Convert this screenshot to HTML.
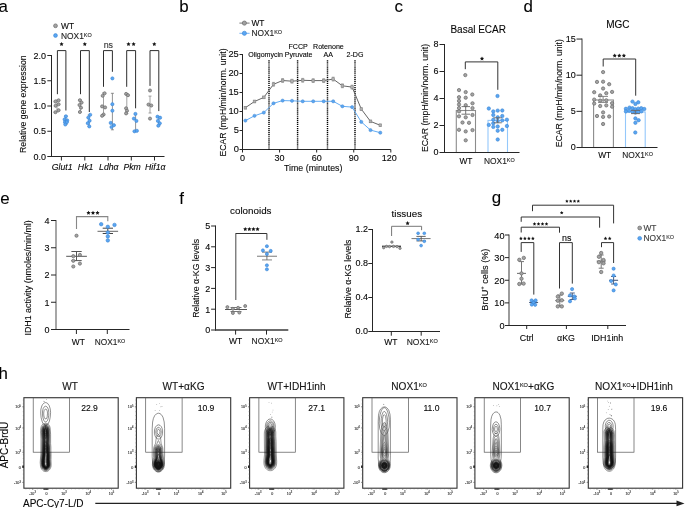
<!DOCTYPE html>
<html><head><meta charset="utf-8"><style>
html,body{margin:0;padding:0;background:#fff;}
svg{display:block;will-change:transform;}
text{font-family:"Liberation Sans",sans-serif;stroke:#222;stroke-width:0.18px;stroke-opacity:0.6;}
</style></head><body>
<svg width="685" height="508" viewBox="0 0 685 508">
<rect width="685" height="508" fill="#fff"/>
<text x="-1.5" y="11.8" font-size="16.9">a</text>
<circle cx="55.5" cy="25.8" r="1.9" fill="#a3a3a3" stroke="#6e6e6e" stroke-width="0.75"/>
<text x="61" y="28.9" font-size="8.4">WT</text>
<circle cx="55.5" cy="35.5" r="1.9" fill="#5aa6f2" stroke="#3a84d4" stroke-width="0.6"/>
<text x="61" y="38.6" font-size="8.4" text-anchor="start" fill="#1c1c1c">NOX1<tspan font-size="5.46" dy="-2.10">KO</tspan></text>
<line x1="51.5" y1="55" x2="51.5" y2="157" stroke="#262626" stroke-width="1.05"/>
<line x1="47.3" y1="55.5" x2="51.5" y2="55.5" stroke="#262626" stroke-width="1.0"/>
<text x="46.1" y="58.65" font-size="9.0" text-anchor="end">2.0</text>
<line x1="47.3" y1="80.75" x2="51.5" y2="80.75" stroke="#262626" stroke-width="1.0"/>
<text x="46.1" y="83.9" font-size="9.0" text-anchor="end">1.5</text>
<line x1="47.3" y1="106" x2="51.5" y2="106" stroke="#262626" stroke-width="1.0"/>
<text x="46.1" y="109.15" font-size="9.0" text-anchor="end">1.0</text>
<line x1="47.3" y1="131.25" x2="51.5" y2="131.25" stroke="#262626" stroke-width="1.0"/>
<text x="46.1" y="134.4" font-size="9.0" text-anchor="end">0.5</text>
<line x1="47.3" y1="156.5" x2="51.5" y2="156.5" stroke="#262626" stroke-width="1.0"/>
<text x="46.1" y="159.65" font-size="9.0" text-anchor="end">0.0</text>
<text x="26.4" y="104.2" font-size="8.7" text-anchor="middle" transform="rotate(-90 26.4 104.2)">Relative gene expression</text>
<line x1="51" y1="156.5" x2="164.5" y2="156.5" stroke="#262626" stroke-width="1.05"/>
<line x1="61.4" y1="156.5" x2="61.4" y2="160.5" stroke="#262626" stroke-width="1.0"/>
<line x1="84.8" y1="156.5" x2="84.8" y2="160.5" stroke="#262626" stroke-width="1.0"/>
<line x1="108" y1="156.5" x2="108" y2="160.5" stroke="#262626" stroke-width="1.0"/>
<line x1="131.3" y1="156.5" x2="131.3" y2="160.5" stroke="#262626" stroke-width="1.0"/>
<line x1="154.5" y1="156.5" x2="154.5" y2="160.5" stroke="#262626" stroke-width="1.0"/>
<text x="62.2" y="169.5" font-size="8.7" text-anchor="middle" font-style="italic">Glut1</text>
<text x="85.6" y="169.5" font-size="8.7" text-anchor="middle" font-style="italic">Hk1</text>
<text x="108.8" y="169.5" font-size="8.7" text-anchor="middle" font-style="italic">Ldh&#945;</text>
<text x="132.1" y="169.5" font-size="8.7" text-anchor="middle" font-style="italic">Pkm</text>
<text x="155.3" y="169.5" font-size="8.7" text-anchor="middle" font-style="italic">Hif1&#945;</text>
<polyline points="57.4,94.2 57.4,50.6 65.9,50.6 65.9,110.5" stroke="#2e2e2e" stroke-width="1.0" fill="none"/>
<polygon points="61.55,41.90 62.20,43.21 63.64,43.42 62.60,44.44 62.84,45.88 61.55,45.20 60.26,45.88 60.50,44.44 59.46,43.42 60.90,43.21" fill="#151515"/>
<polyline points="80.5,94.2 80.5,50.6 89.3,50.6 89.3,112" stroke="#2e2e2e" stroke-width="1.0" fill="none"/>
<polygon points="84.80,41.90 85.45,43.21 86.89,43.42 85.85,44.44 86.09,45.88 84.80,45.20 83.51,45.88 83.75,44.44 82.71,43.42 84.15,43.21" fill="#151515"/>
<polyline points="103.5,86.8 103.5,50.6 112.4,50.6 112.4,71.8" stroke="#2e2e2e" stroke-width="1.0" fill="none"/>
<text x="108.35" y="47.5" font-size="8.9" text-anchor="middle" fill="#3a3a3a">ns</text>
<polyline points="126.7,86.8 126.7,50.6 135.6,50.6 135.6,108.3" stroke="#2e2e2e" stroke-width="1.0" fill="none"/>
<polygon points="128.50,41.90 129.15,43.21 130.59,43.42 129.55,44.44 129.79,45.88 128.50,45.20 127.21,45.88 127.45,44.44 126.41,43.42 127.85,43.21" fill="#151515"/>
<polygon points="133.60,41.90 134.25,43.21 135.69,43.42 134.65,44.44 134.89,45.88 133.60,45.20 132.31,45.88 132.55,44.44 131.51,43.42 132.95,43.21" fill="#151515"/>
<polyline points="150,85.9 150,50.6 158.8,50.6 158.8,111.1" stroke="#2e2e2e" stroke-width="1.0" fill="none"/>
<polygon points="154.30,41.90 154.95,43.21 156.39,43.42 155.35,44.44 155.59,45.88 154.30,45.20 153.01,45.88 153.25,44.44 152.21,43.42 153.65,43.21" fill="#151515"/>
<line x1="57" y1="100" x2="57" y2="112" stroke="#8a8a8a" stroke-width="0.8"/>
<line x1="55.5" y1="100" x2="58.5" y2="100" stroke="#8a8a8a" stroke-width="0.8"/>
<line x1="55.5" y1="112" x2="58.5" y2="112" stroke="#8a8a8a" stroke-width="0.8"/>
<line x1="80.3" y1="100" x2="80.3" y2="112" stroke="#8a8a8a" stroke-width="0.8"/>
<line x1="78.8" y1="100" x2="81.8" y2="100" stroke="#8a8a8a" stroke-width="0.8"/>
<line x1="78.8" y1="112" x2="81.8" y2="112" stroke="#8a8a8a" stroke-width="0.8"/>
<line x1="103.5" y1="93" x2="103.5" y2="115.5" stroke="#8a8a8a" stroke-width="0.8"/>
<line x1="102" y1="93" x2="105" y2="93" stroke="#8a8a8a" stroke-width="0.8"/>
<line x1="102" y1="115.5" x2="105" y2="115.5" stroke="#8a8a8a" stroke-width="0.8"/>
<line x1="126.8" y1="93.5" x2="126.8" y2="113.5" stroke="#8a8a8a" stroke-width="0.8"/>
<line x1="125.3" y1="93.5" x2="128.3" y2="93.5" stroke="#8a8a8a" stroke-width="0.8"/>
<line x1="125.3" y1="113.5" x2="128.3" y2="113.5" stroke="#8a8a8a" stroke-width="0.8"/>
<line x1="150" y1="96.1" x2="150" y2="113" stroke="#8a8a8a" stroke-width="0.8"/>
<line x1="148.5" y1="96.1" x2="151.5" y2="96.1" stroke="#8a8a8a" stroke-width="0.8"/>
<line x1="148.5" y1="113" x2="151.5" y2="113" stroke="#8a8a8a" stroke-width="0.8"/>
<line x1="65.9" y1="116" x2="65.9" y2="124.5" stroke="#767676" stroke-width="0.8"/>
<line x1="64.4" y1="116" x2="67.4" y2="116" stroke="#767676" stroke-width="0.8"/>
<line x1="64.4" y1="124.5" x2="67.4" y2="124.5" stroke="#767676" stroke-width="0.8"/>
<line x1="89.2" y1="115" x2="89.2" y2="126.5" stroke="#767676" stroke-width="0.8"/>
<line x1="87.7" y1="115" x2="90.7" y2="115" stroke="#767676" stroke-width="0.8"/>
<line x1="87.7" y1="126.5" x2="90.7" y2="126.5" stroke="#767676" stroke-width="0.8"/>
<line x1="112.4" y1="93.3" x2="112.4" y2="129.8" stroke="#767676" stroke-width="0.8"/>
<line x1="110.9" y1="93.3" x2="113.9" y2="93.3" stroke="#767676" stroke-width="0.8"/>
<line x1="110.9" y1="129.8" x2="113.9" y2="129.8" stroke="#767676" stroke-width="0.8"/>
<line x1="135.6" y1="114" x2="135.6" y2="131" stroke="#767676" stroke-width="0.8"/>
<line x1="134.1" y1="114" x2="137.1" y2="114" stroke="#767676" stroke-width="0.8"/>
<line x1="134.1" y1="131" x2="137.1" y2="131" stroke="#767676" stroke-width="0.8"/>
<line x1="158.8" y1="116.7" x2="158.8" y2="125.7" stroke="#767676" stroke-width="0.8"/>
<line x1="157.3" y1="116.7" x2="160.3" y2="116.7" stroke="#767676" stroke-width="0.8"/>
<line x1="157.3" y1="125.7" x2="160.3" y2="125.7" stroke="#767676" stroke-width="0.8"/>
<circle cx="58.6" cy="100.3" r="1.55" fill="#a3a3a3" stroke="#6e6e6e" stroke-width="0.75"/>
<circle cx="55.4" cy="101.5" r="1.55" fill="#a3a3a3" stroke="#6e6e6e" stroke-width="0.75"/>
<circle cx="58.6" cy="104.3" r="1.55" fill="#a3a3a3" stroke="#6e6e6e" stroke-width="0.75"/>
<circle cx="55.6" cy="105.8" r="1.55" fill="#a3a3a3" stroke="#6e6e6e" stroke-width="0.75"/>
<circle cx="58.6" cy="110.2" r="1.55" fill="#a3a3a3" stroke="#6e6e6e" stroke-width="0.75"/>
<circle cx="55.4" cy="112.2" r="1.55" fill="#a3a3a3" stroke="#6e6e6e" stroke-width="0.75"/>
<circle cx="79.9" cy="100.2" r="1.55" fill="#a3a3a3" stroke="#6e6e6e" stroke-width="0.75"/>
<circle cx="81.6" cy="102.6" r="1.55" fill="#a3a3a3" stroke="#6e6e6e" stroke-width="0.75"/>
<circle cx="79.5" cy="105" r="1.55" fill="#a3a3a3" stroke="#6e6e6e" stroke-width="0.75"/>
<circle cx="81" cy="107.7" r="1.55" fill="#a3a3a3" stroke="#6e6e6e" stroke-width="0.75"/>
<circle cx="79.9" cy="112" r="1.55" fill="#a3a3a3" stroke="#6e6e6e" stroke-width="0.75"/>
<circle cx="104.6" cy="93.3" r="1.55" fill="#a3a3a3" stroke="#6e6e6e" stroke-width="0.75"/>
<circle cx="102.7" cy="95.8" r="1.55" fill="#a3a3a3" stroke="#6e6e6e" stroke-width="0.75"/>
<circle cx="102.1" cy="106.4" r="1.55" fill="#a3a3a3" stroke="#6e6e6e" stroke-width="0.75"/>
<circle cx="105.1" cy="107.4" r="1.55" fill="#a3a3a3" stroke="#6e6e6e" stroke-width="0.75"/>
<circle cx="103.6" cy="114.5" r="1.55" fill="#a3a3a3" stroke="#6e6e6e" stroke-width="0.75"/>
<circle cx="102.1" cy="115.8" r="1.55" fill="#a3a3a3" stroke="#6e6e6e" stroke-width="0.75"/>
<circle cx="126.1" cy="93.9" r="1.55" fill="#a3a3a3" stroke="#6e6e6e" stroke-width="0.75"/>
<circle cx="128" cy="95.2" r="1.55" fill="#a3a3a3" stroke="#6e6e6e" stroke-width="0.75"/>
<circle cx="126.1" cy="108.3" r="1.55" fill="#a3a3a3" stroke="#6e6e6e" stroke-width="0.75"/>
<circle cx="127" cy="110.7" r="1.55" fill="#a3a3a3" stroke="#6e6e6e" stroke-width="0.75"/>
<circle cx="126.1" cy="113.4" r="1.55" fill="#a3a3a3" stroke="#6e6e6e" stroke-width="0.75"/>
<circle cx="150" cy="90.5" r="1.55" fill="#a3a3a3" stroke="#6e6e6e" stroke-width="0.75"/>
<circle cx="148.5" cy="104.6" r="1.55" fill="#a3a3a3" stroke="#6e6e6e" stroke-width="0.75"/>
<circle cx="151.3" cy="105.5" r="1.55" fill="#a3a3a3" stroke="#6e6e6e" stroke-width="0.75"/>
<circle cx="150" cy="118.6" r="1.55" fill="#a3a3a3" stroke="#6e6e6e" stroke-width="0.75"/>
<circle cx="65.9" cy="116.3" r="1.6" fill="#5aa6f2" stroke="#3a84d4" stroke-width="0.6"/>
<circle cx="64.6" cy="119.4" r="1.6" fill="#5aa6f2" stroke="#3a84d4" stroke-width="0.6"/>
<circle cx="67.2" cy="120.4" r="1.6" fill="#5aa6f2" stroke="#3a84d4" stroke-width="0.6"/>
<circle cx="65" cy="122.2" r="1.6" fill="#5aa6f2" stroke="#3a84d4" stroke-width="0.6"/>
<circle cx="66.8" cy="122.2" r="1.6" fill="#5aa6f2" stroke="#3a84d4" stroke-width="0.6"/>
<circle cx="65.3" cy="124.5" r="1.6" fill="#5aa6f2" stroke="#3a84d4" stroke-width="0.6"/>
<circle cx="90.2" cy="114.8" r="1.6" fill="#5aa6f2" stroke="#3a84d4" stroke-width="0.6"/>
<circle cx="88.3" cy="117.6" r="1.6" fill="#5aa6f2" stroke="#3a84d4" stroke-width="0.6"/>
<circle cx="89.6" cy="120.7" r="1.6" fill="#5aa6f2" stroke="#3a84d4" stroke-width="0.6"/>
<circle cx="87.8" cy="123.2" r="1.6" fill="#5aa6f2" stroke="#3a84d4" stroke-width="0.6"/>
<circle cx="89.3" cy="126.4" r="1.6" fill="#5aa6f2" stroke="#3a84d4" stroke-width="0.6"/>
<circle cx="112.4" cy="78.4" r="1.6" fill="#5aa6f2" stroke="#3a84d4" stroke-width="0.6"/>
<circle cx="112.4" cy="104.2" r="1.6" fill="#5aa6f2" stroke="#3a84d4" stroke-width="0.6"/>
<circle cx="112.4" cy="110.7" r="1.6" fill="#5aa6f2" stroke="#3a84d4" stroke-width="0.6"/>
<circle cx="110.7" cy="122.9" r="1.6" fill="#5aa6f2" stroke="#3a84d4" stroke-width="0.6"/>
<circle cx="113.9" cy="125.2" r="1.6" fill="#5aa6f2" stroke="#3a84d4" stroke-width="0.6"/>
<circle cx="111.5" cy="127" r="1.6" fill="#5aa6f2" stroke="#3a84d4" stroke-width="0.6"/>
<circle cx="135.4" cy="113.9" r="1.6" fill="#5aa6f2" stroke="#3a84d4" stroke-width="0.6"/>
<circle cx="133.9" cy="118.6" r="1.6" fill="#5aa6f2" stroke="#3a84d4" stroke-width="0.6"/>
<circle cx="136.4" cy="120.9" r="1.6" fill="#5aa6f2" stroke="#3a84d4" stroke-width="0.6"/>
<circle cx="134.5" cy="131.3" r="1.6" fill="#5aa6f2" stroke="#3a84d4" stroke-width="0.6"/>
<circle cx="136.9" cy="130.8" r="1.6" fill="#5aa6f2" stroke="#3a84d4" stroke-width="0.6"/>
<circle cx="157.5" cy="116.7" r="1.6" fill="#5aa6f2" stroke="#3a84d4" stroke-width="0.6"/>
<circle cx="160.1" cy="117.7" r="1.6" fill="#5aa6f2" stroke="#3a84d4" stroke-width="0.6"/>
<circle cx="157.9" cy="120.9" r="1.6" fill="#5aa6f2" stroke="#3a84d4" stroke-width="0.6"/>
<circle cx="159.8" cy="123.3" r="1.6" fill="#5aa6f2" stroke="#3a84d4" stroke-width="0.6"/>
<circle cx="158.3" cy="125.7" r="1.6" fill="#5aa6f2" stroke="#3a84d4" stroke-width="0.6"/>
<text x="179.3" y="12" font-size="16.9">b</text>
<line x1="239.4" y1="23.1" x2="249.6" y2="23.1" stroke="#6a6a6a" stroke-width="0.9"/>
<circle cx="244.4" cy="23.1" r="2.1" fill="#a0a0a0" stroke="#6a6a6a" stroke-width="0.7"/>
<text x="251.4" y="26.1" font-size="8.4">WT</text>
<line x1="239.4" y1="33.3" x2="249.6" y2="33.3" stroke="#6aaaf0" stroke-width="0.9"/>
<circle cx="244.4" cy="33.3" r="2.1" fill="#5aa6f2" stroke="#3a84d4" stroke-width="0.6"/>
<text x="251.4" y="36.3" font-size="8.4" text-anchor="start" fill="#1c1c1c">NOX1<tspan font-size="5.46" dy="-2.10">KO</tspan></text>
<line x1="242.5" y1="54" x2="242.5" y2="150" stroke="#262626" stroke-width="1.05"/>
<line x1="239.5" y1="54.5" x2="242.5" y2="54.5" stroke="#262626" stroke-width="1.0"/>
<text x="238.8" y="57.36" font-size="9.3" text-anchor="end">25</text>
<line x1="239.5" y1="73.5" x2="242.5" y2="73.5" stroke="#262626" stroke-width="1.0"/>
<text x="238.8" y="76.35" font-size="9.3" text-anchor="end">20</text>
<line x1="239.5" y1="92.5" x2="242.5" y2="92.5" stroke="#262626" stroke-width="1.0"/>
<text x="238.8" y="95.35" font-size="9.3" text-anchor="end">15</text>
<line x1="239.5" y1="111.5" x2="242.5" y2="111.5" stroke="#262626" stroke-width="1.0"/>
<text x="238.8" y="114.35" font-size="9.3" text-anchor="end">10</text>
<line x1="239.5" y1="130.5" x2="242.5" y2="130.5" stroke="#262626" stroke-width="1.0"/>
<text x="238.8" y="133.35" font-size="9.3" text-anchor="end">5</text>
<line x1="239.5" y1="149.5" x2="242.5" y2="149.5" stroke="#262626" stroke-width="1.0"/>
<text x="238.8" y="152.35" font-size="9.3" text-anchor="end">0</text>
<line x1="242" y1="149.5" x2="390.82" y2="149.5" stroke="#262626" stroke-width="1.05"/>
<line x1="242.5" y1="149.5" x2="242.5" y2="152.5" stroke="#262626" stroke-width="1.0"/>
<line x1="279.58" y1="149.5" x2="279.58" y2="152.5" stroke="#262626" stroke-width="1.0"/>
<line x1="316.66" y1="149.5" x2="316.66" y2="152.5" stroke="#262626" stroke-width="1.0"/>
<line x1="353.74" y1="149.5" x2="353.74" y2="152.5" stroke="#262626" stroke-width="1.0"/>
<line x1="390.82" y1="149.5" x2="390.82" y2="152.5" stroke="#262626" stroke-width="1.0"/>
<text x="242.5" y="161.3" font-size="9.0" text-anchor="middle">0</text>
<text x="279.58" y="161.3" font-size="9.0" text-anchor="middle">30</text>
<text x="316.66" y="161.3" font-size="9.0" text-anchor="middle">60</text>
<text x="353.74" y="161.3" font-size="9.0" text-anchor="middle">90</text>
<text x="389.32" y="161.3" font-size="9.0" text-anchor="middle">120</text>
<text x="313.2" y="171.2" font-size="8.8" text-anchor="middle">Time (minutes)</text>
<text x="225.6" y="102.5" font-size="8.7" text-anchor="middle" transform="rotate(-90 225.6 102.5)">ECAR (mpH/min/norm. unit)</text>
<line x1="269" y1="60.3" x2="269" y2="149.5" stroke="#000" stroke-width="1.45" stroke-dasharray="1.2 0.85"/>
<line x1="297.6" y1="60.3" x2="297.6" y2="149.5" stroke="#000" stroke-width="1.45" stroke-dasharray="1.2 0.85"/>
<line x1="327.5" y1="60.3" x2="327.5" y2="149.5" stroke="#000" stroke-width="1.45" stroke-dasharray="1.2 0.85"/>
<line x1="355" y1="60.3" x2="355" y2="149.5" stroke="#000" stroke-width="1.45" stroke-dasharray="1.2 0.85"/>
<text x="265.6" y="56.6" font-size="7.05" text-anchor="middle">Oligomycin</text>
<text x="298.6" y="56.6" font-size="7.05" text-anchor="middle">Pyruvate</text>
<text x="298.1" y="49.3" font-size="7.1" text-anchor="middle">FCCP</text>
<text x="328.4" y="49.4" font-size="7.1" text-anchor="middle">Rotenone</text>
<text x="328.3" y="56.8" font-size="7.1" text-anchor="middle">AA</text>
<text x="355" y="56.8" font-size="7.1" text-anchor="middle">2-DG</text>
<polyline points="245.4,107.7 254.5,101.5 263.8,97.4 273.5,84.3 282.6,80.5 292,81.2 302.7,80.3 313.2,80.6 323.7,80.6 333.2,79.1 342.4,85.8 352.1,87.1 361.3,109.1 370.5,121.4 380.3,125.3" stroke="#666" stroke-width="1.0" fill="none"/>
<polyline points="245.4,120.6 254.5,115.8 263.8,112.6 273.5,103.3 282.6,100.6 292,100.8 302.7,101.3 313.2,101.3 323.7,101.3 333.2,101.3 342.4,106.3 352.1,107.1 361.3,121.9 370.5,130.1 380.3,132.7" stroke="#5aa6f2" stroke-width="0.95" fill="none"/>
<line x1="245.4" y1="106.5" x2="245.4" y2="108.9" stroke="#888" stroke-width="0.7"/>
<line x1="244" y1="106.5" x2="246.8" y2="106.5" stroke="#888" stroke-width="0.7"/>
<line x1="244" y1="108.9" x2="246.8" y2="108.9" stroke="#888" stroke-width="0.7"/>
<rect x="244.05" y="106.35" width="2.7" height="2.7" fill="#b0b0b0" stroke="#808080" stroke-width="0.5"/>
<line x1="254.5" y1="100.3" x2="254.5" y2="102.7" stroke="#888" stroke-width="0.7"/>
<line x1="253.1" y1="100.3" x2="255.9" y2="100.3" stroke="#888" stroke-width="0.7"/>
<line x1="253.1" y1="102.7" x2="255.9" y2="102.7" stroke="#888" stroke-width="0.7"/>
<rect x="253.15" y="100.15" width="2.7" height="2.7" fill="#b0b0b0" stroke="#808080" stroke-width="0.5"/>
<line x1="263.8" y1="96.2" x2="263.8" y2="98.6" stroke="#888" stroke-width="0.7"/>
<line x1="262.4" y1="96.2" x2="265.2" y2="96.2" stroke="#888" stroke-width="0.7"/>
<line x1="262.4" y1="98.6" x2="265.2" y2="98.6" stroke="#888" stroke-width="0.7"/>
<rect x="262.45" y="96.05" width="2.7" height="2.7" fill="#b0b0b0" stroke="#808080" stroke-width="0.5"/>
<line x1="273.5" y1="82.4" x2="273.5" y2="86.2" stroke="#888" stroke-width="0.7"/>
<line x1="272.1" y1="82.4" x2="274.9" y2="82.4" stroke="#888" stroke-width="0.7"/>
<line x1="272.1" y1="86.2" x2="274.9" y2="86.2" stroke="#888" stroke-width="0.7"/>
<rect x="272.15" y="82.95" width="2.7" height="2.7" fill="#b0b0b0" stroke="#808080" stroke-width="0.5"/>
<line x1="282.6" y1="78.6" x2="282.6" y2="82.4" stroke="#888" stroke-width="0.7"/>
<line x1="281.2" y1="78.6" x2="284" y2="78.6" stroke="#888" stroke-width="0.7"/>
<line x1="281.2" y1="82.4" x2="284" y2="82.4" stroke="#888" stroke-width="0.7"/>
<rect x="281.25" y="79.15" width="2.7" height="2.7" fill="#b0b0b0" stroke="#808080" stroke-width="0.5"/>
<line x1="292" y1="79.3" x2="292" y2="83.1" stroke="#888" stroke-width="0.7"/>
<line x1="290.6" y1="79.3" x2="293.4" y2="79.3" stroke="#888" stroke-width="0.7"/>
<line x1="290.6" y1="83.1" x2="293.4" y2="83.1" stroke="#888" stroke-width="0.7"/>
<rect x="290.65" y="79.85" width="2.7" height="2.7" fill="#b0b0b0" stroke="#808080" stroke-width="0.5"/>
<line x1="302.7" y1="78.4" x2="302.7" y2="82.2" stroke="#888" stroke-width="0.7"/>
<line x1="301.3" y1="78.4" x2="304.1" y2="78.4" stroke="#888" stroke-width="0.7"/>
<line x1="301.3" y1="82.2" x2="304.1" y2="82.2" stroke="#888" stroke-width="0.7"/>
<rect x="301.35" y="78.95" width="2.7" height="2.7" fill="#b0b0b0" stroke="#808080" stroke-width="0.5"/>
<line x1="313.2" y1="78.7" x2="313.2" y2="82.5" stroke="#888" stroke-width="0.7"/>
<line x1="311.8" y1="78.7" x2="314.6" y2="78.7" stroke="#888" stroke-width="0.7"/>
<line x1="311.8" y1="82.5" x2="314.6" y2="82.5" stroke="#888" stroke-width="0.7"/>
<rect x="311.85" y="79.25" width="2.7" height="2.7" fill="#b0b0b0" stroke="#808080" stroke-width="0.5"/>
<line x1="323.7" y1="78.7" x2="323.7" y2="82.5" stroke="#888" stroke-width="0.7"/>
<line x1="322.3" y1="78.7" x2="325.1" y2="78.7" stroke="#888" stroke-width="0.7"/>
<line x1="322.3" y1="82.5" x2="325.1" y2="82.5" stroke="#888" stroke-width="0.7"/>
<rect x="322.35" y="79.25" width="2.7" height="2.7" fill="#b0b0b0" stroke="#808080" stroke-width="0.5"/>
<line x1="333.2" y1="77.2" x2="333.2" y2="81" stroke="#888" stroke-width="0.7"/>
<line x1="331.8" y1="77.2" x2="334.6" y2="77.2" stroke="#888" stroke-width="0.7"/>
<line x1="331.8" y1="81" x2="334.6" y2="81" stroke="#888" stroke-width="0.7"/>
<rect x="331.85" y="77.75" width="2.7" height="2.7" fill="#b0b0b0" stroke="#808080" stroke-width="0.5"/>
<line x1="342.4" y1="83.9" x2="342.4" y2="87.7" stroke="#888" stroke-width="0.7"/>
<line x1="341" y1="83.9" x2="343.8" y2="83.9" stroke="#888" stroke-width="0.7"/>
<line x1="341" y1="87.7" x2="343.8" y2="87.7" stroke="#888" stroke-width="0.7"/>
<rect x="341.05" y="84.45" width="2.7" height="2.7" fill="#b0b0b0" stroke="#808080" stroke-width="0.5"/>
<line x1="352.1" y1="85.2" x2="352.1" y2="89" stroke="#888" stroke-width="0.7"/>
<line x1="350.7" y1="85.2" x2="353.5" y2="85.2" stroke="#888" stroke-width="0.7"/>
<line x1="350.7" y1="89" x2="353.5" y2="89" stroke="#888" stroke-width="0.7"/>
<rect x="350.75" y="85.75" width="2.7" height="2.7" fill="#b0b0b0" stroke="#808080" stroke-width="0.5"/>
<line x1="361.3" y1="107.9" x2="361.3" y2="110.3" stroke="#888" stroke-width="0.7"/>
<line x1="359.9" y1="107.9" x2="362.7" y2="107.9" stroke="#888" stroke-width="0.7"/>
<line x1="359.9" y1="110.3" x2="362.7" y2="110.3" stroke="#888" stroke-width="0.7"/>
<rect x="359.95" y="107.75" width="2.7" height="2.7" fill="#b0b0b0" stroke="#808080" stroke-width="0.5"/>
<line x1="370.5" y1="120.2" x2="370.5" y2="122.6" stroke="#888" stroke-width="0.7"/>
<line x1="369.1" y1="120.2" x2="371.9" y2="120.2" stroke="#888" stroke-width="0.7"/>
<line x1="369.1" y1="122.6" x2="371.9" y2="122.6" stroke="#888" stroke-width="0.7"/>
<rect x="369.15" y="120.05" width="2.7" height="2.7" fill="#b0b0b0" stroke="#808080" stroke-width="0.5"/>
<line x1="380.3" y1="124.1" x2="380.3" y2="126.5" stroke="#888" stroke-width="0.7"/>
<line x1="378.9" y1="124.1" x2="381.7" y2="124.1" stroke="#888" stroke-width="0.7"/>
<line x1="378.9" y1="126.5" x2="381.7" y2="126.5" stroke="#888" stroke-width="0.7"/>
<rect x="378.95" y="123.95" width="2.7" height="2.7" fill="#b0b0b0" stroke="#808080" stroke-width="0.5"/>
<circle cx="245.4" cy="120.6" r="1.6" fill="#5aa6f2" stroke="#4a8ad0" stroke-width="0.5"/>
<circle cx="254.5" cy="115.8" r="1.6" fill="#5aa6f2" stroke="#4a8ad0" stroke-width="0.5"/>
<circle cx="263.8" cy="112.6" r="1.6" fill="#5aa6f2" stroke="#4a8ad0" stroke-width="0.5"/>
<circle cx="273.5" cy="103.3" r="1.6" fill="#5aa6f2" stroke="#4a8ad0" stroke-width="0.5"/>
<circle cx="282.6" cy="100.6" r="1.6" fill="#5aa6f2" stroke="#4a8ad0" stroke-width="0.5"/>
<circle cx="292" cy="100.8" r="1.6" fill="#5aa6f2" stroke="#4a8ad0" stroke-width="0.5"/>
<circle cx="302.7" cy="101.3" r="1.6" fill="#5aa6f2" stroke="#4a8ad0" stroke-width="0.5"/>
<circle cx="313.2" cy="101.3" r="1.6" fill="#5aa6f2" stroke="#4a8ad0" stroke-width="0.5"/>
<circle cx="323.7" cy="101.3" r="1.6" fill="#5aa6f2" stroke="#4a8ad0" stroke-width="0.5"/>
<circle cx="333.2" cy="101.3" r="1.6" fill="#5aa6f2" stroke="#4a8ad0" stroke-width="0.5"/>
<circle cx="342.4" cy="106.3" r="1.6" fill="#5aa6f2" stroke="#4a8ad0" stroke-width="0.5"/>
<circle cx="352.1" cy="107.1" r="1.6" fill="#5aa6f2" stroke="#4a8ad0" stroke-width="0.5"/>
<circle cx="361.3" cy="121.9" r="1.6" fill="#5aa6f2" stroke="#4a8ad0" stroke-width="0.5"/>
<circle cx="370.5" cy="130.1" r="1.6" fill="#5aa6f2" stroke="#4a8ad0" stroke-width="0.5"/>
<circle cx="380.3" cy="132.7" r="1.6" fill="#5aa6f2" stroke="#4a8ad0" stroke-width="0.5"/>
<text x="394.4" y="12" font-size="16.9">c</text>
<text x="478.2" y="33.2" font-size="10.0" text-anchor="middle">Basal ECAR</text>
<text x="428.3" y="98" font-size="8.7" text-anchor="middle" transform="rotate(-90 428.3 98)">ECAR (mpH/min/norm. unit)</text>
<rect x="456.3" y="110.5" width="19.2" height="42" fill="#fff" stroke="#8c8c8c" stroke-width="1.1"/>
<rect x="488.0" y="120.4" width="19.5" height="32.1" fill="#fff" stroke="#94c8fb" stroke-width="1.1"/>
<circle cx="465.3" cy="75.1" r="1.65" fill="#a3a3a3" stroke="#6e6e6e" stroke-width="0.75"/>
<circle cx="459" cy="90.1" r="1.65" fill="#a3a3a3" stroke="#6e6e6e" stroke-width="0.75"/>
<circle cx="465.7" cy="92.1" r="1.65" fill="#a3a3a3" stroke="#6e6e6e" stroke-width="0.75"/>
<circle cx="472.3" cy="94.5" r="1.65" fill="#a3a3a3" stroke="#6e6e6e" stroke-width="0.75"/>
<circle cx="459" cy="97.2" r="1.65" fill="#a3a3a3" stroke="#6e6e6e" stroke-width="0.75"/>
<circle cx="465.7" cy="97.7" r="1.65" fill="#a3a3a3" stroke="#6e6e6e" stroke-width="0.75"/>
<circle cx="459" cy="100.9" r="1.65" fill="#a3a3a3" stroke="#6e6e6e" stroke-width="0.75"/>
<circle cx="472.5" cy="103.3" r="1.65" fill="#a3a3a3" stroke="#6e6e6e" stroke-width="0.75"/>
<circle cx="459" cy="104.5" r="1.65" fill="#a3a3a3" stroke="#6e6e6e" stroke-width="0.75"/>
<circle cx="465.7" cy="105.2" r="1.65" fill="#a3a3a3" stroke="#6e6e6e" stroke-width="0.75"/>
<circle cx="459" cy="108.1" r="1.65" fill="#a3a3a3" stroke="#6e6e6e" stroke-width="0.75"/>
<circle cx="472.5" cy="108.1" r="1.65" fill="#a3a3a3" stroke="#6e6e6e" stroke-width="0.75"/>
<circle cx="459" cy="111.4" r="1.65" fill="#a3a3a3" stroke="#6e6e6e" stroke-width="0.75"/>
<circle cx="459" cy="116.3" r="1.65" fill="#a3a3a3" stroke="#6e6e6e" stroke-width="0.75"/>
<circle cx="465.7" cy="117.3" r="1.65" fill="#a3a3a3" stroke="#6e6e6e" stroke-width="0.75"/>
<circle cx="472.5" cy="115" r="1.65" fill="#a3a3a3" stroke="#6e6e6e" stroke-width="0.75"/>
<circle cx="462.5" cy="122.5" r="1.65" fill="#a3a3a3" stroke="#6e6e6e" stroke-width="0.75"/>
<circle cx="469" cy="122.8" r="1.65" fill="#a3a3a3" stroke="#6e6e6e" stroke-width="0.75"/>
<circle cx="459" cy="129.8" r="1.65" fill="#a3a3a3" stroke="#6e6e6e" stroke-width="0.75"/>
<circle cx="465.7" cy="131.4" r="1.65" fill="#a3a3a3" stroke="#6e6e6e" stroke-width="0.75"/>
<circle cx="472.5" cy="130.1" r="1.65" fill="#a3a3a3" stroke="#6e6e6e" stroke-width="0.75"/>
<circle cx="465.7" cy="140.3" r="1.65" fill="#a3a3a3" stroke="#6e6e6e" stroke-width="0.75"/>
<circle cx="497.5" cy="96" r="1.7" fill="#5aa6f2" stroke="#3a84d4" stroke-width="0.6"/>
<circle cx="488.8" cy="108.5" r="1.7" fill="#5aa6f2" stroke="#3a84d4" stroke-width="0.6"/>
<circle cx="493.3" cy="111.4" r="1.7" fill="#5aa6f2" stroke="#3a84d4" stroke-width="0.6"/>
<circle cx="497.7" cy="110.6" r="1.7" fill="#5aa6f2" stroke="#3a84d4" stroke-width="0.6"/>
<circle cx="502.3" cy="110.5" r="1.7" fill="#5aa6f2" stroke="#3a84d4" stroke-width="0.6"/>
<circle cx="493.3" cy="115" r="1.7" fill="#5aa6f2" stroke="#3a84d4" stroke-width="0.6"/>
<circle cx="497.7" cy="117.3" r="1.7" fill="#5aa6f2" stroke="#3a84d4" stroke-width="0.6"/>
<circle cx="502.3" cy="116" r="1.7" fill="#5aa6f2" stroke="#3a84d4" stroke-width="0.6"/>
<circle cx="493.3" cy="119.7" r="1.7" fill="#5aa6f2" stroke="#3a84d4" stroke-width="0.6"/>
<circle cx="497.7" cy="120.9" r="1.7" fill="#5aa6f2" stroke="#3a84d4" stroke-width="0.6"/>
<circle cx="502.3" cy="120.4" r="1.7" fill="#5aa6f2" stroke="#3a84d4" stroke-width="0.6"/>
<circle cx="506.9" cy="119.7" r="1.7" fill="#5aa6f2" stroke="#3a84d4" stroke-width="0.6"/>
<circle cx="488.8" cy="124.9" r="1.7" fill="#5aa6f2" stroke="#3a84d4" stroke-width="0.6"/>
<circle cx="493.3" cy="123.3" r="1.7" fill="#5aa6f2" stroke="#3a84d4" stroke-width="0.6"/>
<circle cx="493.3" cy="126.9" r="1.7" fill="#5aa6f2" stroke="#3a84d4" stroke-width="0.6"/>
<circle cx="497.7" cy="126.5" r="1.7" fill="#5aa6f2" stroke="#3a84d4" stroke-width="0.6"/>
<circle cx="506.9" cy="126" r="1.7" fill="#5aa6f2" stroke="#3a84d4" stroke-width="0.6"/>
<circle cx="497.7" cy="130.7" r="1.7" fill="#5aa6f2" stroke="#3a84d4" stroke-width="0.6"/>
<circle cx="502.3" cy="129.8" r="1.7" fill="#5aa6f2" stroke="#3a84d4" stroke-width="0.6"/>
<circle cx="497.7" cy="139.5" r="1.7" fill="#5aa6f2" stroke="#3a84d4" stroke-width="0.6"/>
<line x1="465.7" y1="106.6" x2="465.7" y2="114.2" stroke="#666" stroke-width="0.9"/>
<line x1="461.5" y1="106.6" x2="470" y2="106.6" stroke="#666" stroke-width="0.9"/>
<line x1="461.5" y1="114.2" x2="470" y2="114.2" stroke="#666" stroke-width="0.9"/>
<line x1="497.6" y1="117.8" x2="497.6" y2="122.8" stroke="#666" stroke-width="0.9"/>
<line x1="493.5" y1="117.8" x2="501.8" y2="117.8" stroke="#666" stroke-width="0.9"/>
<line x1="493.5" y1="122.8" x2="501.8" y2="122.8" stroke="#666" stroke-width="0.9"/>
<line x1="444.5" y1="44" x2="444.5" y2="153" stroke="#262626" stroke-width="1.05"/>
<line x1="439.5" y1="44.5" x2="444.5" y2="44.5" stroke="#262626" stroke-width="1.0"/>
<text x="438.5" y="46.75" font-size="9.0" text-anchor="end">8</text>
<line x1="439.5" y1="71.5" x2="444.5" y2="71.5" stroke="#262626" stroke-width="1.0"/>
<text x="438.5" y="73.75" font-size="9.0" text-anchor="end">6</text>
<line x1="439.5" y1="98.5" x2="444.5" y2="98.5" stroke="#262626" stroke-width="1.0"/>
<text x="438.5" y="100.75" font-size="9.0" text-anchor="end">4</text>
<line x1="439.5" y1="125.5" x2="444.5" y2="125.5" stroke="#262626" stroke-width="1.0"/>
<text x="438.5" y="127.75" font-size="9.0" text-anchor="end">2</text>
<line x1="439.5" y1="152.5" x2="444.5" y2="152.5" stroke="#262626" stroke-width="1.0"/>
<text x="438.5" y="154.75" font-size="9.0" text-anchor="end">0</text>
<line x1="444" y1="152.5" x2="519.5" y2="152.5" stroke="#262626" stroke-width="1.05"/>
<polyline points="465.3,69.2 465.3,61.9 497.8,61.9 497.8,89.8" stroke="#333" stroke-width="1.0" fill="none"/>
<polygon points="482.00,56.40 482.65,57.71 484.09,57.92 483.05,58.94 483.29,60.38 482.00,59.70 480.71,60.38 480.95,58.94 479.91,57.92 481.35,57.71" fill="#151515"/>
<text x="465.9" y="163.6" font-size="8.4" text-anchor="middle">WT</text>
<text x="484" y="163.6" font-size="8.4" text-anchor="start" fill="#1c1c1c">NOX1<tspan font-size="5.46" dy="-2.10">KO</tspan></text>
<text x="523.5" y="11.8" font-size="16.9">d</text>
<text x="617.9" y="28.1" font-size="10.0" text-anchor="middle">MGC</text>
<text x="562" y="93.2" font-size="8.7" text-anchor="middle" transform="rotate(-90 562 93.2)">ECAR (mpH/min/norm. unit)</text>
<rect x="593.6" y="100.0" width="19.8" height="47.5" fill="#fff" stroke="#8c8c8c" stroke-width="1.1"/>
<rect x="625.5" y="112.0" width="19.7" height="35.5" fill="#fff" stroke="#94c8fb" stroke-width="1.1"/>
<circle cx="603.1" cy="72.1" r="1.65" fill="#a3a3a3" stroke="#6e6e6e" stroke-width="0.75"/>
<circle cx="597" cy="81.9" r="1.65" fill="#a3a3a3" stroke="#6e6e6e" stroke-width="0.75"/>
<circle cx="603.1" cy="81.7" r="1.65" fill="#a3a3a3" stroke="#6e6e6e" stroke-width="0.75"/>
<circle cx="609.2" cy="84.2" r="1.65" fill="#a3a3a3" stroke="#6e6e6e" stroke-width="0.75"/>
<circle cx="603.1" cy="88.5" r="1.65" fill="#a3a3a3" stroke="#6e6e6e" stroke-width="0.75"/>
<circle cx="594.2" cy="92.2" r="1.65" fill="#a3a3a3" stroke="#6e6e6e" stroke-width="0.75"/>
<circle cx="606.3" cy="93.2" r="1.65" fill="#a3a3a3" stroke="#6e6e6e" stroke-width="0.75"/>
<circle cx="612.1" cy="91.9" r="1.65" fill="#a3a3a3" stroke="#6e6e6e" stroke-width="0.75"/>
<circle cx="600.2" cy="95.4" r="1.65" fill="#a3a3a3" stroke="#6e6e6e" stroke-width="0.75"/>
<circle cx="594.2" cy="99.6" r="1.65" fill="#a3a3a3" stroke="#6e6e6e" stroke-width="0.75"/>
<circle cx="600.2" cy="100.6" r="1.65" fill="#a3a3a3" stroke="#6e6e6e" stroke-width="0.75"/>
<circle cx="606.3" cy="100.3" r="1.65" fill="#a3a3a3" stroke="#6e6e6e" stroke-width="0.75"/>
<circle cx="594.2" cy="103.5" r="1.65" fill="#a3a3a3" stroke="#6e6e6e" stroke-width="0.75"/>
<circle cx="612.1" cy="103.2" r="1.65" fill="#a3a3a3" stroke="#6e6e6e" stroke-width="0.75"/>
<circle cx="600.2" cy="106" r="1.65" fill="#a3a3a3" stroke="#6e6e6e" stroke-width="0.75"/>
<circle cx="606.3" cy="105.4" r="1.65" fill="#a3a3a3" stroke="#6e6e6e" stroke-width="0.75"/>
<circle cx="612.1" cy="106.7" r="1.65" fill="#a3a3a3" stroke="#6e6e6e" stroke-width="0.75"/>
<circle cx="603.1" cy="112.4" r="1.65" fill="#a3a3a3" stroke="#6e6e6e" stroke-width="0.75"/>
<circle cx="597" cy="116" r="1.65" fill="#a3a3a3" stroke="#6e6e6e" stroke-width="0.75"/>
<circle cx="603.1" cy="116.9" r="1.65" fill="#a3a3a3" stroke="#6e6e6e" stroke-width="0.75"/>
<circle cx="609.2" cy="116.5" r="1.65" fill="#a3a3a3" stroke="#6e6e6e" stroke-width="0.75"/>
<circle cx="603.1" cy="124" r="1.65" fill="#a3a3a3" stroke="#6e6e6e" stroke-width="0.75"/>
<circle cx="632.5" cy="101.6" r="1.7" fill="#5aa6f2" stroke="#3a84d4" stroke-width="0.6"/>
<circle cx="638.3" cy="102.3" r="1.7" fill="#5aa6f2" stroke="#3a84d4" stroke-width="0.6"/>
<circle cx="635.4" cy="104" r="1.7" fill="#5aa6f2" stroke="#3a84d4" stroke-width="0.6"/>
<circle cx="625.9" cy="108.8" r="1.7" fill="#5aa6f2" stroke="#3a84d4" stroke-width="0.6"/>
<circle cx="629.5" cy="107.6" r="1.7" fill="#5aa6f2" stroke="#3a84d4" stroke-width="0.6"/>
<circle cx="632.5" cy="108.2" r="1.7" fill="#5aa6f2" stroke="#3a84d4" stroke-width="0.6"/>
<circle cx="635.4" cy="109.2" r="1.7" fill="#5aa6f2" stroke="#3a84d4" stroke-width="0.6"/>
<circle cx="638.3" cy="108.6" r="1.7" fill="#5aa6f2" stroke="#3a84d4" stroke-width="0.6"/>
<circle cx="641.3" cy="108.2" r="1.7" fill="#5aa6f2" stroke="#3a84d4" stroke-width="0.6"/>
<circle cx="644.3" cy="109" r="1.7" fill="#5aa6f2" stroke="#3a84d4" stroke-width="0.6"/>
<circle cx="625.9" cy="111.4" r="1.7" fill="#5aa6f2" stroke="#3a84d4" stroke-width="0.6"/>
<circle cx="629.2" cy="110.8" r="1.7" fill="#5aa6f2" stroke="#3a84d4" stroke-width="0.6"/>
<circle cx="632.5" cy="111.6" r="1.7" fill="#5aa6f2" stroke="#3a84d4" stroke-width="0.6"/>
<circle cx="635.4" cy="112.6" r="1.7" fill="#5aa6f2" stroke="#3a84d4" stroke-width="0.6"/>
<circle cx="638.3" cy="111.8" r="1.7" fill="#5aa6f2" stroke="#3a84d4" stroke-width="0.6"/>
<circle cx="641.3" cy="111.4" r="1.7" fill="#5aa6f2" stroke="#3a84d4" stroke-width="0.6"/>
<circle cx="635.4" cy="118.4" r="1.7" fill="#5aa6f2" stroke="#3a84d4" stroke-width="0.6"/>
<circle cx="638.6" cy="120.2" r="1.7" fill="#5aa6f2" stroke="#3a84d4" stroke-width="0.6"/>
<circle cx="635.4" cy="122.8" r="1.7" fill="#5aa6f2" stroke="#3a84d4" stroke-width="0.6"/>
<circle cx="635.3" cy="132.5" r="1.7" fill="#5aa6f2" stroke="#3a84d4" stroke-width="0.6"/>
<line x1="603.1" y1="96.4" x2="603.1" y2="102.4" stroke="#777" stroke-width="0.9"/>
<line x1="598" y1="96.4" x2="608" y2="96.4" stroke="#777" stroke-width="0.9"/>
<line x1="598" y1="102.4" x2="608" y2="102.4" stroke="#777" stroke-width="0.9"/>
<line x1="635.3" y1="110.4" x2="635.3" y2="113.6" stroke="#666" stroke-width="0.9"/>
<line x1="631" y1="110.4" x2="640" y2="110.4" stroke="#666" stroke-width="0.9"/>
<line x1="631" y1="113.6" x2="640" y2="113.6" stroke="#666" stroke-width="0.9"/>
<line x1="582" y1="38.55" x2="582" y2="148" stroke="#666" stroke-width="1.3"/>
<line x1="576.5" y1="39.05" x2="582" y2="39.05" stroke="#262626" stroke-width="1.0"/>
<text x="575.7" y="41.7" font-size="9.0" text-anchor="end">15</text>
<line x1="576.5" y1="75.2" x2="582" y2="75.2" stroke="#262626" stroke-width="1.0"/>
<text x="575.7" y="77.85" font-size="9.0" text-anchor="end">10</text>
<line x1="576.5" y1="111.35" x2="582" y2="111.35" stroke="#262626" stroke-width="1.0"/>
<text x="575.7" y="114" font-size="9.0" text-anchor="end">5</text>
<line x1="576.5" y1="147.5" x2="582" y2="147.5" stroke="#262626" stroke-width="1.0"/>
<text x="575.7" y="150.15" font-size="9.0" text-anchor="end">0</text>
<line x1="581.5" y1="147.5" x2="657.5" y2="147.5" stroke="#262626" stroke-width="1.05"/>
<polyline points="603.2,66.5 603.2,59 635.7,59 635.7,95.7" stroke="#333" stroke-width="1.0" fill="none"/>
<polygon points="614.70,53.40 615.35,54.71 616.79,54.92 615.75,55.94 615.99,57.38 614.70,56.70 613.41,57.38 613.65,55.94 612.61,54.92 614.05,54.71" fill="#151515"/>
<polygon points="619.30,53.40 619.95,54.71 621.39,54.92 620.35,55.94 620.59,57.38 619.30,56.70 618.01,57.38 618.25,55.94 617.21,54.92 618.65,54.71" fill="#151515"/>
<polygon points="623.90,53.40 624.55,54.71 625.99,54.92 624.95,55.94 625.19,57.38 623.90,56.70 622.61,57.38 622.85,55.94 621.81,54.92 623.25,54.71" fill="#151515"/>
<text x="604.7" y="158.2" font-size="8.4" text-anchor="middle">WT</text>
<text x="622.2" y="158.2" font-size="8.4" text-anchor="start" fill="#1c1c1c">NOX1<tspan font-size="5.46" dy="-2.10">KO</tspan></text>
<text x="0.2" y="203.7" font-size="16.9">e</text>
<text x="31.3" y="277.9" font-size="8.9" text-anchor="middle" transform="rotate(-90 31.3 277.9)">IDH1 activity (nmoles/min/ml)</text>
<line x1="66.2" y1="256.3" x2="86.9" y2="256.3" stroke="#555" stroke-width="1.0"/>
<line x1="71.4" y1="251.5" x2="81.7" y2="251.5" stroke="#555" stroke-width="1.0"/>
<line x1="71.4" y1="260.6" x2="81.7" y2="260.6" stroke="#555" stroke-width="1.0"/>
<line x1="76.5" y1="251.5" x2="76.5" y2="260.6" stroke="#555" stroke-width="1.0"/>
<line x1="97.5" y1="231.3" x2="118.1" y2="231.3" stroke="#666" stroke-width="1.0"/>
<line x1="102.7" y1="228.2" x2="113" y2="228.2" stroke="#444" stroke-width="1.0"/>
<line x1="102.7" y1="233.5" x2="113" y2="233.5" stroke="#444" stroke-width="1.0"/>
<line x1="107.8" y1="228.2" x2="107.8" y2="233.5" stroke="#444" stroke-width="1.0"/>
<circle cx="76.5" cy="235.7" r="1.6" fill="#a3a3a3" stroke="#6e6e6e" stroke-width="0.75"/>
<circle cx="73.3" cy="256.2" r="1.6" fill="#a3a3a3" stroke="#6e6e6e" stroke-width="0.75"/>
<circle cx="79.9" cy="254.9" r="1.6" fill="#a3a3a3" stroke="#6e6e6e" stroke-width="0.75"/>
<circle cx="73.3" cy="260.8" r="1.6" fill="#a3a3a3" stroke="#6e6e6e" stroke-width="0.75"/>
<circle cx="79.9" cy="263.6" r="1.6" fill="#a3a3a3" stroke="#6e6e6e" stroke-width="0.75"/>
<circle cx="73.3" cy="266.5" r="1.6" fill="#a3a3a3" stroke="#6e6e6e" stroke-width="0.75"/>
<circle cx="101.2" cy="224.2" r="1.75" fill="#5aa6f2" stroke="#3a84d4" stroke-width="0.6"/>
<circle cx="107.8" cy="226.8" r="1.75" fill="#5aa6f2" stroke="#3a84d4" stroke-width="0.6"/>
<circle cx="114.5" cy="224.9" r="1.75" fill="#5aa6f2" stroke="#3a84d4" stroke-width="0.6"/>
<circle cx="107.8" cy="232.6" r="1.75" fill="#5aa6f2" stroke="#3a84d4" stroke-width="0.6"/>
<circle cx="107.8" cy="236.4" r="1.75" fill="#5aa6f2" stroke="#3a84d4" stroke-width="0.6"/>
<circle cx="107.8" cy="240.4" r="1.75" fill="#5aa6f2" stroke="#3a84d4" stroke-width="0.6"/>
<line x1="56" y1="220" x2="56" y2="330" stroke="#777" stroke-width="1.3"/>
<line x1="51" y1="220.5" x2="56" y2="220.5" stroke="#262626" stroke-width="1.0"/>
<text x="49.6" y="223.95" font-size="9.0" text-anchor="end">4</text>
<line x1="51" y1="247.75" x2="56" y2="247.75" stroke="#262626" stroke-width="1.0"/>
<text x="49.6" y="251.2" font-size="9.0" text-anchor="end">3</text>
<line x1="51" y1="275" x2="56" y2="275" stroke="#262626" stroke-width="1.0"/>
<text x="49.6" y="278.45" font-size="9.0" text-anchor="end">2</text>
<line x1="51" y1="302.25" x2="56" y2="302.25" stroke="#262626" stroke-width="1.0"/>
<text x="49.6" y="305.7" font-size="9.0" text-anchor="end">1</text>
<line x1="51" y1="329.5" x2="56" y2="329.5" stroke="#262626" stroke-width="1.0"/>
<text x="49.6" y="332.95" font-size="9.0" text-anchor="end">0</text>
<line x1="55.5" y1="329.5" x2="129.5" y2="329.5" stroke="#262626" stroke-width="1.05"/>
<line x1="76.4" y1="329.5" x2="76.4" y2="334" stroke="#262626" stroke-width="1.0"/>
<line x1="107.3" y1="329.5" x2="107.3" y2="334" stroke="#262626" stroke-width="1.0"/>
<polyline points="76.5,228.9 76.5,216.6 107.8,216.6 107.8,221.2" stroke="#888" stroke-width="1.1" fill="none"/>
<polygon points="88.50,210.70 89.15,212.01 90.59,212.22 89.55,213.24 89.79,214.68 88.50,214.00 87.21,214.68 87.45,213.24 86.41,212.22 87.85,212.01" fill="#151515"/>
<polygon points="93.00,210.70 93.65,212.01 95.09,212.22 94.05,213.24 94.29,214.68 93.00,214.00 91.71,214.68 91.95,213.24 90.91,212.22 92.35,212.01" fill="#151515"/>
<polygon points="97.50,210.70 98.15,212.01 99.59,212.22 98.55,213.24 98.79,214.68 97.50,214.00 96.21,214.68 96.45,213.24 95.41,212.22 96.85,212.01" fill="#151515"/>
<text x="78.3" y="344.9" font-size="8.4" text-anchor="middle">WT</text>
<text x="94.8" y="344.9" font-size="8.3" text-anchor="start" fill="#1c1c1c">NOX1<tspan font-size="5.40" dy="-2.08">KO</tspan></text>
<text x="179.3" y="203.5" font-size="16.9">f</text>
<text x="250.8" y="214" font-size="9.8" text-anchor="middle">colonoids</text>
<text x="199.3" y="278.4" font-size="8.7" text-anchor="middle" transform="rotate(-90 199.3 278.4)">Relative &#945;-KG levels</text>
<line x1="225" y1="309.5" x2="247" y2="309.5" stroke="#555" stroke-width="1.0"/>
<line x1="230.5" y1="307.5" x2="241.5" y2="307.5" stroke="#555" stroke-width="0.8"/>
<line x1="230.5" y1="311.5" x2="241.5" y2="311.5" stroke="#555" stroke-width="0.8"/>
<line x1="257" y1="256.3" x2="277" y2="256.3" stroke="#999" stroke-width="1.3"/>
<line x1="262" y1="252.1" x2="272" y2="252.1" stroke="#666" stroke-width="0.9"/>
<line x1="262" y1="259.9" x2="272" y2="259.9" stroke="#999" stroke-width="1.2"/>
<line x1="266.9" y1="252.1" x2="266.9" y2="259.9" stroke="#666" stroke-width="0.9"/>
<circle cx="227.4" cy="307.1" r="1.5" fill="#a3a3a3" stroke="#6e6e6e" stroke-width="0.75"/>
<circle cx="232.9" cy="308.8" r="1.5" fill="#a3a3a3" stroke="#6e6e6e" stroke-width="0.75"/>
<circle cx="238.1" cy="307.8" r="1.5" fill="#a3a3a3" stroke="#6e6e6e" stroke-width="0.75"/>
<circle cx="245.2" cy="306" r="1.5" fill="#a3a3a3" stroke="#6e6e6e" stroke-width="0.75"/>
<circle cx="232.9" cy="313" r="1.5" fill="#a3a3a3" stroke="#6e6e6e" stroke-width="0.75"/>
<circle cx="239.3" cy="312.6" r="1.5" fill="#a3a3a3" stroke="#6e6e6e" stroke-width="0.75"/>
<circle cx="266.9" cy="246.2" r="1.55" fill="#5aa6f2" stroke="#3a84d4" stroke-width="0.6"/>
<circle cx="262.9" cy="250.4" r="1.55" fill="#5aa6f2" stroke="#3a84d4" stroke-width="0.6"/>
<circle cx="270.7" cy="250.9" r="1.55" fill="#5aa6f2" stroke="#3a84d4" stroke-width="0.6"/>
<circle cx="266.9" cy="254" r="1.55" fill="#5aa6f2" stroke="#3a84d4" stroke-width="0.6"/>
<circle cx="266.9" cy="265.3" r="1.55" fill="#5aa6f2" stroke="#3a84d4" stroke-width="0.6"/>
<circle cx="266.9" cy="269.3" r="1.55" fill="#5aa6f2" stroke="#3a84d4" stroke-width="0.6"/>
<line x1="215.5" y1="225.5" x2="215.5" y2="330.5" stroke="#262626" stroke-width="1.05"/>
<line x1="211.1" y1="226" x2="215.5" y2="226" stroke="#262626" stroke-width="1.0"/>
<text x="210.3" y="229.35" font-size="9.0" text-anchor="end">5</text>
<line x1="211.1" y1="246.8" x2="215.5" y2="246.8" stroke="#262626" stroke-width="1.0"/>
<text x="210.3" y="250.15" font-size="9.0" text-anchor="end">4</text>
<line x1="211.1" y1="267.6" x2="215.5" y2="267.6" stroke="#262626" stroke-width="1.0"/>
<text x="210.3" y="270.95" font-size="9.0" text-anchor="end">3</text>
<line x1="211.1" y1="288.4" x2="215.5" y2="288.4" stroke="#262626" stroke-width="1.0"/>
<text x="210.3" y="291.75" font-size="9.0" text-anchor="end">2</text>
<line x1="211.1" y1="309.2" x2="215.5" y2="309.2" stroke="#262626" stroke-width="1.0"/>
<text x="210.3" y="312.55" font-size="9.0" text-anchor="end">1</text>
<line x1="211.1" y1="330" x2="215.5" y2="330" stroke="#262626" stroke-width="1.0"/>
<text x="210.3" y="333.35" font-size="9.0" text-anchor="end">0</text>
<line x1="215" y1="330" x2="288.3" y2="330" stroke="#3a3a3a" stroke-width="1.3"/>
<line x1="235.6" y1="330" x2="235.6" y2="334.6" stroke="#262626" stroke-width="1.0"/>
<line x1="266.5" y1="330" x2="266.5" y2="334.6" stroke="#262626" stroke-width="1.0"/>
<polyline points="235.7,300 235.7,233.5 266.9,233.5 266.9,239.8" stroke="#333" stroke-width="1.0" fill="none"/>
<line x1="235.7" y1="300" x2="235.7" y2="234" stroke="#888" stroke-width="1.1"/>
<polygon points="245.25,227.00 245.90,228.31 247.34,228.52 246.30,229.54 246.54,230.98 245.25,230.30 243.96,230.98 244.20,229.54 243.16,228.52 244.60,228.31" fill="#151515"/>
<polygon points="249.35,227.00 250.00,228.31 251.44,228.52 250.40,229.54 250.64,230.98 249.35,230.30 248.06,230.98 248.30,229.54 247.26,228.52 248.70,228.31" fill="#151515"/>
<polygon points="253.45,227.00 254.10,228.31 255.54,228.52 254.50,229.54 254.74,230.98 253.45,230.30 252.16,230.98 252.40,229.54 251.36,228.52 252.80,228.31" fill="#151515"/>
<polygon points="257.55,227.00 258.20,228.31 259.64,228.52 258.60,229.54 258.84,230.98 257.55,230.30 256.26,230.98 256.50,229.54 255.46,228.52 256.90,228.31" fill="#151515"/>
<text x="235.7" y="343.8" font-size="8.5" text-anchor="middle">WT</text>
<text x="251.5" y="343.8" font-size="8.5" text-anchor="start" fill="#1c1c1c">NOX1<tspan font-size="5.53" dy="-2.12">KO</tspan></text>
<text x="406.8" y="217" font-size="9.8" text-anchor="middle">tissues</text>
<text x="351.3" y="279" font-size="8.7" text-anchor="middle" transform="rotate(-90 351.3 279)">Relative &#945;-KG levels</text>
<line x1="382" y1="246.3" x2="401" y2="246.3" stroke="#333" stroke-width="1.3"/>
<line x1="411.5" y1="238.6" x2="430.6" y2="238.6" stroke="#777" stroke-width="1.0"/>
<line x1="416.4" y1="236.4" x2="425.7" y2="236.4" stroke="#555" stroke-width="0.9"/>
<line x1="416.4" y1="240.9" x2="425.7" y2="240.9" stroke="#555" stroke-width="0.9"/>
<line x1="421.2" y1="236.4" x2="421.2" y2="240.9" stroke="#555" stroke-width="0.9"/>
<circle cx="391.9" cy="242.1" r="1.2" fill="#a3a3a3" stroke="#6e6e6e" stroke-width="0.75"/>
<circle cx="383.7" cy="247.7" r="1.2" fill="#a3a3a3" stroke="#6e6e6e" stroke-width="0.75"/>
<circle cx="400" cy="248.3" r="1.2" fill="#a3a3a3" stroke="#6e6e6e" stroke-width="0.75"/>
<circle cx="386.5" cy="246.4" r="1.2" fill="#a3a3a3" stroke="#6e6e6e" stroke-width="0.75"/>
<circle cx="389.5" cy="246.6" r="1.2" fill="#a3a3a3" stroke="#6e6e6e" stroke-width="0.75"/>
<circle cx="393.5" cy="246.4" r="1.2" fill="#a3a3a3" stroke="#6e6e6e" stroke-width="0.75"/>
<circle cx="397" cy="246.6" r="1.2" fill="#a3a3a3" stroke="#6e6e6e" stroke-width="0.75"/>
<circle cx="418.1" cy="233.3" r="1.4" fill="#5aa6f2" stroke="#3a84d4" stroke-width="0.6"/>
<circle cx="424.3" cy="233.3" r="1.4" fill="#5aa6f2" stroke="#3a84d4" stroke-width="0.6"/>
<circle cx="418.1" cy="239.5" r="1.4" fill="#5aa6f2" stroke="#3a84d4" stroke-width="0.6"/>
<circle cx="424.3" cy="241.3" r="1.4" fill="#5aa6f2" stroke="#3a84d4" stroke-width="0.6"/>
<circle cx="421.1" cy="245.6" r="1.4" fill="#5aa6f2" stroke="#3a84d4" stroke-width="0.6"/>
<line x1="372.5" y1="229" x2="372.5" y2="332" stroke="#262626" stroke-width="1.05"/>
<line x1="368.3" y1="229.5" x2="372.5" y2="229.5" stroke="#262626" stroke-width="1.0"/>
<text x="367.9" y="232.45" font-size="9.0" text-anchor="end">1.2</text>
<line x1="368.3" y1="263.5" x2="372.5" y2="263.5" stroke="#262626" stroke-width="1.0"/>
<text x="367.9" y="266.45" font-size="9.0" text-anchor="end">0.8</text>
<line x1="368.3" y1="297.5" x2="372.5" y2="297.5" stroke="#262626" stroke-width="1.0"/>
<text x="367.9" y="300.45" font-size="9.0" text-anchor="end">0.4</text>
<line x1="368.3" y1="331.5" x2="372.5" y2="331.5" stroke="#262626" stroke-width="1.0"/>
<text x="367.9" y="334.45" font-size="9.0" text-anchor="end">0.0</text>
<line x1="372" y1="331.5" x2="440" y2="331.5" stroke="#262626" stroke-width="1.05"/>
<line x1="391.3" y1="331.5" x2="391.3" y2="335.7" stroke="#262626" stroke-width="1.0"/>
<line x1="421.2" y1="331.5" x2="421.2" y2="335.7" stroke="#262626" stroke-width="1.0"/>
<polyline points="391.6,236 391.6,226.3 421.6,226.3 421.6,230.2" stroke="#777" stroke-width="1.0" fill="none"/>
<polygon points="407.60,221.10 408.25,222.41 409.69,222.62 408.65,223.64 408.89,225.08 407.60,224.40 406.31,225.08 406.55,223.64 405.51,222.62 406.95,222.41" fill="#151515"/>
<text x="390.9" y="344.9" font-size="8.5" text-anchor="middle">WT</text>
<text x="406.7" y="344.9" font-size="8.5" text-anchor="start" fill="#1c1c1c">NOX1<tspan font-size="5.53" dy="-2.12">KO</tspan></text>
<text x="491.8" y="203.3" font-size="16.9">g</text>
<text x="487.6" y="279.6" font-size="9.2" text-anchor="middle" transform="rotate(-90 487.6 279.6)">BrdU<tspan font-size="5.8" dy="-3.2">+</tspan><tspan dy="3.2"> cells (%)</tspan></text>
<text x="526.7" y="340.7" font-size="8.9" text-anchor="middle">Ctrl</text>
<text x="566" y="340.7" font-size="8.9" text-anchor="middle">&#945;KG</text>
<text x="607.2" y="340.7" font-size="8.9" text-anchor="middle">IDH1inh</text>
<circle cx="639.7" cy="228" r="1.9" fill="#a3a3a3" stroke="#6e6e6e" stroke-width="0.75"/>
<text x="643.4" y="231" font-size="8.4" fill="#444">WT</text>
<circle cx="639.7" cy="238.3" r="1.9" fill="#5aa6f2" stroke="#3a84d4" stroke-width="0.6"/>
<text x="643.4" y="241.3" font-size="8.4" text-anchor="start" fill="#444">NOX1<tspan font-size="5.46" dy="-2.10">KO</tspan></text>
<line x1="521.5" y1="261.6" x2="521.5" y2="284" stroke="#777" stroke-width="1.0"/>
<line x1="519" y1="261.6" x2="524" y2="261.6" stroke="#777" stroke-width="1.0"/>
<line x1="519" y1="284" x2="524" y2="284" stroke="#777" stroke-width="1.0"/>
<line x1="517" y1="273.4" x2="526" y2="273.4" stroke="#777" stroke-width="1.1"/>
<circle cx="519.3" cy="259.8" r="1.7" fill="#a3a3a3" stroke="#6e6e6e" stroke-width="0.75"/>
<circle cx="523.8" cy="257.9" r="1.7" fill="#a3a3a3" stroke="#6e6e6e" stroke-width="0.75"/>
<circle cx="521.5" cy="273.4" r="1.7" fill="#a3a3a3" stroke="#6e6e6e" stroke-width="0.75"/>
<circle cx="521.5" cy="278.7" r="1.7" fill="#a3a3a3" stroke="#6e6e6e" stroke-width="0.75"/>
<circle cx="519.3" cy="284" r="1.7" fill="#a3a3a3" stroke="#6e6e6e" stroke-width="0.75"/>
<circle cx="523.6" cy="283.6" r="1.7" fill="#a3a3a3" stroke="#6e6e6e" stroke-width="0.75"/>
<line x1="533.6" y1="301" x2="533.6" y2="304" stroke="#4a5f80" stroke-width="1.0"/>
<line x1="531.1" y1="301" x2="536.1" y2="301" stroke="#4a5f80" stroke-width="1.0"/>
<line x1="531.1" y1="304" x2="536.1" y2="304" stroke="#4a5f80" stroke-width="1.0"/>
<line x1="529.1" y1="302.5" x2="538.1" y2="302.5" stroke="#4a5f80" stroke-width="1.1"/>
<circle cx="531.6" cy="300.4" r="1.6" fill="#5aa6f2" stroke="#3a84d4" stroke-width="0.6"/>
<circle cx="535.6" cy="300.4" r="1.6" fill="#5aa6f2" stroke="#3a84d4" stroke-width="0.6"/>
<circle cx="533.5" cy="302.6" r="1.6" fill="#5aa6f2" stroke="#3a84d4" stroke-width="0.6"/>
<circle cx="531.8" cy="304.6" r="1.6" fill="#5aa6f2" stroke="#3a84d4" stroke-width="0.6"/>
<circle cx="535.2" cy="304.8" r="1.6" fill="#5aa6f2" stroke="#3a84d4" stroke-width="0.6"/>
<line x1="559.8" y1="295" x2="559.8" y2="306" stroke="#777" stroke-width="1.0"/>
<line x1="557.3" y1="295" x2="562.3" y2="295" stroke="#777" stroke-width="1.0"/>
<line x1="557.3" y1="306" x2="562.3" y2="306" stroke="#777" stroke-width="1.0"/>
<line x1="555.3" y1="300.5" x2="564.3" y2="300.5" stroke="#777" stroke-width="1.1"/>
<circle cx="561.8" cy="293.6" r="1.7" fill="#a3a3a3" stroke="#6e6e6e" stroke-width="0.75"/>
<circle cx="557.8" cy="296.6" r="1.7" fill="#a3a3a3" stroke="#6e6e6e" stroke-width="0.75"/>
<circle cx="557.8" cy="300.7" r="1.7" fill="#a3a3a3" stroke="#6e6e6e" stroke-width="0.75"/>
<circle cx="561.8" cy="300.3" r="1.7" fill="#a3a3a3" stroke="#6e6e6e" stroke-width="0.75"/>
<circle cx="557.8" cy="306.4" r="1.7" fill="#a3a3a3" stroke="#6e6e6e" stroke-width="0.75"/>
<circle cx="561.8" cy="306.4" r="1.7" fill="#a3a3a3" stroke="#6e6e6e" stroke-width="0.75"/>
<line x1="572.3" y1="293" x2="572.3" y2="299.5" stroke="#4a5f80" stroke-width="1.0"/>
<line x1="569.8" y1="293" x2="574.8" y2="293" stroke="#4a5f80" stroke-width="1.0"/>
<line x1="569.8" y1="299.5" x2="574.8" y2="299.5" stroke="#4a5f80" stroke-width="1.0"/>
<line x1="567.8" y1="296.3" x2="576.8" y2="296.3" stroke="#4a5f80" stroke-width="1.1"/>
<circle cx="572.1" cy="289.1" r="1.6" fill="#5aa6f2" stroke="#3a84d4" stroke-width="0.6"/>
<circle cx="570" cy="295.4" r="1.6" fill="#5aa6f2" stroke="#3a84d4" stroke-width="0.6"/>
<circle cx="574.3" cy="296.4" r="1.6" fill="#5aa6f2" stroke="#3a84d4" stroke-width="0.6"/>
<circle cx="574.9" cy="298.5" r="1.6" fill="#5aa6f2" stroke="#3a84d4" stroke-width="0.6"/>
<circle cx="570" cy="301.3" r="1.6" fill="#5aa6f2" stroke="#3a84d4" stroke-width="0.6"/>
<line x1="601.2" y1="255" x2="601.2" y2="268.2" stroke="#777" stroke-width="1.0"/>
<line x1="598.7" y1="255" x2="603.7" y2="255" stroke="#777" stroke-width="1.0"/>
<line x1="598.7" y1="268.2" x2="603.7" y2="268.2" stroke="#777" stroke-width="1.0"/>
<line x1="596.7" y1="261.1" x2="605.7" y2="261.1" stroke="#777" stroke-width="1.1"/>
<circle cx="601.2" cy="253" r="1.7" fill="#a3a3a3" stroke="#6e6e6e" stroke-width="0.75"/>
<circle cx="598.9" cy="256.8" r="1.7" fill="#a3a3a3" stroke="#6e6e6e" stroke-width="0.75"/>
<circle cx="603.5" cy="260" r="1.7" fill="#a3a3a3" stroke="#6e6e6e" stroke-width="0.75"/>
<circle cx="598.9" cy="262.2" r="1.7" fill="#a3a3a3" stroke="#6e6e6e" stroke-width="0.75"/>
<circle cx="603.5" cy="263.3" r="1.7" fill="#a3a3a3" stroke="#6e6e6e" stroke-width="0.75"/>
<circle cx="601.2" cy="272" r="1.7" fill="#a3a3a3" stroke="#6e6e6e" stroke-width="0.75"/>
<line x1="613.6" y1="276.5" x2="613.6" y2="284" stroke="#4a5f80" stroke-width="1.0"/>
<line x1="611.1" y1="276.5" x2="616.1" y2="276.5" stroke="#4a5f80" stroke-width="1.0"/>
<line x1="611.1" y1="284" x2="616.1" y2="284" stroke="#4a5f80" stroke-width="1.0"/>
<line x1="609.1" y1="280.3" x2="618.1" y2="280.3" stroke="#4a5f80" stroke-width="1.1"/>
<circle cx="613.6" cy="268.7" r="1.6" fill="#5aa6f2" stroke="#3a84d4" stroke-width="0.6"/>
<circle cx="613.6" cy="275.5" r="1.6" fill="#5aa6f2" stroke="#3a84d4" stroke-width="0.6"/>
<circle cx="611.1" cy="281" r="1.6" fill="#5aa6f2" stroke="#3a84d4" stroke-width="0.6"/>
<circle cx="615.8" cy="284.4" r="1.6" fill="#5aa6f2" stroke="#3a84d4" stroke-width="0.6"/>
<circle cx="613.6" cy="290.4" r="1.6" fill="#5aa6f2" stroke="#3a84d4" stroke-width="0.6"/>
<line x1="509" y1="234.5" x2="509" y2="326" stroke="#666" stroke-width="1.3"/>
<line x1="505" y1="235" x2="509" y2="235" stroke="#262626" stroke-width="1.0"/>
<text x="504.5" y="238.52" font-size="9.2" text-anchor="end">40</text>
<line x1="505" y1="257.62" x2="509" y2="257.62" stroke="#262626" stroke-width="1.0"/>
<text x="504.5" y="261.15" font-size="9.2" text-anchor="end">30</text>
<line x1="505" y1="280.25" x2="509" y2="280.25" stroke="#262626" stroke-width="1.0"/>
<text x="504.5" y="283.77" font-size="9.2" text-anchor="end">20</text>
<line x1="505" y1="302.88" x2="509" y2="302.88" stroke="#262626" stroke-width="1.0"/>
<text x="504.5" y="306.4" font-size="9.2" text-anchor="end">10</text>
<line x1="505" y1="325.5" x2="509" y2="325.5" stroke="#262626" stroke-width="1.0"/>
<text x="504.5" y="329.02" font-size="9.2" text-anchor="end">0</text>
<line x1="508.5" y1="325.5" x2="626" y2="325.5" stroke="#262626" stroke-width="1.05"/>
<line x1="526.7" y1="325.5" x2="526.7" y2="329" stroke="#262626" stroke-width="1.0"/>
<line x1="566.4" y1="325.5" x2="566.4" y2="329" stroke="#262626" stroke-width="1.0"/>
<line x1="607.8" y1="325.5" x2="607.8" y2="329" stroke="#262626" stroke-width="1.0"/>
<polyline points="521.2,251.9 521.2,242.6 533.8,242.6 533.8,294.6" stroke="#333" stroke-width="1.0" fill="none"/>
<polygon points="520.90,236.60 521.46,237.73 522.71,237.91 521.80,238.79 522.02,240.04 520.90,239.45 519.78,240.04 520.00,238.79 519.09,237.91 520.34,237.73" fill="#151515"/>
<polygon points="524.90,236.60 525.46,237.73 526.71,237.91 525.80,238.79 526.02,240.04 524.90,239.45 523.78,240.04 524.00,238.79 523.09,237.91 524.34,237.73" fill="#151515"/>
<polygon points="528.90,236.60 529.46,237.73 530.71,237.91 529.80,238.79 530.02,240.04 528.90,239.45 527.78,240.04 528.00,238.79 527.09,237.91 528.34,237.73" fill="#151515"/>
<polygon points="532.90,236.60 533.46,237.73 534.71,237.91 533.80,238.79 534.02,240.04 532.90,239.45 531.78,240.04 532.00,238.79 531.09,237.91 532.34,237.73" fill="#151515"/>
<polyline points="559.5,288.5 559.5,242.6 572.3,242.6 572.3,283.6" stroke="#333" stroke-width="1.0" fill="none"/>
<text x="566.8" y="240.9" font-size="8.9" text-anchor="middle">ns</text>
<polyline points="601.5,247.2 601.5,242.6 613.6,242.6 613.6,263" stroke="#333" stroke-width="1.0" fill="none"/>
<polygon points="605.50,236.60 606.06,237.73 607.31,237.91 606.40,238.79 606.62,240.04 605.50,239.45 604.38,240.04 604.60,238.79 603.69,237.91 604.94,237.73" fill="#151515"/>
<polygon points="609.70,236.60 610.26,237.73 611.51,237.91 610.60,238.79 610.82,240.04 609.70,239.45 608.58,240.04 608.80,238.79 607.89,237.91 609.14,237.73" fill="#151515"/>
<polyline points="521.2,232.5 521.2,227.2 559.5,227.2 559.5,232.7" stroke="#333" stroke-width="1.0" fill="none"/>
<polygon points="534.50,222.10 535.06,223.23 536.31,223.41 535.40,224.29 535.62,225.54 534.50,224.95 533.38,225.54 533.60,224.29 532.69,223.41 533.94,223.23" fill="#151515"/>
<polygon points="538.50,222.10 539.06,223.23 540.31,223.41 539.40,224.29 539.62,225.54 538.50,224.95 537.38,225.54 537.60,224.29 536.69,223.41 537.94,223.23" fill="#151515"/>
<polygon points="542.50,222.10 543.06,223.23 544.31,223.41 543.40,224.29 543.62,225.54 542.50,224.95 541.38,225.54 541.60,224.29 540.69,223.41 541.94,223.23" fill="#151515"/>
<polygon points="546.50,222.10 547.06,223.23 548.31,223.41 547.40,224.29 547.62,225.54 546.50,224.95 545.38,225.54 545.60,224.29 544.69,223.41 545.94,223.23" fill="#151515"/>
<polyline points="521.2,221.8 521.2,217 599.6,217 599.6,227.7" stroke="#333" stroke-width="1.0" fill="none"/>
<polygon points="561.70,210.90 562.26,212.03 563.51,212.21 562.60,213.09 562.82,214.34 561.70,213.75 560.58,214.34 560.80,213.09 559.89,212.21 561.14,212.03" fill="#151515"/>
<polyline points="532.5,211.2 532.5,205.2 613.6,205.2 613.6,223.4" stroke="#333" stroke-width="1.0" fill="none"/>
<polygon points="566.90,199.40 567.43,200.47 568.61,200.64 567.76,201.48 567.96,202.66 566.90,202.10 565.84,202.66 566.04,201.48 565.19,200.64 566.37,200.47" fill="#151515"/>
<polygon points="570.70,199.40 571.23,200.47 572.41,200.64 571.56,201.48 571.76,202.66 570.70,202.10 569.64,202.66 569.84,201.48 568.99,200.64 570.17,200.47" fill="#151515"/>
<polygon points="574.50,199.40 575.03,200.47 576.21,200.64 575.36,201.48 575.56,202.66 574.50,202.10 573.44,202.66 573.64,201.48 572.79,200.64 573.97,200.47" fill="#151515"/>
<polygon points="578.30,199.40 578.83,200.47 580.01,200.64 579.16,201.48 579.36,202.66 578.30,202.10 577.24,202.66 577.44,201.48 576.59,200.64 577.77,200.47" fill="#151515"/>
<text x="-1.4" y="378.6" font-size="16.9">h</text>
<rect x="23.9" y="397.7" width="94.3" height="90.5" fill="none" stroke="#333" stroke-width="1.1"/>
<rect x="33.2" y="397.7" width="36.4" height="54.5" fill="none" stroke="#555" stroke-width="0.7"/>
<text x="62.2" y="390.2" font-size="10.1" fill="#111">WT</text>
<text x="89.5" y="410.6" font-size="8.6" text-anchor="middle">22.9</text>
<text x="20.9" y="408.3" font-size="3.7" text-anchor="end" fill="#333">10<tspan font-size="2.6" dy="-1.5">5</tspan></text>
<line x1="22.3" y1="406.7" x2="23.9" y2="406.7" stroke="#555" stroke-width="0.6"/>
<text x="20.9" y="429.6" font-size="3.7" text-anchor="end" fill="#333">10<tspan font-size="2.6" dy="-1.5">4</tspan></text>
<line x1="22.3" y1="428" x2="23.9" y2="428" stroke="#555" stroke-width="0.6"/>
<text x="20.9" y="453.9" font-size="3.7" text-anchor="end" fill="#333">10<tspan font-size="2.6" dy="-1.5">3</tspan></text>
<line x1="22.3" y1="452.3" x2="23.9" y2="452.3" stroke="#555" stroke-width="0.6"/>
<text x="20.9" y="468.6" font-size="3.7" text-anchor="end" fill="#333">0</text>
<line x1="22.3" y1="467" x2="23.9" y2="467" stroke="#555" stroke-width="0.6"/>
<text x="20.9" y="484.1" font-size="3.7" text-anchor="end" fill="#333">-10<tspan font-size="2.6" dy="-1.5">3</tspan></text>
<line x1="22.3" y1="482.5" x2="23.9" y2="482.5" stroke="#555" stroke-width="0.6"/>
<line x1="22.8" y1="400" x2="23.9" y2="400" stroke="#666" stroke-width="0.45"/>
<line x1="22.8" y1="403.9" x2="23.9" y2="403.9" stroke="#666" stroke-width="0.45"/>
<line x1="22.8" y1="407.8" x2="23.9" y2="407.8" stroke="#666" stroke-width="0.45"/>
<line x1="22.8" y1="411.7" x2="23.9" y2="411.7" stroke="#666" stroke-width="0.45"/>
<line x1="22.8" y1="415.6" x2="23.9" y2="415.6" stroke="#666" stroke-width="0.45"/>
<line x1="22.8" y1="419.5" x2="23.9" y2="419.5" stroke="#666" stroke-width="0.45"/>
<line x1="22.8" y1="423.4" x2="23.9" y2="423.4" stroke="#666" stroke-width="0.45"/>
<line x1="22.8" y1="427.3" x2="23.9" y2="427.3" stroke="#666" stroke-width="0.45"/>
<line x1="22.8" y1="431.2" x2="23.9" y2="431.2" stroke="#666" stroke-width="0.45"/>
<line x1="22.8" y1="435.1" x2="23.9" y2="435.1" stroke="#666" stroke-width="0.45"/>
<line x1="22.8" y1="439" x2="23.9" y2="439" stroke="#666" stroke-width="0.45"/>
<line x1="22.8" y1="442.9" x2="23.9" y2="442.9" stroke="#666" stroke-width="0.45"/>
<line x1="22.8" y1="446.8" x2="23.9" y2="446.8" stroke="#666" stroke-width="0.45"/>
<line x1="22.8" y1="450.7" x2="23.9" y2="450.7" stroke="#666" stroke-width="0.45"/>
<line x1="22.8" y1="454.6" x2="23.9" y2="454.6" stroke="#666" stroke-width="0.45"/>
<line x1="22.8" y1="458.5" x2="23.9" y2="458.5" stroke="#666" stroke-width="0.45"/>
<line x1="22.8" y1="462.4" x2="23.9" y2="462.4" stroke="#666" stroke-width="0.45"/>
<line x1="22.8" y1="466.3" x2="23.9" y2="466.3" stroke="#666" stroke-width="0.45"/>
<line x1="22.8" y1="470.2" x2="23.9" y2="470.2" stroke="#666" stroke-width="0.45"/>
<line x1="22.8" y1="474.1" x2="23.9" y2="474.1" stroke="#666" stroke-width="0.45"/>
<line x1="22.8" y1="478" x2="23.9" y2="478" stroke="#666" stroke-width="0.45"/>
<line x1="22.8" y1="481.9" x2="23.9" y2="481.9" stroke="#666" stroke-width="0.45"/>
<text x="32.5" y="494.5" font-size="3.6" text-anchor="middle" fill="#333">-10<tspan font-size="2.6" dy="-1.5">3</tspan></text>
<line x1="32.5" y1="488.2" x2="32.5" y2="489.8" stroke="#555" stroke-width="0.6"/>
<text x="46.5" y="494.5" font-size="3.6" text-anchor="middle" fill="#333">0</text>
<line x1="46.5" y1="488.2" x2="46.5" y2="489.8" stroke="#555" stroke-width="0.6"/>
<text x="63.9" y="494.5" font-size="3.6" text-anchor="middle" fill="#333">10<tspan font-size="2.6" dy="-1.5">3</tspan></text>
<line x1="63.9" y1="488.2" x2="63.9" y2="489.8" stroke="#555" stroke-width="0.6"/>
<text x="88.3" y="494.5" font-size="3.6" text-anchor="middle" fill="#333">10<tspan font-size="2.6" dy="-1.5">4</tspan></text>
<line x1="88.3" y1="488.2" x2="88.3" y2="489.8" stroke="#555" stroke-width="0.6"/>
<text x="111.5" y="494.5" font-size="3.6" text-anchor="middle" fill="#333">10<tspan font-size="2.6" dy="-1.5">5</tspan></text>
<line x1="111.5" y1="488.2" x2="111.5" y2="489.8" stroke="#555" stroke-width="0.6"/>
<line x1="25.9" y1="488.2" x2="25.9" y2="489.4" stroke="#666" stroke-width="0.45"/>
<line x1="29.7" y1="488.2" x2="29.7" y2="489.4" stroke="#666" stroke-width="0.45"/>
<line x1="33.5" y1="488.2" x2="33.5" y2="489.4" stroke="#666" stroke-width="0.45"/>
<line x1="37.3" y1="488.2" x2="37.3" y2="489.4" stroke="#666" stroke-width="0.45"/>
<line x1="41.1" y1="488.2" x2="41.1" y2="489.4" stroke="#666" stroke-width="0.45"/>
<line x1="44.9" y1="488.2" x2="44.9" y2="489.4" stroke="#666" stroke-width="0.45"/>
<line x1="48.7" y1="488.2" x2="48.7" y2="489.4" stroke="#666" stroke-width="0.45"/>
<line x1="52.5" y1="488.2" x2="52.5" y2="489.4" stroke="#666" stroke-width="0.45"/>
<line x1="56.3" y1="488.2" x2="56.3" y2="489.4" stroke="#666" stroke-width="0.45"/>
<line x1="60.1" y1="488.2" x2="60.1" y2="489.4" stroke="#666" stroke-width="0.45"/>
<line x1="63.9" y1="488.2" x2="63.9" y2="489.4" stroke="#666" stroke-width="0.45"/>
<line x1="67.7" y1="488.2" x2="67.7" y2="489.4" stroke="#666" stroke-width="0.45"/>
<line x1="71.5" y1="488.2" x2="71.5" y2="489.4" stroke="#666" stroke-width="0.45"/>
<line x1="75.3" y1="488.2" x2="75.3" y2="489.4" stroke="#666" stroke-width="0.45"/>
<line x1="79.1" y1="488.2" x2="79.1" y2="489.4" stroke="#666" stroke-width="0.45"/>
<line x1="82.9" y1="488.2" x2="82.9" y2="489.4" stroke="#666" stroke-width="0.45"/>
<line x1="86.7" y1="488.2" x2="86.7" y2="489.4" stroke="#666" stroke-width="0.45"/>
<line x1="90.5" y1="488.2" x2="90.5" y2="489.4" stroke="#666" stroke-width="0.45"/>
<line x1="94.3" y1="488.2" x2="94.3" y2="489.4" stroke="#666" stroke-width="0.45"/>
<line x1="98.1" y1="488.2" x2="98.1" y2="489.4" stroke="#666" stroke-width="0.45"/>
<line x1="101.9" y1="488.2" x2="101.9" y2="489.4" stroke="#666" stroke-width="0.45"/>
<line x1="105.7" y1="488.2" x2="105.7" y2="489.4" stroke="#666" stroke-width="0.45"/>
<line x1="109.5" y1="488.2" x2="109.5" y2="489.4" stroke="#666" stroke-width="0.45"/>
<line x1="113.3" y1="488.2" x2="113.3" y2="489.4" stroke="#666" stroke-width="0.45"/>
<rect x="22.299999999999997" y="465.5" width="1.6" height="2.4" fill="#222"/>
<rect x="43.4" y="488.4" width="5" height="1.4" fill="#333"/>
<rect x="136.4" y="397.7" width="94.3" height="90.5" fill="none" stroke="#333" stroke-width="1.1"/>
<rect x="145.70000000000002" y="397.7" width="36.4" height="54.5" fill="none" stroke="#555" stroke-width="0.7"/>
<text x="162.5" y="390.2" font-size="10.1" fill="#111">WT+&#945;KG</text>
<text x="206" y="410.6" font-size="8.6" text-anchor="middle">10.9</text>
<text x="133.4" y="408.3" font-size="3.7" text-anchor="end" fill="#333">10<tspan font-size="2.6" dy="-1.5">5</tspan></text>
<line x1="134.8" y1="406.7" x2="136.4" y2="406.7" stroke="#555" stroke-width="0.6"/>
<text x="133.4" y="429.6" font-size="3.7" text-anchor="end" fill="#333">10<tspan font-size="2.6" dy="-1.5">4</tspan></text>
<line x1="134.8" y1="428" x2="136.4" y2="428" stroke="#555" stroke-width="0.6"/>
<text x="133.4" y="453.9" font-size="3.7" text-anchor="end" fill="#333">10<tspan font-size="2.6" dy="-1.5">3</tspan></text>
<line x1="134.8" y1="452.3" x2="136.4" y2="452.3" stroke="#555" stroke-width="0.6"/>
<text x="133.4" y="468.6" font-size="3.7" text-anchor="end" fill="#333">0</text>
<line x1="134.8" y1="467" x2="136.4" y2="467" stroke="#555" stroke-width="0.6"/>
<text x="133.4" y="484.1" font-size="3.7" text-anchor="end" fill="#333">-10<tspan font-size="2.6" dy="-1.5">3</tspan></text>
<line x1="134.8" y1="482.5" x2="136.4" y2="482.5" stroke="#555" stroke-width="0.6"/>
<line x1="135.3" y1="400" x2="136.4" y2="400" stroke="#666" stroke-width="0.45"/>
<line x1="135.3" y1="403.9" x2="136.4" y2="403.9" stroke="#666" stroke-width="0.45"/>
<line x1="135.3" y1="407.8" x2="136.4" y2="407.8" stroke="#666" stroke-width="0.45"/>
<line x1="135.3" y1="411.7" x2="136.4" y2="411.7" stroke="#666" stroke-width="0.45"/>
<line x1="135.3" y1="415.6" x2="136.4" y2="415.6" stroke="#666" stroke-width="0.45"/>
<line x1="135.3" y1="419.5" x2="136.4" y2="419.5" stroke="#666" stroke-width="0.45"/>
<line x1="135.3" y1="423.4" x2="136.4" y2="423.4" stroke="#666" stroke-width="0.45"/>
<line x1="135.3" y1="427.3" x2="136.4" y2="427.3" stroke="#666" stroke-width="0.45"/>
<line x1="135.3" y1="431.2" x2="136.4" y2="431.2" stroke="#666" stroke-width="0.45"/>
<line x1="135.3" y1="435.1" x2="136.4" y2="435.1" stroke="#666" stroke-width="0.45"/>
<line x1="135.3" y1="439" x2="136.4" y2="439" stroke="#666" stroke-width="0.45"/>
<line x1="135.3" y1="442.9" x2="136.4" y2="442.9" stroke="#666" stroke-width="0.45"/>
<line x1="135.3" y1="446.8" x2="136.4" y2="446.8" stroke="#666" stroke-width="0.45"/>
<line x1="135.3" y1="450.7" x2="136.4" y2="450.7" stroke="#666" stroke-width="0.45"/>
<line x1="135.3" y1="454.6" x2="136.4" y2="454.6" stroke="#666" stroke-width="0.45"/>
<line x1="135.3" y1="458.5" x2="136.4" y2="458.5" stroke="#666" stroke-width="0.45"/>
<line x1="135.3" y1="462.4" x2="136.4" y2="462.4" stroke="#666" stroke-width="0.45"/>
<line x1="135.3" y1="466.3" x2="136.4" y2="466.3" stroke="#666" stroke-width="0.45"/>
<line x1="135.3" y1="470.2" x2="136.4" y2="470.2" stroke="#666" stroke-width="0.45"/>
<line x1="135.3" y1="474.1" x2="136.4" y2="474.1" stroke="#666" stroke-width="0.45"/>
<line x1="135.3" y1="478" x2="136.4" y2="478" stroke="#666" stroke-width="0.45"/>
<line x1="135.3" y1="481.9" x2="136.4" y2="481.9" stroke="#666" stroke-width="0.45"/>
<text x="145" y="494.5" font-size="3.6" text-anchor="middle" fill="#333">-10<tspan font-size="2.6" dy="-1.5">3</tspan></text>
<line x1="145" y1="488.2" x2="145" y2="489.8" stroke="#555" stroke-width="0.6"/>
<text x="159" y="494.5" font-size="3.6" text-anchor="middle" fill="#333">0</text>
<line x1="159" y1="488.2" x2="159" y2="489.8" stroke="#555" stroke-width="0.6"/>
<text x="176.4" y="494.5" font-size="3.6" text-anchor="middle" fill="#333">10<tspan font-size="2.6" dy="-1.5">3</tspan></text>
<line x1="176.4" y1="488.2" x2="176.4" y2="489.8" stroke="#555" stroke-width="0.6"/>
<text x="200.8" y="494.5" font-size="3.6" text-anchor="middle" fill="#333">10<tspan font-size="2.6" dy="-1.5">4</tspan></text>
<line x1="200.8" y1="488.2" x2="200.8" y2="489.8" stroke="#555" stroke-width="0.6"/>
<text x="224" y="494.5" font-size="3.6" text-anchor="middle" fill="#333">10<tspan font-size="2.6" dy="-1.5">5</tspan></text>
<line x1="224" y1="488.2" x2="224" y2="489.8" stroke="#555" stroke-width="0.6"/>
<line x1="138.4" y1="488.2" x2="138.4" y2="489.4" stroke="#666" stroke-width="0.45"/>
<line x1="142.2" y1="488.2" x2="142.2" y2="489.4" stroke="#666" stroke-width="0.45"/>
<line x1="146" y1="488.2" x2="146" y2="489.4" stroke="#666" stroke-width="0.45"/>
<line x1="149.8" y1="488.2" x2="149.8" y2="489.4" stroke="#666" stroke-width="0.45"/>
<line x1="153.6" y1="488.2" x2="153.6" y2="489.4" stroke="#666" stroke-width="0.45"/>
<line x1="157.4" y1="488.2" x2="157.4" y2="489.4" stroke="#666" stroke-width="0.45"/>
<line x1="161.2" y1="488.2" x2="161.2" y2="489.4" stroke="#666" stroke-width="0.45"/>
<line x1="165" y1="488.2" x2="165" y2="489.4" stroke="#666" stroke-width="0.45"/>
<line x1="168.8" y1="488.2" x2="168.8" y2="489.4" stroke="#666" stroke-width="0.45"/>
<line x1="172.6" y1="488.2" x2="172.6" y2="489.4" stroke="#666" stroke-width="0.45"/>
<line x1="176.4" y1="488.2" x2="176.4" y2="489.4" stroke="#666" stroke-width="0.45"/>
<line x1="180.2" y1="488.2" x2="180.2" y2="489.4" stroke="#666" stroke-width="0.45"/>
<line x1="184" y1="488.2" x2="184" y2="489.4" stroke="#666" stroke-width="0.45"/>
<line x1="187.8" y1="488.2" x2="187.8" y2="489.4" stroke="#666" stroke-width="0.45"/>
<line x1="191.6" y1="488.2" x2="191.6" y2="489.4" stroke="#666" stroke-width="0.45"/>
<line x1="195.4" y1="488.2" x2="195.4" y2="489.4" stroke="#666" stroke-width="0.45"/>
<line x1="199.2" y1="488.2" x2="199.2" y2="489.4" stroke="#666" stroke-width="0.45"/>
<line x1="203" y1="488.2" x2="203" y2="489.4" stroke="#666" stroke-width="0.45"/>
<line x1="206.8" y1="488.2" x2="206.8" y2="489.4" stroke="#666" stroke-width="0.45"/>
<line x1="210.6" y1="488.2" x2="210.6" y2="489.4" stroke="#666" stroke-width="0.45"/>
<line x1="214.4" y1="488.2" x2="214.4" y2="489.4" stroke="#666" stroke-width="0.45"/>
<line x1="218.2" y1="488.2" x2="218.2" y2="489.4" stroke="#666" stroke-width="0.45"/>
<line x1="222" y1="488.2" x2="222" y2="489.4" stroke="#666" stroke-width="0.45"/>
<line x1="225.8" y1="488.2" x2="225.8" y2="489.4" stroke="#666" stroke-width="0.45"/>
<rect x="134.8" y="465.5" width="1.6" height="2.4" fill="#222"/>
<rect x="155.9" y="488.4" width="5" height="1.4" fill="#333"/>
<rect x="249.6" y="397.7" width="94.3" height="90.5" fill="none" stroke="#333" stroke-width="1.1"/>
<rect x="258.9" y="397.7" width="36.4" height="54.5" fill="none" stroke="#555" stroke-width="0.7"/>
<text x="267.5" y="390.2" font-size="10.1" fill="#111">WT+IDH1inh</text>
<text x="316.7" y="410.6" font-size="8.6" text-anchor="middle">27.1</text>
<text x="246.6" y="408.3" font-size="3.7" text-anchor="end" fill="#333">10<tspan font-size="2.6" dy="-1.5">5</tspan></text>
<line x1="248" y1="406.7" x2="249.6" y2="406.7" stroke="#555" stroke-width="0.6"/>
<text x="246.6" y="429.6" font-size="3.7" text-anchor="end" fill="#333">10<tspan font-size="2.6" dy="-1.5">4</tspan></text>
<line x1="248" y1="428" x2="249.6" y2="428" stroke="#555" stroke-width="0.6"/>
<text x="246.6" y="453.9" font-size="3.7" text-anchor="end" fill="#333">10<tspan font-size="2.6" dy="-1.5">3</tspan></text>
<line x1="248" y1="452.3" x2="249.6" y2="452.3" stroke="#555" stroke-width="0.6"/>
<text x="246.6" y="468.6" font-size="3.7" text-anchor="end" fill="#333">0</text>
<line x1="248" y1="467" x2="249.6" y2="467" stroke="#555" stroke-width="0.6"/>
<text x="246.6" y="484.1" font-size="3.7" text-anchor="end" fill="#333">-10<tspan font-size="2.6" dy="-1.5">3</tspan></text>
<line x1="248" y1="482.5" x2="249.6" y2="482.5" stroke="#555" stroke-width="0.6"/>
<line x1="248.5" y1="400" x2="249.6" y2="400" stroke="#666" stroke-width="0.45"/>
<line x1="248.5" y1="403.9" x2="249.6" y2="403.9" stroke="#666" stroke-width="0.45"/>
<line x1="248.5" y1="407.8" x2="249.6" y2="407.8" stroke="#666" stroke-width="0.45"/>
<line x1="248.5" y1="411.7" x2="249.6" y2="411.7" stroke="#666" stroke-width="0.45"/>
<line x1="248.5" y1="415.6" x2="249.6" y2="415.6" stroke="#666" stroke-width="0.45"/>
<line x1="248.5" y1="419.5" x2="249.6" y2="419.5" stroke="#666" stroke-width="0.45"/>
<line x1="248.5" y1="423.4" x2="249.6" y2="423.4" stroke="#666" stroke-width="0.45"/>
<line x1="248.5" y1="427.3" x2="249.6" y2="427.3" stroke="#666" stroke-width="0.45"/>
<line x1="248.5" y1="431.2" x2="249.6" y2="431.2" stroke="#666" stroke-width="0.45"/>
<line x1="248.5" y1="435.1" x2="249.6" y2="435.1" stroke="#666" stroke-width="0.45"/>
<line x1="248.5" y1="439" x2="249.6" y2="439" stroke="#666" stroke-width="0.45"/>
<line x1="248.5" y1="442.9" x2="249.6" y2="442.9" stroke="#666" stroke-width="0.45"/>
<line x1="248.5" y1="446.8" x2="249.6" y2="446.8" stroke="#666" stroke-width="0.45"/>
<line x1="248.5" y1="450.7" x2="249.6" y2="450.7" stroke="#666" stroke-width="0.45"/>
<line x1="248.5" y1="454.6" x2="249.6" y2="454.6" stroke="#666" stroke-width="0.45"/>
<line x1="248.5" y1="458.5" x2="249.6" y2="458.5" stroke="#666" stroke-width="0.45"/>
<line x1="248.5" y1="462.4" x2="249.6" y2="462.4" stroke="#666" stroke-width="0.45"/>
<line x1="248.5" y1="466.3" x2="249.6" y2="466.3" stroke="#666" stroke-width="0.45"/>
<line x1="248.5" y1="470.2" x2="249.6" y2="470.2" stroke="#666" stroke-width="0.45"/>
<line x1="248.5" y1="474.1" x2="249.6" y2="474.1" stroke="#666" stroke-width="0.45"/>
<line x1="248.5" y1="478" x2="249.6" y2="478" stroke="#666" stroke-width="0.45"/>
<line x1="248.5" y1="481.9" x2="249.6" y2="481.9" stroke="#666" stroke-width="0.45"/>
<text x="258.2" y="494.5" font-size="3.6" text-anchor="middle" fill="#333">-10<tspan font-size="2.6" dy="-1.5">3</tspan></text>
<line x1="258.2" y1="488.2" x2="258.2" y2="489.8" stroke="#555" stroke-width="0.6"/>
<text x="272.2" y="494.5" font-size="3.6" text-anchor="middle" fill="#333">0</text>
<line x1="272.2" y1="488.2" x2="272.2" y2="489.8" stroke="#555" stroke-width="0.6"/>
<text x="289.6" y="494.5" font-size="3.6" text-anchor="middle" fill="#333">10<tspan font-size="2.6" dy="-1.5">3</tspan></text>
<line x1="289.6" y1="488.2" x2="289.6" y2="489.8" stroke="#555" stroke-width="0.6"/>
<text x="314" y="494.5" font-size="3.6" text-anchor="middle" fill="#333">10<tspan font-size="2.6" dy="-1.5">4</tspan></text>
<line x1="314" y1="488.2" x2="314" y2="489.8" stroke="#555" stroke-width="0.6"/>
<text x="337.2" y="494.5" font-size="3.6" text-anchor="middle" fill="#333">10<tspan font-size="2.6" dy="-1.5">5</tspan></text>
<line x1="337.2" y1="488.2" x2="337.2" y2="489.8" stroke="#555" stroke-width="0.6"/>
<line x1="251.6" y1="488.2" x2="251.6" y2="489.4" stroke="#666" stroke-width="0.45"/>
<line x1="255.4" y1="488.2" x2="255.4" y2="489.4" stroke="#666" stroke-width="0.45"/>
<line x1="259.2" y1="488.2" x2="259.2" y2="489.4" stroke="#666" stroke-width="0.45"/>
<line x1="263" y1="488.2" x2="263" y2="489.4" stroke="#666" stroke-width="0.45"/>
<line x1="266.8" y1="488.2" x2="266.8" y2="489.4" stroke="#666" stroke-width="0.45"/>
<line x1="270.6" y1="488.2" x2="270.6" y2="489.4" stroke="#666" stroke-width="0.45"/>
<line x1="274.4" y1="488.2" x2="274.4" y2="489.4" stroke="#666" stroke-width="0.45"/>
<line x1="278.2" y1="488.2" x2="278.2" y2="489.4" stroke="#666" stroke-width="0.45"/>
<line x1="282" y1="488.2" x2="282" y2="489.4" stroke="#666" stroke-width="0.45"/>
<line x1="285.8" y1="488.2" x2="285.8" y2="489.4" stroke="#666" stroke-width="0.45"/>
<line x1="289.6" y1="488.2" x2="289.6" y2="489.4" stroke="#666" stroke-width="0.45"/>
<line x1="293.4" y1="488.2" x2="293.4" y2="489.4" stroke="#666" stroke-width="0.45"/>
<line x1="297.2" y1="488.2" x2="297.2" y2="489.4" stroke="#666" stroke-width="0.45"/>
<line x1="301" y1="488.2" x2="301" y2="489.4" stroke="#666" stroke-width="0.45"/>
<line x1="304.8" y1="488.2" x2="304.8" y2="489.4" stroke="#666" stroke-width="0.45"/>
<line x1="308.6" y1="488.2" x2="308.6" y2="489.4" stroke="#666" stroke-width="0.45"/>
<line x1="312.4" y1="488.2" x2="312.4" y2="489.4" stroke="#666" stroke-width="0.45"/>
<line x1="316.2" y1="488.2" x2="316.2" y2="489.4" stroke="#666" stroke-width="0.45"/>
<line x1="320" y1="488.2" x2="320" y2="489.4" stroke="#666" stroke-width="0.45"/>
<line x1="323.8" y1="488.2" x2="323.8" y2="489.4" stroke="#666" stroke-width="0.45"/>
<line x1="327.6" y1="488.2" x2="327.6" y2="489.4" stroke="#666" stroke-width="0.45"/>
<line x1="331.4" y1="488.2" x2="331.4" y2="489.4" stroke="#666" stroke-width="0.45"/>
<line x1="335.2" y1="488.2" x2="335.2" y2="489.4" stroke="#666" stroke-width="0.45"/>
<line x1="339" y1="488.2" x2="339" y2="489.4" stroke="#666" stroke-width="0.45"/>
<rect x="248.0" y="465.5" width="1.6" height="2.4" fill="#222"/>
<rect x="269.1" y="488.4" width="5" height="1.4" fill="#333"/>
<rect x="362.7" y="397.7" width="94.3" height="90.5" fill="none" stroke="#333" stroke-width="1.1"/>
<rect x="372.0" y="397.7" width="36.4" height="54.5" fill="none" stroke="#555" stroke-width="0.7"/>
<text x="391.3" y="390.2" font-size="10.1" fill="#111">NOX1<tspan font-size="5.6" dy="-3.2">KO</tspan></text>
<text x="431.5" y="410.6" font-size="8.6" text-anchor="middle">11.0</text>
<text x="359.7" y="408.3" font-size="3.7" text-anchor="end" fill="#333">10<tspan font-size="2.6" dy="-1.5">5</tspan></text>
<line x1="361.1" y1="406.7" x2="362.7" y2="406.7" stroke="#555" stroke-width="0.6"/>
<text x="359.7" y="429.6" font-size="3.7" text-anchor="end" fill="#333">10<tspan font-size="2.6" dy="-1.5">4</tspan></text>
<line x1="361.1" y1="428" x2="362.7" y2="428" stroke="#555" stroke-width="0.6"/>
<text x="359.7" y="453.9" font-size="3.7" text-anchor="end" fill="#333">10<tspan font-size="2.6" dy="-1.5">3</tspan></text>
<line x1="361.1" y1="452.3" x2="362.7" y2="452.3" stroke="#555" stroke-width="0.6"/>
<text x="359.7" y="468.6" font-size="3.7" text-anchor="end" fill="#333">0</text>
<line x1="361.1" y1="467" x2="362.7" y2="467" stroke="#555" stroke-width="0.6"/>
<text x="359.7" y="484.1" font-size="3.7" text-anchor="end" fill="#333">-10<tspan font-size="2.6" dy="-1.5">3</tspan></text>
<line x1="361.1" y1="482.5" x2="362.7" y2="482.5" stroke="#555" stroke-width="0.6"/>
<line x1="361.6" y1="400" x2="362.7" y2="400" stroke="#666" stroke-width="0.45"/>
<line x1="361.6" y1="403.9" x2="362.7" y2="403.9" stroke="#666" stroke-width="0.45"/>
<line x1="361.6" y1="407.8" x2="362.7" y2="407.8" stroke="#666" stroke-width="0.45"/>
<line x1="361.6" y1="411.7" x2="362.7" y2="411.7" stroke="#666" stroke-width="0.45"/>
<line x1="361.6" y1="415.6" x2="362.7" y2="415.6" stroke="#666" stroke-width="0.45"/>
<line x1="361.6" y1="419.5" x2="362.7" y2="419.5" stroke="#666" stroke-width="0.45"/>
<line x1="361.6" y1="423.4" x2="362.7" y2="423.4" stroke="#666" stroke-width="0.45"/>
<line x1="361.6" y1="427.3" x2="362.7" y2="427.3" stroke="#666" stroke-width="0.45"/>
<line x1="361.6" y1="431.2" x2="362.7" y2="431.2" stroke="#666" stroke-width="0.45"/>
<line x1="361.6" y1="435.1" x2="362.7" y2="435.1" stroke="#666" stroke-width="0.45"/>
<line x1="361.6" y1="439" x2="362.7" y2="439" stroke="#666" stroke-width="0.45"/>
<line x1="361.6" y1="442.9" x2="362.7" y2="442.9" stroke="#666" stroke-width="0.45"/>
<line x1="361.6" y1="446.8" x2="362.7" y2="446.8" stroke="#666" stroke-width="0.45"/>
<line x1="361.6" y1="450.7" x2="362.7" y2="450.7" stroke="#666" stroke-width="0.45"/>
<line x1="361.6" y1="454.6" x2="362.7" y2="454.6" stroke="#666" stroke-width="0.45"/>
<line x1="361.6" y1="458.5" x2="362.7" y2="458.5" stroke="#666" stroke-width="0.45"/>
<line x1="361.6" y1="462.4" x2="362.7" y2="462.4" stroke="#666" stroke-width="0.45"/>
<line x1="361.6" y1="466.3" x2="362.7" y2="466.3" stroke="#666" stroke-width="0.45"/>
<line x1="361.6" y1="470.2" x2="362.7" y2="470.2" stroke="#666" stroke-width="0.45"/>
<line x1="361.6" y1="474.1" x2="362.7" y2="474.1" stroke="#666" stroke-width="0.45"/>
<line x1="361.6" y1="478" x2="362.7" y2="478" stroke="#666" stroke-width="0.45"/>
<line x1="361.6" y1="481.9" x2="362.7" y2="481.9" stroke="#666" stroke-width="0.45"/>
<text x="371.3" y="494.5" font-size="3.6" text-anchor="middle" fill="#333">-10<tspan font-size="2.6" dy="-1.5">3</tspan></text>
<line x1="371.3" y1="488.2" x2="371.3" y2="489.8" stroke="#555" stroke-width="0.6"/>
<text x="385.3" y="494.5" font-size="3.6" text-anchor="middle" fill="#333">0</text>
<line x1="385.3" y1="488.2" x2="385.3" y2="489.8" stroke="#555" stroke-width="0.6"/>
<text x="402.7" y="494.5" font-size="3.6" text-anchor="middle" fill="#333">10<tspan font-size="2.6" dy="-1.5">3</tspan></text>
<line x1="402.7" y1="488.2" x2="402.7" y2="489.8" stroke="#555" stroke-width="0.6"/>
<text x="427.1" y="494.5" font-size="3.6" text-anchor="middle" fill="#333">10<tspan font-size="2.6" dy="-1.5">4</tspan></text>
<line x1="427.1" y1="488.2" x2="427.1" y2="489.8" stroke="#555" stroke-width="0.6"/>
<text x="450.3" y="494.5" font-size="3.6" text-anchor="middle" fill="#333">10<tspan font-size="2.6" dy="-1.5">5</tspan></text>
<line x1="450.3" y1="488.2" x2="450.3" y2="489.8" stroke="#555" stroke-width="0.6"/>
<line x1="364.7" y1="488.2" x2="364.7" y2="489.4" stroke="#666" stroke-width="0.45"/>
<line x1="368.5" y1="488.2" x2="368.5" y2="489.4" stroke="#666" stroke-width="0.45"/>
<line x1="372.3" y1="488.2" x2="372.3" y2="489.4" stroke="#666" stroke-width="0.45"/>
<line x1="376.1" y1="488.2" x2="376.1" y2="489.4" stroke="#666" stroke-width="0.45"/>
<line x1="379.9" y1="488.2" x2="379.9" y2="489.4" stroke="#666" stroke-width="0.45"/>
<line x1="383.7" y1="488.2" x2="383.7" y2="489.4" stroke="#666" stroke-width="0.45"/>
<line x1="387.5" y1="488.2" x2="387.5" y2="489.4" stroke="#666" stroke-width="0.45"/>
<line x1="391.3" y1="488.2" x2="391.3" y2="489.4" stroke="#666" stroke-width="0.45"/>
<line x1="395.1" y1="488.2" x2="395.1" y2="489.4" stroke="#666" stroke-width="0.45"/>
<line x1="398.9" y1="488.2" x2="398.9" y2="489.4" stroke="#666" stroke-width="0.45"/>
<line x1="402.7" y1="488.2" x2="402.7" y2="489.4" stroke="#666" stroke-width="0.45"/>
<line x1="406.5" y1="488.2" x2="406.5" y2="489.4" stroke="#666" stroke-width="0.45"/>
<line x1="410.3" y1="488.2" x2="410.3" y2="489.4" stroke="#666" stroke-width="0.45"/>
<line x1="414.1" y1="488.2" x2="414.1" y2="489.4" stroke="#666" stroke-width="0.45"/>
<line x1="417.9" y1="488.2" x2="417.9" y2="489.4" stroke="#666" stroke-width="0.45"/>
<line x1="421.7" y1="488.2" x2="421.7" y2="489.4" stroke="#666" stroke-width="0.45"/>
<line x1="425.5" y1="488.2" x2="425.5" y2="489.4" stroke="#666" stroke-width="0.45"/>
<line x1="429.3" y1="488.2" x2="429.3" y2="489.4" stroke="#666" stroke-width="0.45"/>
<line x1="433.1" y1="488.2" x2="433.1" y2="489.4" stroke="#666" stroke-width="0.45"/>
<line x1="436.9" y1="488.2" x2="436.9" y2="489.4" stroke="#666" stroke-width="0.45"/>
<line x1="440.7" y1="488.2" x2="440.7" y2="489.4" stroke="#666" stroke-width="0.45"/>
<line x1="444.5" y1="488.2" x2="444.5" y2="489.4" stroke="#666" stroke-width="0.45"/>
<line x1="448.3" y1="488.2" x2="448.3" y2="489.4" stroke="#666" stroke-width="0.45"/>
<line x1="452.1" y1="488.2" x2="452.1" y2="489.4" stroke="#666" stroke-width="0.45"/>
<rect x="361.09999999999997" y="465.5" width="1.6" height="2.4" fill="#222"/>
<rect x="382.2" y="488.4" width="5" height="1.4" fill="#333"/>
<rect x="474.9" y="397.7" width="94.3" height="90.5" fill="none" stroke="#333" stroke-width="1.1"/>
<rect x="484.2" y="397.7" width="36.4" height="54.5" fill="none" stroke="#555" stroke-width="0.7"/>
<text x="492.4" y="390.2" font-size="10.1" fill="#111">NOX1<tspan font-size="5.6" dy="-3.2">KO</tspan><tspan dy="3.2">+&#945;KG</tspan></text>
<text x="542.6" y="410.6" font-size="8.6" text-anchor="middle">10.7</text>
<text x="471.9" y="408.3" font-size="3.7" text-anchor="end" fill="#333">10<tspan font-size="2.6" dy="-1.5">5</tspan></text>
<line x1="473.3" y1="406.7" x2="474.9" y2="406.7" stroke="#555" stroke-width="0.6"/>
<text x="471.9" y="429.6" font-size="3.7" text-anchor="end" fill="#333">10<tspan font-size="2.6" dy="-1.5">4</tspan></text>
<line x1="473.3" y1="428" x2="474.9" y2="428" stroke="#555" stroke-width="0.6"/>
<text x="471.9" y="453.9" font-size="3.7" text-anchor="end" fill="#333">10<tspan font-size="2.6" dy="-1.5">3</tspan></text>
<line x1="473.3" y1="452.3" x2="474.9" y2="452.3" stroke="#555" stroke-width="0.6"/>
<text x="471.9" y="468.6" font-size="3.7" text-anchor="end" fill="#333">0</text>
<line x1="473.3" y1="467" x2="474.9" y2="467" stroke="#555" stroke-width="0.6"/>
<text x="471.9" y="484.1" font-size="3.7" text-anchor="end" fill="#333">-10<tspan font-size="2.6" dy="-1.5">3</tspan></text>
<line x1="473.3" y1="482.5" x2="474.9" y2="482.5" stroke="#555" stroke-width="0.6"/>
<line x1="473.8" y1="400" x2="474.9" y2="400" stroke="#666" stroke-width="0.45"/>
<line x1="473.8" y1="403.9" x2="474.9" y2="403.9" stroke="#666" stroke-width="0.45"/>
<line x1="473.8" y1="407.8" x2="474.9" y2="407.8" stroke="#666" stroke-width="0.45"/>
<line x1="473.8" y1="411.7" x2="474.9" y2="411.7" stroke="#666" stroke-width="0.45"/>
<line x1="473.8" y1="415.6" x2="474.9" y2="415.6" stroke="#666" stroke-width="0.45"/>
<line x1="473.8" y1="419.5" x2="474.9" y2="419.5" stroke="#666" stroke-width="0.45"/>
<line x1="473.8" y1="423.4" x2="474.9" y2="423.4" stroke="#666" stroke-width="0.45"/>
<line x1="473.8" y1="427.3" x2="474.9" y2="427.3" stroke="#666" stroke-width="0.45"/>
<line x1="473.8" y1="431.2" x2="474.9" y2="431.2" stroke="#666" stroke-width="0.45"/>
<line x1="473.8" y1="435.1" x2="474.9" y2="435.1" stroke="#666" stroke-width="0.45"/>
<line x1="473.8" y1="439" x2="474.9" y2="439" stroke="#666" stroke-width="0.45"/>
<line x1="473.8" y1="442.9" x2="474.9" y2="442.9" stroke="#666" stroke-width="0.45"/>
<line x1="473.8" y1="446.8" x2="474.9" y2="446.8" stroke="#666" stroke-width="0.45"/>
<line x1="473.8" y1="450.7" x2="474.9" y2="450.7" stroke="#666" stroke-width="0.45"/>
<line x1="473.8" y1="454.6" x2="474.9" y2="454.6" stroke="#666" stroke-width="0.45"/>
<line x1="473.8" y1="458.5" x2="474.9" y2="458.5" stroke="#666" stroke-width="0.45"/>
<line x1="473.8" y1="462.4" x2="474.9" y2="462.4" stroke="#666" stroke-width="0.45"/>
<line x1="473.8" y1="466.3" x2="474.9" y2="466.3" stroke="#666" stroke-width="0.45"/>
<line x1="473.8" y1="470.2" x2="474.9" y2="470.2" stroke="#666" stroke-width="0.45"/>
<line x1="473.8" y1="474.1" x2="474.9" y2="474.1" stroke="#666" stroke-width="0.45"/>
<line x1="473.8" y1="478" x2="474.9" y2="478" stroke="#666" stroke-width="0.45"/>
<line x1="473.8" y1="481.9" x2="474.9" y2="481.9" stroke="#666" stroke-width="0.45"/>
<text x="483.5" y="494.5" font-size="3.6" text-anchor="middle" fill="#333">-10<tspan font-size="2.6" dy="-1.5">3</tspan></text>
<line x1="483.5" y1="488.2" x2="483.5" y2="489.8" stroke="#555" stroke-width="0.6"/>
<text x="497.5" y="494.5" font-size="3.6" text-anchor="middle" fill="#333">0</text>
<line x1="497.5" y1="488.2" x2="497.5" y2="489.8" stroke="#555" stroke-width="0.6"/>
<text x="514.9" y="494.5" font-size="3.6" text-anchor="middle" fill="#333">10<tspan font-size="2.6" dy="-1.5">3</tspan></text>
<line x1="514.9" y1="488.2" x2="514.9" y2="489.8" stroke="#555" stroke-width="0.6"/>
<text x="539.3" y="494.5" font-size="3.6" text-anchor="middle" fill="#333">10<tspan font-size="2.6" dy="-1.5">4</tspan></text>
<line x1="539.3" y1="488.2" x2="539.3" y2="489.8" stroke="#555" stroke-width="0.6"/>
<text x="562.5" y="494.5" font-size="3.6" text-anchor="middle" fill="#333">10<tspan font-size="2.6" dy="-1.5">5</tspan></text>
<line x1="562.5" y1="488.2" x2="562.5" y2="489.8" stroke="#555" stroke-width="0.6"/>
<line x1="476.9" y1="488.2" x2="476.9" y2="489.4" stroke="#666" stroke-width="0.45"/>
<line x1="480.7" y1="488.2" x2="480.7" y2="489.4" stroke="#666" stroke-width="0.45"/>
<line x1="484.5" y1="488.2" x2="484.5" y2="489.4" stroke="#666" stroke-width="0.45"/>
<line x1="488.3" y1="488.2" x2="488.3" y2="489.4" stroke="#666" stroke-width="0.45"/>
<line x1="492.1" y1="488.2" x2="492.1" y2="489.4" stroke="#666" stroke-width="0.45"/>
<line x1="495.9" y1="488.2" x2="495.9" y2="489.4" stroke="#666" stroke-width="0.45"/>
<line x1="499.7" y1="488.2" x2="499.7" y2="489.4" stroke="#666" stroke-width="0.45"/>
<line x1="503.5" y1="488.2" x2="503.5" y2="489.4" stroke="#666" stroke-width="0.45"/>
<line x1="507.3" y1="488.2" x2="507.3" y2="489.4" stroke="#666" stroke-width="0.45"/>
<line x1="511.1" y1="488.2" x2="511.1" y2="489.4" stroke="#666" stroke-width="0.45"/>
<line x1="514.9" y1="488.2" x2="514.9" y2="489.4" stroke="#666" stroke-width="0.45"/>
<line x1="518.7" y1="488.2" x2="518.7" y2="489.4" stroke="#666" stroke-width="0.45"/>
<line x1="522.5" y1="488.2" x2="522.5" y2="489.4" stroke="#666" stroke-width="0.45"/>
<line x1="526.3" y1="488.2" x2="526.3" y2="489.4" stroke="#666" stroke-width="0.45"/>
<line x1="530.1" y1="488.2" x2="530.1" y2="489.4" stroke="#666" stroke-width="0.45"/>
<line x1="533.9" y1="488.2" x2="533.9" y2="489.4" stroke="#666" stroke-width="0.45"/>
<line x1="537.7" y1="488.2" x2="537.7" y2="489.4" stroke="#666" stroke-width="0.45"/>
<line x1="541.5" y1="488.2" x2="541.5" y2="489.4" stroke="#666" stroke-width="0.45"/>
<line x1="545.3" y1="488.2" x2="545.3" y2="489.4" stroke="#666" stroke-width="0.45"/>
<line x1="549.1" y1="488.2" x2="549.1" y2="489.4" stroke="#666" stroke-width="0.45"/>
<line x1="552.9" y1="488.2" x2="552.9" y2="489.4" stroke="#666" stroke-width="0.45"/>
<line x1="556.7" y1="488.2" x2="556.7" y2="489.4" stroke="#666" stroke-width="0.45"/>
<line x1="560.5" y1="488.2" x2="560.5" y2="489.4" stroke="#666" stroke-width="0.45"/>
<line x1="564.3" y1="488.2" x2="564.3" y2="489.4" stroke="#666" stroke-width="0.45"/>
<rect x="473.29999999999995" y="465.5" width="1.6" height="2.4" fill="#222"/>
<rect x="494.4" y="488.4" width="5" height="1.4" fill="#333"/>
<rect x="588.3" y="397.7" width="94.3" height="90.5" fill="none" stroke="#333" stroke-width="1.1"/>
<rect x="597.5999999999999" y="397.7" width="36.4" height="54.5" fill="none" stroke="#555" stroke-width="0.7"/>
<text x="595" y="390.2" font-size="10.1" fill="#111">NOX1<tspan font-size="5.6" dy="-3.2">KO</tspan><tspan dy="3.2">+IDH1inh</tspan></text>
<text x="659" y="410.6" font-size="8.6" text-anchor="middle">19.6</text>
<text x="585.3" y="408.3" font-size="3.7" text-anchor="end" fill="#333">10<tspan font-size="2.6" dy="-1.5">5</tspan></text>
<line x1="586.7" y1="406.7" x2="588.3" y2="406.7" stroke="#555" stroke-width="0.6"/>
<text x="585.3" y="429.6" font-size="3.7" text-anchor="end" fill="#333">10<tspan font-size="2.6" dy="-1.5">4</tspan></text>
<line x1="586.7" y1="428" x2="588.3" y2="428" stroke="#555" stroke-width="0.6"/>
<text x="585.3" y="453.9" font-size="3.7" text-anchor="end" fill="#333">10<tspan font-size="2.6" dy="-1.5">3</tspan></text>
<line x1="586.7" y1="452.3" x2="588.3" y2="452.3" stroke="#555" stroke-width="0.6"/>
<text x="585.3" y="468.6" font-size="3.7" text-anchor="end" fill="#333">0</text>
<line x1="586.7" y1="467" x2="588.3" y2="467" stroke="#555" stroke-width="0.6"/>
<text x="585.3" y="484.1" font-size="3.7" text-anchor="end" fill="#333">-10<tspan font-size="2.6" dy="-1.5">3</tspan></text>
<line x1="586.7" y1="482.5" x2="588.3" y2="482.5" stroke="#555" stroke-width="0.6"/>
<line x1="587.2" y1="400" x2="588.3" y2="400" stroke="#666" stroke-width="0.45"/>
<line x1="587.2" y1="403.9" x2="588.3" y2="403.9" stroke="#666" stroke-width="0.45"/>
<line x1="587.2" y1="407.8" x2="588.3" y2="407.8" stroke="#666" stroke-width="0.45"/>
<line x1="587.2" y1="411.7" x2="588.3" y2="411.7" stroke="#666" stroke-width="0.45"/>
<line x1="587.2" y1="415.6" x2="588.3" y2="415.6" stroke="#666" stroke-width="0.45"/>
<line x1="587.2" y1="419.5" x2="588.3" y2="419.5" stroke="#666" stroke-width="0.45"/>
<line x1="587.2" y1="423.4" x2="588.3" y2="423.4" stroke="#666" stroke-width="0.45"/>
<line x1="587.2" y1="427.3" x2="588.3" y2="427.3" stroke="#666" stroke-width="0.45"/>
<line x1="587.2" y1="431.2" x2="588.3" y2="431.2" stroke="#666" stroke-width="0.45"/>
<line x1="587.2" y1="435.1" x2="588.3" y2="435.1" stroke="#666" stroke-width="0.45"/>
<line x1="587.2" y1="439" x2="588.3" y2="439" stroke="#666" stroke-width="0.45"/>
<line x1="587.2" y1="442.9" x2="588.3" y2="442.9" stroke="#666" stroke-width="0.45"/>
<line x1="587.2" y1="446.8" x2="588.3" y2="446.8" stroke="#666" stroke-width="0.45"/>
<line x1="587.2" y1="450.7" x2="588.3" y2="450.7" stroke="#666" stroke-width="0.45"/>
<line x1="587.2" y1="454.6" x2="588.3" y2="454.6" stroke="#666" stroke-width="0.45"/>
<line x1="587.2" y1="458.5" x2="588.3" y2="458.5" stroke="#666" stroke-width="0.45"/>
<line x1="587.2" y1="462.4" x2="588.3" y2="462.4" stroke="#666" stroke-width="0.45"/>
<line x1="587.2" y1="466.3" x2="588.3" y2="466.3" stroke="#666" stroke-width="0.45"/>
<line x1="587.2" y1="470.2" x2="588.3" y2="470.2" stroke="#666" stroke-width="0.45"/>
<line x1="587.2" y1="474.1" x2="588.3" y2="474.1" stroke="#666" stroke-width="0.45"/>
<line x1="587.2" y1="478" x2="588.3" y2="478" stroke="#666" stroke-width="0.45"/>
<line x1="587.2" y1="481.9" x2="588.3" y2="481.9" stroke="#666" stroke-width="0.45"/>
<text x="596.9" y="494.5" font-size="3.6" text-anchor="middle" fill="#333">-10<tspan font-size="2.6" dy="-1.5">3</tspan></text>
<line x1="596.9" y1="488.2" x2="596.9" y2="489.8" stroke="#555" stroke-width="0.6"/>
<text x="610.9" y="494.5" font-size="3.6" text-anchor="middle" fill="#333">0</text>
<line x1="610.9" y1="488.2" x2="610.9" y2="489.8" stroke="#555" stroke-width="0.6"/>
<text x="628.3" y="494.5" font-size="3.6" text-anchor="middle" fill="#333">10<tspan font-size="2.6" dy="-1.5">3</tspan></text>
<line x1="628.3" y1="488.2" x2="628.3" y2="489.8" stroke="#555" stroke-width="0.6"/>
<text x="652.7" y="494.5" font-size="3.6" text-anchor="middle" fill="#333">10<tspan font-size="2.6" dy="-1.5">4</tspan></text>
<line x1="652.7" y1="488.2" x2="652.7" y2="489.8" stroke="#555" stroke-width="0.6"/>
<text x="675.9" y="494.5" font-size="3.6" text-anchor="middle" fill="#333">10<tspan font-size="2.6" dy="-1.5">5</tspan></text>
<line x1="675.9" y1="488.2" x2="675.9" y2="489.8" stroke="#555" stroke-width="0.6"/>
<line x1="590.3" y1="488.2" x2="590.3" y2="489.4" stroke="#666" stroke-width="0.45"/>
<line x1="594.1" y1="488.2" x2="594.1" y2="489.4" stroke="#666" stroke-width="0.45"/>
<line x1="597.9" y1="488.2" x2="597.9" y2="489.4" stroke="#666" stroke-width="0.45"/>
<line x1="601.7" y1="488.2" x2="601.7" y2="489.4" stroke="#666" stroke-width="0.45"/>
<line x1="605.5" y1="488.2" x2="605.5" y2="489.4" stroke="#666" stroke-width="0.45"/>
<line x1="609.3" y1="488.2" x2="609.3" y2="489.4" stroke="#666" stroke-width="0.45"/>
<line x1="613.1" y1="488.2" x2="613.1" y2="489.4" stroke="#666" stroke-width="0.45"/>
<line x1="616.9" y1="488.2" x2="616.9" y2="489.4" stroke="#666" stroke-width="0.45"/>
<line x1="620.7" y1="488.2" x2="620.7" y2="489.4" stroke="#666" stroke-width="0.45"/>
<line x1="624.5" y1="488.2" x2="624.5" y2="489.4" stroke="#666" stroke-width="0.45"/>
<line x1="628.3" y1="488.2" x2="628.3" y2="489.4" stroke="#666" stroke-width="0.45"/>
<line x1="632.1" y1="488.2" x2="632.1" y2="489.4" stroke="#666" stroke-width="0.45"/>
<line x1="635.9" y1="488.2" x2="635.9" y2="489.4" stroke="#666" stroke-width="0.45"/>
<line x1="639.7" y1="488.2" x2="639.7" y2="489.4" stroke="#666" stroke-width="0.45"/>
<line x1="643.5" y1="488.2" x2="643.5" y2="489.4" stroke="#666" stroke-width="0.45"/>
<line x1="647.3" y1="488.2" x2="647.3" y2="489.4" stroke="#666" stroke-width="0.45"/>
<line x1="651.1" y1="488.2" x2="651.1" y2="489.4" stroke="#666" stroke-width="0.45"/>
<line x1="654.9" y1="488.2" x2="654.9" y2="489.4" stroke="#666" stroke-width="0.45"/>
<line x1="658.7" y1="488.2" x2="658.7" y2="489.4" stroke="#666" stroke-width="0.45"/>
<line x1="662.5" y1="488.2" x2="662.5" y2="489.4" stroke="#666" stroke-width="0.45"/>
<line x1="666.3" y1="488.2" x2="666.3" y2="489.4" stroke="#666" stroke-width="0.45"/>
<line x1="670.1" y1="488.2" x2="670.1" y2="489.4" stroke="#666" stroke-width="0.45"/>
<line x1="673.9" y1="488.2" x2="673.9" y2="489.4" stroke="#666" stroke-width="0.45"/>
<line x1="677.7" y1="488.2" x2="677.7" y2="489.4" stroke="#666" stroke-width="0.45"/>
<rect x="586.6999999999999" y="465.5" width="1.6" height="2.4" fill="#222"/>
<rect x="607.8" y="488.4" width="5" height="1.4" fill="#333"/>
<path d="M46 465.2l-0.4 0l-0.4 -.4l-0.2 -.8l.2 -2l.4 -.5l.4 .4l.5 1.7l-0.1 1l-0.4 .6zM46 465.7l-0.4 0l-0.4 -.2l-0.4 -.7l-0.1 -.8l.1 -2.4l.4 -1.1l.4 -.3l.4 .3l.4 1l.4 2.1l-0.1 1.2l-0.3 .6l-0.4 .3zM46 466.1l-0.7 -.1l-0.4 -.4l-0.5 -1.6l.3 -3.2l.5 -1.5l.4 -.4l.4 .3l.4 1l.7 3.4l-0.2 1.6l-0.5 .7l-0.4 .2zM46 466.4l-0.8 -.1l-0.4 -.4l-0.5 -1.1l-0.1 -1.2l.3 -3.2l.7 -2.1l.4 -.6l.4 .1l.4 1.2l.8 4.6l0 1.2l-0.3 .8l-0.5 .6l-0.4 .2zM46.4 466.5l-0.8 .2l-0.8 -.5l-0.6 -1l-0.2 -1.6l.1 -2l.3 -1.9l1.2 -3.9l.4 -.4l.4 1.4l1 7.2l-0.2 1.6l-0.8 .9zM46 466.9l-0.8 -.2l-0.8 -.8l-0.4 -1.1l-0.1 -1.6l.1 -2.2l.4 -2.1l1.1 -4.5l.5 -.5l.4 .6l.2 .7l1 8.8l-0.4 1.9l-0.4 .5l-0.8 .5zM46.4 466.9l-0.8 .1l-1.1 -.6l-0.5 -1.2l-0.2 -1.6l.1 -3.2l1.3 -6.3l.4 -1.1l.4 -.2l.4 .5l.4 1.2l.2 3.9l.7 5.6l-0.1 1.2l-0.3 .8l-0.9 .9zM46 467.2l-0.8 -.1l-0.9 -.7l-0.5 -1.2l-0.2 -2l.2 -2.8l1.3 -7.2l.5 -1.8l.4 -.1l.8 1.9l.3 1.2l.2 4.4l.5 5.2l-0.1 1.2l-0.4 1.2l-0.5 .5l-0.8 .3zM46.4 467.2l-1.2 0l-0.8 -.6l-0.7 -1.4l-0.2 -1.6l.3 -3.6l1.7 -9.6l.1 -2.4l.4 -.4l.2 3.2l1 3.6l.2 4.4l.5 5.2l-0.3 2l-0.6 .8l-0.6 .4zM45.6 434.3l-0.4 -1.9l.4 -1l.4 1l0 .8l-0.4 1.1zM46.4 467.3l-1.2 0l-1.1 -.9l-0.5 -1.2l-0.1 -2l.1 -2.8l1.4 -9.2l.3 -3.6l.3 -1.2l.4 0l.5 1.2l0 3.2l.8 3.6l.1 4.4l.6 5.2l-0.1 1.2l-0.3 .9l-0.4 .7l-0.8 .5zM45.6 435.3l-0.4 -.8l-0.2 -2.1l.2 -1.6l.4 -.3l.4 .7l.2 2l-0.2 1.9l-0.4 .2zM46.8 467.2l-1.2 .3l-1.2 -.6l-0.7 -1.3l-0.3 -1.6l.1 -3.6l1.4 -9.2l.3 -4.4l.4 -1.2l.4 .1l.4 .8l.2 1.1l.1 3.2l.7 3.6l.1 4.4l.5 4.8l-0.1 2l-0.4 .8l-0.7 .8zM45.6 436l-0.5 -1.2l-0.3 -2.4l.2 -1.6l.2 -.6l.4 -.2l.5 .8l.3 2.4l-0.2 2l-0.2 .7l-0.4 .1zM46 467.6l-1.2 -.3l-0.8 -.9l-0.5 -1.2l-0.2 -2l.2 -2.8l1.2 -8.4l.3 -5.2l.2 -1.1l.4 -.8l.4 .2l.4 .8l.4 1.6l0 3.3l.7 3.6l.1 4.4l.5 5.2l-0.1 1.2l-0.4 1.2l-0.8 .9l-0.8 .3zM46 436.6l-0.4 .1l-0.4 -.7l-0.5 -2.8l.1 -2.6l.4 -.8l.4 -.2l.4 .4l.2 .4l.3 2l0 2.4l-0.5 1.8zM46 467.7l-1.2 -.3l-0.8 -.8l-0.5 -1.4l-0.2 -2l.1 -2.8l1.2 -8.4l.3 -5.2l.3 -2l.4 -.8l.4 .4l.4 .9l.5 1.9l.1 3.6l.6 3.6l.1 4.4l.5 5.2l-0.1 1.2l-0.5 1.3l-0.8 .9l-0.8 .3zM46 437.8l-0.4 .1l-0.4 -.9l-0.5 -1.8l-0.2 -2.4l0 -1.6l.3 -1.2l.4 -.7l.4 -.1l.4 .2l.4 .8l.3 2.6l0 2.4l-0.7 2.6zM46.4 467.7l-1.2 0l-1.1 -.9l-0.6 -1.2l-0.3 -2l.1 -3.2l1 -7.2l.5 -7.7l.4 -2.1l.4 -1l.4 .6l1 4.2l.1 3.6l.6 3.6l.1 4.8l.4 4.8l0 1.2l-0.4 1.2l-0.6 .8l-0.8 .5zM46 438.9l-0.4 .2l-0.9 -3.5l-0.3 -2.8l0 -1.6l.2 -1.2l.5 -.8l.5 -.2l.4 .2l.4 .8l.4 2.8l0 2.4l-0.8 3.7zM46.4 467.7l-1.2 .1l-1.2 -1l-0.6 -1.2l-0.2 -2l.1 -3.2l1 -7.2l.4 -8l.9 -4.5l.4 .8l1.2 6.1l0 3.2l.6 3.6l0 4.8l.5 4.8l-0.1 1.2l-0.4 1.2l-0.6 .9l-0.8 .4zM46.8 467.6l-1.2 .3l-0.8 -.3l-0.5 -.4l-0.9 -1.6l-0.3 -2l.1 -3.2l1 -7.2l.4 -7.6l.7 -5.6l-0.2 -2l-0.7 -3.7l-0.1 -3.1l.5 -1.9l.4 -.5l.4 -.1l.4 .2l.4 .7l.5 2.4l0 2.8l-0.7 4.4l0 1.6l.3 2.8l.8 4l0 3.2l.5 3.6l.1 4.8l.4 4.8l-0.3 2.1l-0.4 .8l-0.8 .7zM46 468l-1.2 -.2l-1 -1l-0.6 -1.6l-0.2 -2l.2 -2.8l.8 -6.4l.4 -8.4l.6 -5.6l-0.1 -1.6l-0.7 -4.4l0 -2.8l.4 -2l.6 -.7l.4 -.1l.4 .2l.5 .6l.3 1.1l.2 1.7l.1 2.4l-0.5 4.8l0 2.8l.8 5.6l0 3.2l.5 3.6l.1 4.8l.4 4.8l-0.2 1.6l-0.4 1.2l-0.8 .8l-1 .4zM46.4 468l-1.2 0l-1.2 -.8l-0.8 -1.6l-0.2 -2.4l.1 -2.8l.8 -6.4l.4 -8.8l.5 -5.2l-0.1 -2l-0.6 -4.4l-0.1 -2.4l.4 -2l.4 -.6l.8 -.4l.5 .2l.5 .8l.5 2.8l.1 2.4l-0.4 4.8l0 3.2l.7 5.2l0 3.2l.5 3.6l0 4.8l.5 4.8l-0.2 1.6l-0.3 .9l-0.8 1.1l-0.8 .4zM46.4 468.1l-1.2 0l-1.3 -.9l-0.7 -1.6l-0.3 -2.4l.1 -2.8l.8 -6.4l.4 -8.8l.4 -5.2l-0.1 -2l-0.5 -4.4l-0.1 -2.4l.5 -2.3l.4 -.6l.8 -.3l.8 .4l.4 .8l.4 2.4l.1 2.8l-0.4 4.8l0 3.2l.7 5.2l0 3.2l.5 3.6l0 4.8l.4 4.8l-0.1 1.6l-0.4 1.1l-0.7 .9l-0.9 .5zM46.8 468.1l-0.8 .2l-0.8 0l-1.2 -.8l-0.8 -1.5l-0.4 -2.4l.1 -3.2l.8 -6.4l.7 -14l-0.6 -6.8l0 -2.4l.2 -1.4l.4 -1l.4 -.5l.8 -.3l.8 .4l.4 .6l.4 1.4l.2 1.6l.1 2.8l-0.3 4.8l0 3.6l.6 4.8l0 3.2l.4 3.6l0 4.8l.4 4.8l0 1.2l-0.3 1.2l-0.7 1.1l-0.8 .6zM46 468.5l-0.8 -.1l-0.8 -.4l-1 -1.2l-0.5 -1.6l-0.2 -2.4l.1 -2.4l.8 -6.4l.6 -14l-0.6 -6.8l0 -2.4l.6 -2.4l.6 -.8l.8 -.3l.8 .4l.5 .7l.4 1.2l.2 1.6l.1 3.2l-0.3 8.4l.6 4.8l0 3.2l.5 3.6l-0.1 4.8l.4 4.8l-0.1 1.6l-0.6 1.5l-0.8 .9l-1.2 .5zM46.4 468.5l-0.8 .1l-0.8 -.2l-1.2 -1.1l-0.7 -1.7l-0.3 -2.4l.1 -2.8l.7 -6.4l.6 -14l-0.5 -6.8l0 -2.4l.2 -1.6l.5 -1.2l.6 -.6l.8 -.3l.8 .3l.7 1l.5 2.8l.2 3.2l-0.3 8.4l.6 4.8l0 3.2l.4 3.6l-0.1 4.8l.4 4.8l-0.1 1.6l-0.4 1.2l-0.7 1l-1.2 .7zM46.8 468.6l-0.8 .2l-0.8 -.1l-0.8 -.3l-0.8 -.8l-0.8 -1.6l-0.3 -2.4l0 -3.2l.8 -6.4l.4 -14l-0.5 -7.2l.1 -2.4l.3 -1.6l.4 -1.1l.8 -.8l.8 -.2l.8 .3l.8 1l.4 1.2l.2 1.6l.2 3.6l-0.2 8.4l.5 4.8l0 3.2l.4 4l-0.1 4.8l.4 4.4l-0.1 1.6l-0.4 1.2l-0.8 1.2l-0.9 .6zM46.4 468.9l-0.8 0l-0.8 -.2l-0.8 -.4l-0.6 -.7l-0.8 -2l-0.3 -2.8l.1 -2.8l.7 -6l.5 -14l-0.5 -7.2l0 -2.4l.3 -1.6l.5 -1.2l.7 -.8l1 -.3l.8 .2l.8 .9l.5 1.2l.3 2l.2 3.6l-0.3 8.8l.5 4.4l0 3.2l.4 4l0 4.8l.3 4.4l-0.1 1.6l-0.6 1.6l-0.8 1.1l-1.2 .6zM47.2 468.8l-0.8 .3l-1.2 0l-0.8 -.3l-0.8 -.6l-1 -1.8l-0.4 -2.8l0 -3.2l.7 -6l.4 -14.4l-0.5 -7.2l.1 -2.4l.3 -2l.6 -1.2l.8 -.8l1 -.3l1.2 .5l.9 1.4l.5 2l.2 2.8l-0.2 10.4l.5 4l0 3.6l.3 3.6l-0.1 4.8l.4 5.2l-0.2 1.6l-0.4 1.2l-0.7 1l-0.8 .6zM46.8 469.2l-0.8 .2l-1.2 -.2l-0.8 -.4l-0.8 -.8l-0.9 -2l-0.3 -2.8l.1 -3.2l.6 -6l.3 -14l-0.4 -7.2l.1 -2.8l.3 -1.6l.6 -1.4l.8 -.8l1.2 -.4l.8 .2l1 .8l.6 1.2l.3 1.6l.3 4.8l-0.2 8.8l.5 4l0 3.6l.3 4l-0.1 4.4l.3 4.8l0 1.6l-0.4 1.2l-0.6 1.2l-0.8 .8l-0.8 .4zM46.4 469.7l-0.8 0l-1.2 -.3l-0.8 -.5l-0.7 -.9l-0.9 -2l-0.3 -3.2l.1 -2.8l.6 -5.6l.3 -14.8l-0.4 -7.2l.1 -2.4l.3 -2l.5 -1.2l1.2 -1.1l1.2 -.3l1.2 .3l.8 .7l.6 1.2l.5 2l.2 4.8l-0.1 8.8l.4 4l0 4l.3 3.2l-0.1 5.2l.3 4.4l-0.2 2l-0.5 1.6l-1 1.3l-0.8 .5l-0.8 .3zM46.4 470.1l-0.8 0l-1.2 -.3l-0.8 -.5l-0.9 -.9l-0.9 -2l-0.4 -3.6l.1 -2.4l.6 -6.8l.2 -14.4l-0.4 -6.8l.1 -2.8l.4 -2l.8 -1.5l1.2 -1l1.2 -.2l1.2 .3l1 .8l.7 1.2l.5 2l.3 5.2l-0.2 8.8l.4 4l0 4l.4 3.6l-0.2 4.4l.3 5.2l-0.2 2l-0.5 1.2l-0.7 1.2l-1 .8l-1.2 .5zM47.2 470.4l-1.2 .3l-1.2 -.1l-1.2 -.6l-0.9 -.8l-0.8 -1.2l-0.5 -1.2l-0.4 -3.6l0 -2.8l.6 -6.5l.2 -14.7l-0.4 -6.8l.2 -3.2l.4 -2l.8 -1.6l1.2 -1l1.6 -.4l1.2 .3l.8 .4l.8 .9l.6 1l.5 2l.3 4.4l-0.1 10l.3 4l0 3.6l.3 3.6l-0.1 4.8l.2 6l-0.3 1.6l-0.6 1.6l-1.1 1.3l-1.2 .7zM46.4 471.6l-1.6 -.1l-1.2 -.4l-1.2 -1l-0.7 -.9l-0.7 -1.2l-0.5 -1.6l-0.3 -4l.6 -8.4l.1 -15.2l-0.3 -6.8l.1 -3.2l.6 -2.4l.9 -1.6l1 -.9l.8 -.4l1.6 -.3l1.6 .3l1.3 .9l1.1 1.6l.6 2l.4 6.4l0 9.2l.3 3.6l0 3.6l.2 3.6l-0.1 5.2l.2 5.2l-0.2 2l-0.8 2l-1 1.3l-1.2 1l-1.6 .5z" fill="none" stroke="#111" stroke-width="0.42"/>
<path d="M46 425.3l-1.2 -.2l-0.8 -.5l-0.9 -1l-0.8 -1.6l-1.2 -4.4l-0.4 -4.4l.2 -4l.9 -3.2l.9 -1.6l.9 -1l.8 -.5l1.2 -.3l1.2 .3l.8 .5l1.6 2.2l1 3.2l.4 3.6l-0.4 4.8l-0.8 4l-1.4 2.8l-0.8 .8l-1.2 .5zM46.4 421.7l-1.2 .2l-0.8 -.6l-0.6 -.9l-0.9 -2.8l-0.5 -3.6l.2 -3.2l.6 -2.3l1.2 -1.8l1.2 -.5l1.2 .5l1 1.3l.7 2l.3 2.4l-0.1 3.2l-0.5 2.8l-0.7 2l-1.1 1.3zM46 419l-0.8 -.1l-0.8 -1.2l-0.5 -1.7l-0.2 -2l.1 -2l.4 -1.6l.6 -.9l.8 -.4l.8 .3l.4 .6l.5 1.2l.2 2l-0.3 3.6l-0.4 1.2l-0.8 1.0z" fill="none" stroke="#222" stroke-width="0.5"/>
<path d="M158.4 465l-0.4 -.2l-0.1 -.8l.1 -.4l.4 -.2l.4 .2l.2 .4l-0.2 .8l-0.4 .2zM158.8 465.2l-0.4 .1l-0.4 -.1l-0.4 -.8l.1 -.8l.3 -.5l.4 -.1l.5 .2l.3 .8l0 .5l-0.4 .7zM158.4 465.7l-0.8 -.5l-0.3 -1.2l.3 -.8l.4 -.5l.4 -.1l.4 .1l.4 .4l.3 .9l-0.3 1.2l-0.8 .5zM158.8 465.8l-0.4 .1l-0.7 -.3l-0.6 -1.2l.1 -.8l.4 -.8l.8 -.5l.8 .4l.5 1.3l-0.3 1.2l-0.6 .6zM158.8 466.1l-0.8 0l-0.4 -.3l-0.5 -.6l-0.1 -.8l0 -.8l.3 -.8l.7 -.7l.4 -.1l.8 .4l.5 .8l.1 .8l-0.2 1.3l-0.8 .8zM159.2 466.1l-0.8 .3l-0.8 -.3l-0.4 -.5l-0.3 -.8l.1 -1.6l.4 -.8l.6 -.5l.8 0l.4 .2l.7 1.1l0 1.6l-0.3 .8l-0.4 .5zM158.8 466.5l-0.8 0l-0.7 -.5l-0.5 -.8l-0.1 -.8l.1 -1.2l.4 -.8l.4 -.5l.8 -.4l.8 .4l.4 .4l.6 1.7l-0.4 1.6l-1 .9zM159.2 466.5l-0.8 .3l-0.8 -.3l-0.8 -.9l-0.3 -.8l0 -1.2l.4 -1.2l.7 -.8l.8 -.3l.8 .2l.4 .5l.7 1.6l-0.1 1.6l-0.4 .8l-0.6 .5zM158.8 466.9l-0.8 0l-0.8 -.5l-0.6 -.8l-0.2 -1.2l.1 -1.2l.5 -1.2l.6 -.7l.8 -.3l.8 .3l.6 .7l.4 .8l.2 1.2l-0.1 1.2l-0.3 .7l-0.4 .5l-0.8 .5zM159.2 467l-1.2 .1l-0.8 -.4l-0.6 -.7l-0.4 -1.2l.1 -1.6l.5 -1.2l.8 -1l.8 -.3l.8 .3l.6 .6l.4 .8l.4 1.2l0 1.2l-0.2 .8l-0.5 .8l-0.7 .6zM158.8 467.3l-1.2 -.1l-0.8 -.6l-0.5 -1l-0.3 -1.2l.2 -1.6l.6 -1.2l.8 -.9l.8 -.3l.8 .3l.8 .8l.6 1.3l.2 1.2l-0.1 1.2l-0.3 .8l-0.8 .9l-0.8 .4zM159.2 467.4l-1.2 .1l-0.8 -.4l-0.8 -.9l-0.5 -1.4l0 -1.2l.5 -1.6l.8 -1.2l1.2 -.7l.8 .3l.8 .8l.6 1.2l.3 1.2l0 1.2l-0.4 1.2l-0.5 .8l-0.8 .6zM158.8 467.7l-1.2 -.1l-0.8 -.6l-0.7 -1l-0.4 -1.6l.1 -1.2l.6 -1.6l.8 -1.1l1.2 -.7l.8 .2l1 1.2l.6 1.2l.3 1.6l-0.1 1.2l-0.5 1.2l-0.9 1l-0.8 .3zM159.2 467.8l-1.2 .1l-1.2 -.6l-0.8 -1.1l-0.4 -1.4l.1 -1.6l.5 -1.6l1 -1.5l1.2 -.8l.8 .3l.8 .9l.8 1.5l.4 1.6l-0.1 1.6l-0.3 1l-0.7 1l-0.9 .6zM158.8 468.1l-1.2 -.1l-1.1 -.8l-0.8 -1.2l-0.3 -1.6l.2 -1.6l.6 -1.6l1 -1.4l1.2 -.9l.8 .3l1.2 1.6l.7 1.6l.3 1.6l-0.2 1.6l-0.6 1.2l-0.7 .8l-1.1 .5zM159.6 468l-0.8 .3l-0.8 0l-1.2 -.5l-1.1 -1.4l-0.4 -1.6l.1 -1.6l.6 -2l1.2 -1.9l1.2 -1.2l.4 .1l.4 .3l1.2 1.8l.8 1.7l.3 1.6l0 1.6l-0.4 1.2l-0.7 1l-0.8 .6zM158.8 468.5l-1.2 -.1l-1.2 -.8l-1 -1.6l-0.3 -1.6l.2 -1.6l.5 -1.6l2.6 -4.1l.4 .1l.4 .5l1.6 3l.6 1.7l.3 1.6l-0.2 1.6l-0.5 1.2l-1 1.2l-1.2 .5zM159.2 468.5l-0.8 .2l-0.8 -.2l-1.2 -.7l-1 -1.4l-0.4 -1.6l.1 -1.6l.4 -1.6l1.9 -3.6l.6 -1.8l.4 -.5l.4 .2l.4 .7l2 4.6l.4 1.6l.2 1.2l-0.2 1.6l-0.4 1.2l-0.8 1l-1.2 .7zM158.4 452l-0.4 -.1l-0.2 -1.5l.2 -1.1l.4 -.1l.3 .8l-0.3 2.0zM159.6 468.5l-1.6 .2l-0.8 -.2l-0.8 -.5l-0.9 -1.2l-0.6 -2l.1 -1.2l.3 -1.6l1.7 -3.6l1 -3.8l.4 -.6l.8 1.7l.9 2.7l1.3 3.2l.5 2l-0.1 1.6l-0.3 1.2l-0.8 1.2l-1.1 .9zM158.4 468.8l-1.2 -.2l-1.2 -1l-0.9 -1.6l-0.2 -1.6l.3 -2.4l1.7 -3.6l.4 -1.6l.5 -2.8l-0.2 -4.4l.4 -.8l.4 0l.4 .3l.1 .5l-0.2 3.2l.2 1.6l1.3 4l1.4 3.6l.3 2.4l-0.2 1.6l-0.9 1.6l-1.2 1l-1.2 .2zM159.2 468.8l-0.8 .1l-0.8 -.1l-1.4 -.8l-1 -1.6l-0.4 -2l.4 -2.4l1.5 -3.6l.4 -1.6l.3 -2.4l-0.1 -4.8l.3 -.9l.4 -.4l.4 0l.4 .2l.4 .9l-0.1 3.4l.2 1.6l1 4l1.4 3.6l.3 2l-0.1 1.6l-0.7 1.6l-0.8 1l-1.2 .6zM159.2 468.9l-1.6 0l-0.8 -.3l-0.7 -.6l-1 -1.6l-0.4 -2l.4 -2.4l1.5 -3.6l.3 -1.6l.2 -2l-0.1 -4.4l.1 -1.2l.5 -1l.8 -.3l.7 .5l.3 .8l.1 4.8l1 4.4l1.3 3.6l.3 2l-0.1 1.6l-0.7 1.6l-0.9 1.1l-1.2 .6zM159.6 468.9l-1.6 .2l-0.8 -.2l-0.8 -.4l-1.3 -1.7l-0.5 -2l0 -1.2l.3 -1.6l1.4 -3.2l.4 -1.6l.2 -2.4l-0.1 -5.6l.5 -1.2l.7 -.5l.4 0l.8 .5l.4 .8l.2 5.6l.8 4l1.3 3.6l.3 2l-0.1 1.6l-0.6 1.6l-0.7 .9l-1.2 .8zM159.2 469.3l-1.6 0l-0.8 -.4l-0.8 -.6l-1 -1.5l-0.4 -1.2l-0.1 -1.2l.2 -2l1.3 -3.6l.4 -1.6l.1 -2.4l-0.1 -4.4l.2 -1.6l.6 -1.2l.5 -.4l.7 -.2l1 .6l.6 1.2l.2 5.6l.7 4l1.2 4l.2 1.6l-0.2 2l-0.7 1.6l-1 1.1l-1.2 .6zM159.6 469.3l-0.8 .2l-1.2 0l-1.6 -.9l-1 -1.4l-0.5 -1.2l-0.2 -1.2l.2 -2.4l1.3 -3.6l.4 -1.6l.1 -2l-0.2 -4.8l.2 -1.6l.2 -.8l.6 -.8l.5 -.4l.8 -.2l.8 .3l.4 .4l.7 1.5l.1 5.6l.7 4l1.1 3.6l.3 2l-0.2 2l-0.5 1.2l-1 1.4l-1.2 .7zM159.2 469.7l-1.2 .1l-0.8 -.2l-1.6 -1.1l-1 -1.7l-0.5 -2.4l.2 -2l1.3 -3.8l.2 -1.4l0 -6.8l.1 -1.6l.4 -1.2l.5 -.7l.8 -.6l.8 -.2l1.2 .6l.6 .9l.3 .8l.3 6l.6 4l1.1 4l.2 1.6l-0.2 2l-0.6 1.6l-1.1 1.3l-1.6 .8zM159.2 470l-0.8 .1l-1.2 -.2l-1.7 -1.1l-0.6 -.8l-0.6 -1.2l-0.4 -2.4l.3 -2.4l1 -3.2l.3 -1.6l-0.1 -6.8l.2 -2l.5 -1.2l.7 -.9l.8 -.6l.8 -.1l.8 .2l.8 .7l.9 1.9l.2 6l.6 4l1 3.6l.2 2l-0.3 2.4l-0.7 1.6l-1.1 1.2l-1.6 .8zM159.2 470.5l-1.2 0l-1.2 -.3l-1.6 -1.1l-0.8 -1.1l-0.5 -1.2l-0.4 -2.4l.3 -2.4l1 -3.3l.2 -1.5l-0.1 -6.8l.2 -2l.4 -1.2l.9 -1.5l.8 -.7l1.2 -.4l.8 .2l.8 .7l.9 1.3l.4 1.2l.2 1.6l.1 4.4l.6 4.8l.8 3.2l.3 2l-0.3 2.4l-0.9 2l-1.3 1.4l-1.6 .7zM160 470.9l-1.2 .3l-1.2 -.1l-1.2 -.4l-1.2 -.8l-0.9 -1.1l-0.6 -1.2l-0.7 -2.8l.3 -2.8l1.1 -4.4l-0.1 -7.2l.2 -2.4l.6 -1.6l2.1 -3.2l.8 -2.2l.4 -.5l.4 .5l.8 2.2l1.9 3.2l.4 1.2l.3 1.6l0 4l.6 5.2l1 5.2l-0.1 2l-0.7 2.4l-1.4 1.9l-1.6 1.0zM158.4 472l-1.2 -.1l-1.2 -.5l-1.7 -1.4l-0.8 -1.2l-0.6 -1.2l-0.4 -1.6l-0.1 -1.6l.2 -2.4l1 -4.4l-0.1 -6.8l.2 -2.8l.5 -1.6l1.4 -3.2l.5 -4.4l.5 -2l.7 -1.2l.7 -.5l.4 -.1l.8 .3l.4 .4l.7 1.5l.4 1.6l.4 4.4l1.6 4.4l.2 1.6l.1 4.4l.6 5.5l.6 2.9l.2 2.4l-0.1 1.6l-0.4 1.6l-0.6 1.2l-0.8 1.2l-1.7 1.4l-1.2 .5l-1.2 .1z" fill="none" stroke="#111" stroke-width="0.42"/>
<path d="M159.6 438.9l-1.6 .2l-1.6 -.9l-1.3 -2.2l-0.7 -2.8l.1 -3.2l.9 -2.8l1.4 -1.7l1.6 -.7l1.6 .5l1.1 1.1l1 2l.5 2.4l-0.1 2.8l-0.6 2.4l-1.1 2l-1.2 .9zM159.2 436.6l-1.2 0l-0.9 -.6l-0.8 -1.2l-0.5 -2l.1 -2l.5 -1.8l.8 -1.1l1.2 -.6l.8 .1l1 1l.6 1.2l.4 1.6l0 1.6l-0.4 1.7l-0.8 1.4l-0.8 .7zM158.8 434.6l-0.8 -.1l-0.4 -.3l-0.6 -1.8l.3 -2l.5 -.8l.6 -.3l.8 .3l.3 .4l.5 1.6l-0.3 2l-0.9 1.0z" fill="none" stroke="#222" stroke-width="0.5"/>
<path d="M159.2 471.7l-1.6 0l-1.2 -.6l-1.2 -1.1l-1.3 -2l-0.8 -2.4l-0.5 -2.4l-0.4 -6.8l0 -27.6l.4 -6.8l.8 -3.6l1.3 -2.8l1.7 -1.7l.8 -.4l1.2 -.3l1.6 .4l1.2 .9l1.1 1.5l.8 1.6l1.1 4.4l.4 6.4l0 27.6l-0.3 6.8l-0.8 3.6l-1 2.4l-1.6 2l-1.7 .9z" fill="none" stroke="#222" stroke-width="0.5"/>
<path d="M270.4 462.9l-0.4 -.1l-0.4 -.4l-0.2 -1.2l.2 -1.3l.4 -.6l.4 -.1l.6 .8l.2 1.2l-0.3 1.2l-0.5 .5zM270.4 463.6l-0.8 -.3l-0.3 -.5l-0.3 -1.6l.4 -2l.6 -.9l.4 -.1l.4 .2l.4 .7l.4 2.1l-0.4 1.7l-0.4 .5l-0.4 .2zM270.4 464.1l-0.8 -.2l-0.4 -.5l-0.4 -1l-0.1 -1.2l.1 -1.2l.4 -1.3l.8 -1.3l.4 -.1l.4 .2l.5 .9l.4 1.2l.1 1.6l-0.3 2l-0.7 .8l-0.4 .1zM270.8 464.5l-0.8 0l-0.8 -.5l-0.5 -.8l-0.3 -1.6l0 -1.2l.4 -1.5l.8 -1.9l.8 -.9l.4 .2l.6 1.3l.7 3.2l-0.3 2.4l-0.4 .8l-0.6 .5zM270.4 452l-0.4 -.6l-0.2 -1.4l.2 -1.2l.4 -.3l.4 .7l.1 1.2l-0.1 1l-0.4 .6zM271.2 464.4l-0.4 .3l-0.8 .1l-0.8 -.5l-0.6 -1.1l-0.3 -1.6l.1 -1.6l.4 -1.6l.8 -2l.8 -1.2l.4 .3l.8 1.9l.6 3l-0.1 2.4l-0.5 1.2l-0.4 .4zM270.4 453.5l-0.6 -1.9l-0.2 -1.6l.3 -2l.5 -.3l.4 .7l.4 2l-0.4 2.2l-0.4 .9zM270.8 464.8l-0.8 .1l-0.8 -.5l-0.7 -1.2l-0.3 -1.6l.3 -2.4l1.9 -5.2l1.2 2.9l.7 3.9l-0.3 2.6l-0.4 .8l-0.8 .6zM270.8 465l-1.2 -.1l-0.8 -.8l-0.5 -1.3l-0.2 -1.6l.3 -2l1.4 -4.8l0 -1.2l-0.4 -2.8l.1 -2l.5 -1.4l.4 -.1l.4 .6l.5 1.7l.1 1.6l-0.4 3.2l1 4l.4 3l-0.1 1.4l-0.3 1.2l-0.4 .8l-0.8 .6zM270.4 465.2l-0.8 -.1l-0.8 -.7l-0.6 -1.6l-0.2 -1.6l.3 -2l1.2 -4.8l-0.3 -4l.1 -2l.7 -2.5l.4 -.2l.8 2.1l.3 1.8l-0.2 4.4l1 4.8l.2 2.4l-0.1 1.6l-0.4 1.2l-0.8 .9l-0.8 .3zM270.8 465.2l-1.2 0l-0.8 -.7l-0.6 -1.3l-0.3 -2l.3 -2l1.2 -4.4l-0.3 -6l.5 -2.6l.8 -2.2l-0.4 -1.1l-0.1 -1.3l.1 -.8l.4 -.1l.2 .9l-0.2 2.8l1.2 5.2l-0.1 4.8l.8 4.4l.3 2.4l-0.2 1.6l-0.3 1.2l-0.5 .7l-0.8 .5zM270.8 465.3l-1.2 0l-0.8 -.7l-0.7 -1.4l-0.2 -2l.1 -1.6l1 -3.6l.3 -1.6l-0.3 -4.8l.7 -5.2l-0.1 -3.2l.4 -1.3l.4 0l.5 1.3l0 3.6l.9 5.2l-0.2 4l.8 4.8l.2 2.4l-0.1 1.6l-0.4 1.2l-0.5 .8l-0.8 .5zM271.2 465.3l-1.2 .2l-1.2 -.7l-0.7 -1.2l-0.3 -2l.1 -2l1.2 -4.8l-0.3 -6l.6 -4.4l0 -3.6l.2 -1.2l.4 -.6l.4 .1l.4 .5l.4 1.6l0 4l.7 4.8l-0.1 4.4l.9 6.4l-0.3 2.8l-0.4 .9l-0.8 .8zM270 434.9l-0.4 -1.3l.4 -1l.4 .2l.1 .8l-0.1 .9l-0.4 .4zM270.4 465.7l-1.2 -.4l-0.8 -.9l-0.5 -1.6l-0.2 -1.6l.2 -1.6l1.1 -4.8l-0.3 -5.2l.6 -5.2l-0.1 -3.6l.4 -1.7l.4 -.6l.4 0l.4 .6l.5 1.7l0 4.4l.7 4.8l-0.1 4.4l.9 6.8l-0.2 2l-0.4 1.2l-0.7 .8l-1.1 .5zM270 435.9l-0.4 -.7l-0.2 -1.6l.2 -1.1l.4 -.4l.5 .3l.3 1.2l-0.4 1.9l-0.4 .4zM270.8 465.7l-1.2 -.1l-1 -.8l-0.6 -1.2l-0.3 -2l.1 -2l.8 -3.2l.3 -2l-0.3 -4.8l.5 -5.2l0 -4l.5 -1.9l.4 -.7l.4 .1l.4 .7l.6 2.2l.1 4.4l.6 4.8l-0.1 4l.8 6.8l0 1.6l-0.4 1.6l-0.8 1.2l-0.8 .5zM271.2 465.6l-1.2 .2l-1.2 -.6l-0.9 -1.6l-0.3 -2l.1 -2l1.1 -4.8l-0.3 -5.2l.5 -5.2l0 -3.6l.8 -3.6l-0.6 -2.8l0 -1.2l.4 -1.1l.4 -.3l.4 .1l.4 .5l.1 .8l-0.5 3.6l.9 2.8l.3 1.6l0 4.4l.6 4.4l-0.1 4.4l.8 6.4l0 1.6l-0.4 1.6l-0.5 .9l-0.8 .7zM271.2 465.7l-1.2 .2l-0.8 -.3l-0.5 -.4l-0.9 -1.6l-0.3 -2l.2 -2l.8 -3.6l.2 -1.6l-0.2 -5.6l.4 -4.4l-0.1 -4l.6 -3.2l-0.4 -4l.4 -1.2l.6 -.5l.4 0l.4 .4l.4 1.3l-0.4 4l.9 3.6l.1 4.8l.5 4.4l-0.1 4.4l.8 6.4l-0.1 1.6l-0.3 1.6l-0.6 1.1l-0.8 .6zM270.8 466l-1.2 -.1l-1.2 -.9l-0.7 -1.4l-0.3 -2l.1 -1.6l.8 -3.6l.3 -2l-0.3 -5.6l.4 -4.4l0 -4l.4 -3.2l-0.3 -4l.4 -1.3l.8 -.7l.8 .3l.5 1.3l-0.3 4l.9 4.4l0 4.4l.5 4.4l-0.1 4.4l.8 6.4l-0.1 2l-0.5 1.6l-0.9 1.2l-0.8 .4zM270.8 466.1l-1.2 0l-1.2 -.9l-0.7 -1.6l-0.3 -2l0 -1.6l.8 -3.6l.2 -2l-0.2 -5.6l.4 -4.4l0 -4l.3 -3.2l-0.2 -4l.4 -1.6l.9 -.6l.8 .2l.3 .4l.4 1.2l-0.2 4.4l.7 4l0 4.4l.5 4.4l-0.1 4.4l.7 6.8l0 1.6l-0.5 1.6l-0.8 1.2l-1 .5zM271.2 466.2l-0.8 .1l-0.8 -.1l-1.2 -.8l-0.8 -1.6l-0.3 -2.2l.1 -2l.7 -3.2l.2 -2l-0.2 -5.2l.3 -4.8l0 -4l.3 -3.2l-0.2 -4l.4 -1.6l.3 -.5l.8 -.4l.7 .1l.5 .4l.5 1.6l-0.2 4l.7 4.4l0 4.4l.4 4.4l0 4.4l.6 6.4l0 2l-0.4 1.6l-0.8 1.2l-0.8 .6zM270.8 466.5l-0.8 0l-0.8 -.3l-1.1 -1l-0.7 -1.6l-0.3 -2l.2 -2l.6 -3.2l.2 -2l-0.2 -5.2l.3 -4.8l0 -4l.3 -2.8l-0.2 -4.4l.5 -1.9l.4 -.5l.8 -.4l.8 .2l.4 .3l.5 .7l.1 .8l-0.1 4.4l.6 4.4l.1 4.4l.4 4.4l-0.1 4l.7 7.2l-0.2 2l-0.5 1.6l-0.7 1l-1.2 .7zM271.2 466.5l-0.8 .1l-0.8 -.1l-0.8 -.4l-0.6 -.5l-0.8 -1.6l-0.4 -2.4l.1 -1.6l.7 -3.6l.2 -2l-0.2 -5.2l.5 -11.6l-0.2 -4.4l.5 -2l.6 -.7l.8 -.3l.8 .1l.6 .5l.6 1.6l-0.1 4.4l.6 4.4l0 4.4l.4 4.4l-0.1 4l.7 6.8l-0.1 2l-0.4 1.6l-0.6 1.2l-1.2 .9zM270.4 466.8l-1.2 -.2l-1.2 -1l-0.8 -1.6l-0.3 -2.4l.1 -2l.8 -4.8l-0.2 -5.6l.5 -11.6l-0.2 -4.8l.3 -1.2l.4 -.8l.6 -.6l.8 -.3l.8 .1l.8 .6l.4 .7l.2 1.1l-0.1 4.4l.6 4.4l0 4.4l.4 4.4l-0.1 4l.6 7.2l-0.2 2.4l-0.6 1.6l-1.1 1.2l-1.3 .4zM271.2 466.9l-0.8 .1l-0.8 -.1l-0.8 -.3l-0.8 -.7l-0.9 -1.9l-0.3 -2.4l.1 -2l.8 -4.8l-0.2 -5.6l.4 -11.6l-0.2 -4.8l.3 -1.2l.4 -.9l.8 -.8l.8 -.2l.8 .1l.9 .6l.5 .8l.2 1.2l-0.1 4.4l.5 4.4l.1 4.4l.3 4.8l0 3.6l.5 6.8l-0.1 2.4l-0.4 1.6l-0.8 1.3l-1.2 .8zM270.4 467.2l-0.8 -.1l-0.8 -.3l-1.2 -1.2l-0.7 -1.6l-0.3 -2.4l.1 -1.6l.8 -5.2l-0.2 -5.6l.3 -11.6l-0.1 -4.8l.3 -1.2l.5 -1.2l.9 -.7l.8 -.3l.8 .1l.9 .5l.5 .8l.4 1.2l0 4.8l.4 4.4l.1 4.8l.3 4.4l0 3.6l.5 7.2l-0.2 2.4l-0.7 2l-1 1.1l-0.8 .4l-0.8 .1zM271.2 467.3l-1.6 .1l-0.8 -.3l-0.9 -.7l-0.9 -1.6l-0.6 -2.8l.1 -2l.8 -5.2l-0.2 -5.6l.3 -11.6l-0.1 -4.8l.2 -1.2l.5 -1.2l.8 -.8l1.2 -.5l1.2 .2l.8 .6l.5 .9l.4 1.2l-0.1 4.8l.5 4.4l0 4.8l.3 4.4l0 3.6l.5 6.8l-0.1 2.4l-0.5 2l-1.1 1.5l-1.2 .6zM271.2 467.6l-1.2 .2l-0.8 -.2l-0.8 -.4l-0.8 -.8l-1 -2l-0.4 -2.4l.1 -2l.7 -5.2l-0.1 -6l.1 -4.8l0 -11.6l.5 -1.6l.5 -.9l.8 -.7l1.2 -.4l1.2 .2l.9 .6l.7 1.1l.3 1.3l0 4.8l.4 4.4l.1 4.8l.3 4.4l-0.1 3.6l.5 6.8l-0.1 2.4l-0.5 2l-1.1 1.6l-1.4 .8zM270.4 468l-1.6 -.3l-0.8 -.5l-0.8 -.9l-0.6 -1.1l-0.3 -1.2l-0.3 -2.4l.8 -6.8l-0.2 -6l.2 -4.8l0 -11.6l.4 -1.6l.7 -1.2l.9 -.7l1.2 -.4l1.2 .2l.9 .5l.9 1.2l.3 1.2l.1 5.2l.4 4.4l0 4.8l.3 4.4l-0.1 3.6l.5 7.6l-0.2 2.4l-0.7 2l-1.2 1.3l-0.8 .5l-1.2 .2zM270.8 468.4l-0.8 0l-1.2 -.3l-0.8 -.4l-0.9 -.9l-1 -2l-0.4 -2.8l.1 -2l.6 -5.2l-0.1 -6l.2 -4.8l-0.1 -11.6l.5 -2l.7 -1.1l1.2 -.9l1.2 -.3l1.2 .1l1.2 .7l.8 1.1l.5 1.6l0 5.2l.4 4.4l.3 12.8l.4 7.2l-0.1 2.8l-0.7 2l-1.3 1.6l-1.1 .6l-0.8 .2zM271.2 468.8l-1.2 .1l-1.2 -.3l-1.1 -.6l-0.8 -.8l-1.1 -2l-0.5 -3.2l.1 -2l.6 -5.2l-0.1 -6.4l.1 -16.4l.6 -2l.8 -1.2l1.4 -.9l1.2 -.3l1.6 .3l1.2 .8l.9 1.3l.5 1.6l0 5.2l.3 4.4l.3 12.8l.4 7.2l-0.2 2.8l-0.8 2.4l-1.4 1.7l-1.6 .7zM270.4 469.6l-1.2 -.1l-1.2 -.5l-1.2 -.9l-0.7 -.9l-1 -2.4l-0.3 -3.2l.7 -6.8l-0.2 -6.4l.1 -16.4l.5 -2l1 -1.6l1.5 -1.1l1.6 -.3l2 .3l1.2 .8l1.1 1.5l.4 1.6l.1 5.6l.3 4.4l.3 12.8l.4 8l-0.3 2.8l-1 2.4l-0.9 1.1l-0.8 .6l-1.2 .5l-1.2 .2zM272 470.5l-1.2 .2l-1.6 -.1l-1.2 -.4l-1.6 -1.1l-1 -1.1l-0.8 -1.6l-0.5 -1.6l-0.2 -2l0 -2.4l.6 -5.6l-0.2 -20.8l.2 -2.8l.9 -2.4l1 -1.3l2 -1.3l1.6 -.3l2 .3l1.2 .6l.9 .8l1.3 2l.4 2.4l0 4.4l.3 5.2l.2 12.4l.4 7.6l-0.1 2.4l-0.4 2l-1 2l-1.6 1.6l-1.6 .9z" fill="none" stroke="#111" stroke-width="0.42"/>
<path d="M270.8 434l-1.2 0l-0.8 -.3l-1.6 -1.3l-1.4 -2.4l-0.5 -2.8l.2 -2.8l1 -2.8l1.5 -1.8l.8 -.5l1.2 -.3l1.2 .1l.8 .3l1.6 1.4l1.2 2.4l.5 2.8l-0.2 2.8l-0.9 2.4l-1.4 1.8l-1.2 .8l-0.8 .2zM271.2 432l-1.6 .1l-1.2 -.7l-1.2 -1.6l-0.6 -2.2l0 -2.4l.6 -2l1.2 -1.6l1.6 -.8l1.2 .2l1.4 1l1 1.6l.4 2l0 2l-0.5 2l-1.1 1.6l-1.2 .8zM271.2 430.5l-1.2 .2l-1.2 -.6l-0.8 -1.1l-0.4 -1.4l-0.1 -2l.5 -1.6l.8 -1.1l1.2 -.6l1.2 .2l.8 .6l.8 1.3l.3 1.2l0 1.6l-0.3 1.3l-0.8 1.4l-0.8 .6zM270.8 429.2l-0.8 .1l-0.8 -.5l-0.7 -1.6l0 -1.2l.3 -1.2l.4 -.6l.8 -.5l1.2 .3l.6 .8l.3 1.2l-0.2 2l-0.5 .8l-0.6 .4z" fill="none" stroke="#222" stroke-width="0.5"/>
<path d="M384.8 466.2l-0.4 .2l-0.6 -.4l-0.1 -.8l.3 -.5l.4 -.1l.4 .1l.3 .5l0 .4l-0.3 .6zM384.8 466.7l-0.8 0l-0.6 -.7l.1 -1.2l.5 -.5l.8 0l.4 .3l.2 .6l0 .8l-0.6 .7zM384.8 467l-0.4 0l-0.7 -.2l-0.5 -.8l.1 -1.2l.7 -.8l.8 0l.5 .4l.3 .6l0 1l-0.4 .7l-0.4 .3zM384.8 467.4l-0.8 0l-0.4 -.2l-0.4 -.4l-0.3 -.8l-0.1 -.8l.3 -.8l.9 -.8l.8 0l.4 .2l.5 .6l.3 .8l-0.2 1.2l-0.6 .8l-0.4 .2zM384.4 467.6l-0.8 -.2l-0.4 -.4l-0.4 -.6l-0.1 -.8l.1 -.8l.4 -.8l.4 -.4l.8 -.2l.8 .2l.4 .4l.4 .8l.1 .8l-0.1 .8l-0.4 .6l-0.4 .4l-0.8 .2zM385.2 467.7l-0.8 .2l-0.8 -.2l-0.6 -.5l-0.5 -.8l-0.1 -1.2l.2 -.8l.6 -.9l.8 -.4l.8 0l.8 .4l.7 1.3l0 1.6l-0.5 .8l-0.6 .5zM385.2 468l-0.8 .2l-0.8 -.2l-0.8 -.6l-0.5 -1l-0.1 -1.2l.4 -1.2l.6 -.8l.8 -.4l.8 0l.8 .4l.6 .8l.3 .8l.1 1.2l-0.3 .8l-0.5 .8l-0.6 .4zM384.8 468.4l-1.2 -.1l-0.8 -.6l-0.6 -.9l-0.2 -1.2l.1 -1.2l.4 -.8l.7 -.7l1.2 -.4l.8 .2l.8 .5l.5 .8l.3 1.2l-0.1 1.2l-0.3 .8l-0.8 .9l-0.8 .3zM385.6 468.4l-1.2 .4l-1.2 -.4l-0.9 -.8l-0.5 -1.2l0 -1.6l.4 -1.2l.6 -.8l1.2 -.6l.8 0l.8 .3l.8 .8l.5 1.1l.2 1.2l-0.2 1.2l-0.5 .9l-0.8 .7zM385.2 469l-1.2 .1l-1.2 -.6l-1 -1.3l-0.3 -1.2l.1 -1.6l.5 -1.2l.7 -.8l1.2 -.5l1.2 .1l.8 .4l.9 1.2l.4 1.2l0 1.2l-0.3 1.2l-0.9 1.2l-0.9 .6zM385.2 469.3l-1.2 .1l-1.2 -.5l-0.9 -.9l-0.7 -1.6l0 -1.6l.5 -1.6l1.1 -1.2l1.2 -.5l1.2 .1l1.2 .7l.9 1.3l.3 1.2l0 1.6l-0.4 1.2l-0.8 1l-1.2 .7zM385.6 469.7l-1.6 .2l-1.2 -.4l-0.8 -.7l-0.6 -.8l-0.6 -1.6l.1 -2l.6 -1.6l1.3 -1.4l1.2 -.5l1.2 .1l1.2 .7l.9 1.1l.6 1.6l.1 1.6l-0.4 1.6l-0.8 1.2l-1.2 .9zM384.8 453.6l-0.4 .3l-0.4 -.3l-0.4 -1.6l.1 -2l.3 -.8l.4 -.3l.4 .3l.4 1.6l0 1.6l-0.4 1.2zM385.6 470l-1.6 .2l-1.6 -.6l-1.1 -1.2l-0.8 -2l.1 -2l.5 -1.6l1.3 -1.5l1.6 -.8l1.2 .1l1.6 1l.9 1.2l.5 1.6l.1 2l-0.5 1.6l-1 1.3l-1.2 .7zM384.8 455.3l-0.4 .2l-0.4 -.2l-0.4 -.6l-0.4 -1.4l-0.1 -1.3l.2 -3.2l.5 -1.2l.2 -.4l.4 -.2l.4 .2l.4 .7l.5 2.9l-0.1 2.5l-0.4 1.4l-0.4 .6zM384.8 470.4l-1.6 -.2l-1.5 -1l-1 -1.6l-0.4 -2l.3 -2l.8 -1.6l1.4 -1.3l.8 -.4l.8 -.2l.8 .2l.8 .4l1.2 1.1l1 1.8l.3 1.6l-0.2 2l-0.8 1.6l-1.1 1l-1.6 .6zM384.4 456.9l-0.8 -.6l-0.5 -1.1l-0.4 -1.6l-0.1 -2l.1 -2.4l.5 -2.4l.4 -1.1l.4 -.6l.4 -.2l.4 .2l.4 .6l.4 1.1l.5 2.4l.1 2.4l-0.1 2l-0.4 1.6l-0.5 1.1l-0.8 .6zM385.6 470.5l-0.8 .2l-1.2 -.1l-1.6 -.8l-1.2 -1.4l-0.6 -2l0 -2l.7 -2l1.5 -1.7l1.6 -1l1.2 .1l1.6 1.2l1.1 1.4l.7 2l0 2l-0.4 1.6l-1.2 1.6l-1.4 .9zM385.2 470.9l-0.8 0l-1.2 -.2l-1.6 -.9l-0.8 -1l-0.6 -1.2l-0.3 -2l.3 -2l.7 -1.6l1.1 -1.3l2 -1.9l0 -.4l-0.9 -1.6l-0.6 -2l-0.3 -4l.2 -2.8l.5 -2.4l.7 -2.1l.4 -.9l.4 -.3l.4 .3l.4 .9l.7 2.1l.5 2.4l.2 2.8l-0.3 4l-0.6 2l-0.9 1.6l0 .4l2 1.9l1.1 1.3l.7 1.6l.3 1.6l-0.2 2l-0.7 1.6l-1.2 1.3l-1.6 .8zM386 470.8l-0.8 .3l-1.2 .1l-0.8 -.2l-1.2 -.6l-1.4 -1.6l-0.7 -1.6l-0.2 -1.2l.1 -1.6l.4 -1.6l.7 -1.2l1.7 -2l.4 -.8l-1 -4.8l-0.2 -4l.3 -2.8l1.2 -6.4l.4 -3.6l.3 -1.5l.4 -.5l.4 .5l.3 1.5l.4 3.6l1.2 6.4l.3 2.8l-0.2 4l-1 4.8l.4 .8l1.4 1.6l.8 1.2l.5 1.6l.2 1.2l-0.1 1.6l-0.8 2l-1 1.3l-1.2 .7zM385.6 471.3l-1.2 .2l-1.2 -.2l-1.2 -.6l-0.8 -.6l-0.7 -.9l-0.6 -1.2l-0.5 -2.4l.3 -2l.4 -1.2l2 -2.8l.3 -.8l-0.9 -5.2l0 -4.4l.9 -7.2l.6 -7.6l.6 -2.5l.4 -.6l.4 -.3l.4 .3l.4 .6l.6 2.5l.6 7.6l.9 7.2l0 4.4l-0.9 5.2l.3 .8l2 2.8l.4 1.2l.3 1.6l-0.4 2.4l-0.7 1.6l-1.1 1.2l-1.6 .9zM384.4 472l-1.2 -.1l-0.8 -.3l-0.8 -.5l-1.1 -1.1l-1.1 -2l-0.4 -2.4l.1 -1.2l.4 -1.6l1.8 -3.2l.2 -.8l-0.6 -4.8l-0.1 -3.2l.7 -8.8l.4 -8l.3 -2.8l.6 -2.4l.8 -1.7l.8 -.5l.8 .5l.8 1.7l.6 2.4l.3 2.8l.4 8l.7 8.8l-0.1 3.2l-0.6 4.8l.2 .8l1.8 3.2l.4 1.6l.1 1.2l-0.4 2.4l-1.1 2l-1.1 1.1l-0.8 .5l-0.8 .3l-1.2 .1zM386 472.4l-1.2 .3l-1.2 -.1l-1.2 -.3l-1.2 -.8l-1.1 -1.1l-0.8 -1.2l-0.6 -1.6l-0.2 -1.6l0 -1.6l.4 -1.6l1.5 -3.1l.2 -.9l-0.5 -5.2l0 -3.6l.7 -16l.5 -4l.6 -3.2l.8 -2.4l.9 -1.5l.8 -.4l.8 .4l.9 1.5l.8 2.4l.6 3.2l.5 4l.7 16l0 3.6l-0.5 5.2l.2 .9l1.4 2.7l.4 1.6l.1 1.2l-0.2 2.4l-1.1 2.4l-1.4 1.5l-1.6 .9z" fill="none" stroke="#111" stroke-width="0.42"/>
<path d="M384.8 435.2l-1.2 0l-0.8 -.5l-0.8 -.7l-1 -1.6l-1.3 -4l-0.5 -5.2l.3 -5.2l.7 -3.6l.7 -2.4l.6 -1.6l.9 -1.6l.8 -.8l1.2 -.3l.8 .2l1 .9l.7 1.2l.9 2l1.2 5.2l.4 5.2l-0.3 4.8l-1 4l-1.5 2.8l-1 .9l-0.8 .3zM384.8 430.5l-1.2 -.1l-0.8 -.7l-0.6 -.9l-0.8 -2.8l-0.4 -3.2l.3 -4.4l.7 -3.6l1.2 -2.7l.4 -.4l.8 -.2l.8 .4l.4 .5l.9 2l.8 3.6l.3 3.6l-0.2 3.2l-0.6 2.8l-0.8 1.8l-1.2 1.1zM384.8 426.8l-0.8 .1l-0.8 -.8l-0.6 -1.7l-0.2 -2.4l.1 -2.8l.4 -2.4l.7 -1.7l.8 -.4l.8 .8l.4 1l.6 4.3l-0.2 3.6l-0.4 1.3l-0.8 1.1z" fill="none" stroke="#222" stroke-width="0.5"/>
<path d="M385.6 470.9l-1.6 .2l-1.2 -.3l-1.2 -.8l-1.4 -1.6l-0.9 -2l-0.6 -2.4l-0.5 -6l0 -36.4l.3 -6.4l.8 -3.6l1.2 -2.4l1.9 -1.8l2 -.5l1.2 .2l1.2 .7l1.2 1.3l1 1.7l1 3.6l.4 5.2l0 35.6l-0.2 6.8l-0.6 3.2l-1 2.8l-1.4 1.9l-1.6 1.0z" fill="none" stroke="#222" stroke-width="0.5"/>
<path d="M496.4 466.3l-0.4 .1l-0.4 -.3l-0.2 -.5l.2 -.7l.4 -.3l.4 .1l.4 .5l0 .4l-0.4 .7zM496.4 466.7l-0.8 -.1l-0.5 -1l.2 -.8l.3 -.4l.4 -.1l.4 0l.4 .3l.3 .6l-0.1 .8l-0.6 .7zM496.4 467l-0.4 .1l-0.6 -.3l-0.3 -.4l-0.2 -.8l.3 -1.2l.8 -.5l.8 .3l.5 1l-0.2 1.2l-0.7 .6zM496.4 467.3l-0.8 0l-0.4 -.3l-0.4 -.6l-0.2 -.8l.3 -1.2l.3 -.4l.8 -.4l1 .4l.6 1.2l-0.2 1.2l-0.6 .7l-0.4 .2zM496.8 467.4l-0.4 .2l-0.8 -.1l-0.5 -.3l-0.5 -.8l-0.2 -.8l.1 -.8l.4 -.8l.7 -.5l.8 -.1l.4 .2l.5 .4l.4 .8l.1 .8l-0.2 .8l-0.8 1.0zM496.8 467.7l-0.8 .2l-0.7 -.3l-0.5 -.4l-0.4 -.8l-0.2 -1.2l.2 -.8l.6 -.8l.6 -.4l1.2 .1l.7 .7l.4 .8l-0.1 1.6l-0.4 .8l-0.6 .5zM496.4 468.1l-0.8 0l-0.8 -.5l-0.5 -.8l-0.3 -1.2l.2 -1.2l.5 -.8l.5 -.5l.8 -.2l.8 .1l.8 .6l.4 .8l.2 .8l-0.1 1.2l-0.4 .8l-0.5 .5l-0.8 .4zM497.2 468l-0.8 .3l-1.2 -.2l-0.8 -.7l-0.5 -1l-0.1 -1.2l.4 -1.2l.6 -.9l.8 -.4l.8 -.1l.8 .4l.6 .6l.4 .8l.2 .8l-0.1 1.2l-0.4 .8l-0.7 .8zM496.8 468.5l-1.2 .1l-0.8 -.4l-0.8 -1l-0.4 -1.2l.1 -1.2l.4 -1.2l.7 -.8l1.2 -.5l.8 .2l.8 .5l.5 .6l.4 1.2l.1 1.2l-0.4 1.2l-0.6 .8l-0.8 .5zM496.8 468.8l-1.2 .1l-0.8 -.4l-0.8 -.9l-0.5 -1.2l-0.1 -1.6l.4 -1.2l1 -1.1l.8 -.4l1.2 .1l.8 .4l.8 1l.4 1.2l0 1.2l-0.3 1.2l-0.9 1.2l-0.8 .4zM496.4 469.2l-1.2 -.1l-0.9 -.7l-0.8 -1.2l-0.4 -1.6l.3 -1.6l.6 -1.1l.8 -.8l1.2 -.4l1.2 .3l.8 .6l.6 1l.4 1.6l-0.1 1.6l-0.6 1.2l-0.8 .8l-1.1 .4zM497.2 469.4l-0.8 .2l-0.8 -.1l-1.2 -.5l-0.9 -1l-0.6 -1.6l0 -1.6l.5 -1.6l1 -1.2l1.2 -.6l1.2 .1l1 .5l1 1.2l.4 1.2l.1 1.2l-0.2 1.6l-0.7 1.2l-1.2 1.0zM496 470l-1.2 -.3l-1.2 -1l-0.8 -1.5l-0.3 -1.6l.2 -1.6l.8 -1.6l1.3 -1.2l1.2 -.3l.8 .1l.8 .4l1.1 1l.8 1.6l.2 1.6l-0.3 1.6l-0.9 1.6l-1.3 1l-1.2 .2zM496 453l-0.3 -.6l-0.1 -.8l0 -.8l.4 -.7l.4 .2l.2 1.3l-0.2 1.2l-0.4 .2zM496.4 470.4l-1.6 -.2l-1.3 -1l-0.9 -1.6l-0.4 -2l.3 -2l.8 -1.6l1.1 -1l.8 -.4l.8 -.2l.8 .1l.8 .4l1.2 1l.9 1.7l.3 1.6l-0.2 2l-0.8 1.6l-1 1l-1.6 .6zM496.4 454.6l-0.4 .1l-0.7 -.7l-0.4 -2l.3 -2.8l.4 -.8l.4 -.4l.4 .1l.4 .6l.4 1.3l.1 1.2l-0.1 2l-0.4 1l-0.4 .4zM497.2 470.5l-1.6 .2l-1.6 -.7l-1.3 -1.6l-0.6 -2l0 -2l.7 -2l1.2 -1.4l1.6 -.8l1.2 0l1.6 1l1 1.2l.7 2l.1 2l-0.5 1.6l-1.1 1.6l-1.4 .9zM496.4 455.9l-0.8 -.2l-0.5 -.5l-0.4 -1.2l-0.3 -2l.1 -2l.3 -1.7l.4 -1.2l.4 -.7l.4 -.4l.4 .2l.8 1.4l.4 1.6l.2 2l-0.3 2.8l-0.4 1.2l-0.7 .7zM496.8 470.9l-1.6 -.1l-1.6 -.8l-0.7 -.8l-0.7 -1.2l-0.4 -2l.1 -2l.9 -2l.8 -1l.8 -.7l1.6 -.6l.8 .2l.8 .3l1.2 1l1.1 1.6l.5 2l-0.1 2l-0.8 2l-1.1 1.3l-1.6 .8zM496.4 457l-0.8 -.1l-0.8 -1l-0.7 -1.9l-0.2 -2l.1 -2l.4 -2.4l1.2 -4.6l.4 -.6l.4 .2l.4 1.1l.8 3l.5 2.5l.2 2l-0.1 2l-0.3 1.6l-0.7 1.5l-0.8 .7zM496.4 471.2l-1.2 -.1l-0.8 -.3l-1.5 -1.2l-1.1 -2l-0.3 -2l.3 -2l.9 -2l1.7 -1.7l.8 -.5l.8 -.2l.8 .2l.8 .4l1.6 1.4l1.1 2l.4 2l-0.2 2l-0.9 2l-0.8 .9l-0.8 .6l-1.6 .5zM497.6 471.3l-0.8 .2l-1.2 0l-0.8 -.1l-1.2 -.7l-0.8 -.8l-0.7 -1.1l-0.6 -1.6l-0.2 -1.2l.1 -2l.8 -2l.8 -1.2l2.1 -2l.1 -.4l-1.3 -3.6l-0.3 -2l-0.1 -2l1.3 -9.6l.5 -1.6l.3 -.6l.4 -.3l.4 .1l.4 .5l.4 1.1l1.5 10.4l-0.1 2l-0.3 2l-1.4 3.6l2.9 3.2l.8 1.6l.3 2l-0.2 2l-0.6 1.6l-1.2 1.6l-1.3 .9zM496.8 472.1l-1.2 0l-1.2 -.3l-0.8 -.5l-1 -.9l-1.2 -2l-0.4 -1.2l-0.1 -1.6l.1 -1.6l.5 -1.6l.6 -1.2l1.6 -2l.3 -.8l-1 -4.8l0 -4.4l1.1 -10.4l.7 -2l.4 -.6l.8 -.5l.8 .3l.8 1.2l.6 2l.2 2l.9 10.4l-0.2 2.8l-0.9 4l.3 .8l2.1 2.8l.4 1.2l.3 2l-0.2 2.4l-0.9 2l-1.4 1.6l-1.2 .6l-0.8 .3zM496 472.8l-1.2 -.2l-0.8 -.3l-0.8 -.5l-1.1 -1l-1.2 -2l-0.4 -1.2l-0.2 -2l.2 -2l.5 -1.6l1.7 -2.8l.3 -.8l-0.7 -4.8l-0.1 -2.4l.9 -12.8l.6 -2.4l.6 -1.6l.9 -1.1l.8 -.4l.8 .2l1.1 1.3l.7 1.6l.4 2l.4 2.8l.6 10.4l-0.1 2.8l-0.7 4.4l2.2 4l.4 1.6l.1 1.6l-0.5 2.8l-0.5 1.2l-0.8 1.2l-1.7 1.4l-1.2 .5l-1.2 .1z" fill="none" stroke="#111" stroke-width="0.42"/>
<path d="M496.8 436l-0.8 .2l-0.8 -.2l-1.4 -1.2l-1.1 -2.4l-0.5 -2.8l.3 -3.2l.8 -2.4l1.1 -1.5l.8 -.5l.8 -.2l1.2 .4l1.3 1.4l.8 2l.5 2.8l-0.1 2.4l-0.6 2.4l-1.1 1.9l-1.2 .9zM496.4 433.7l-1.2 -.2l-0.8 -.9l-0.6 -1.4l-0.3 -2l.2 -2l.6 -1.6l.9 -1.1l.8 -.2l.8 .2l.9 1.1l.6 1.6l.2 1.6l-0.1 1.6l-0.5 1.6l-0.7 1.1l-0.8 .6zM496 431.7l-0.8 -.5l-0.4 -.8l-0.2 -1.2l.4 -2l.6 -.8l.4 -.1l.4 .1l.6 .8l.4 2l-0.2 1.2l-0.4 .8l-0.8 .5z" fill="none" stroke="#222" stroke-width="0.5"/>
<path d="M497.2 466.9l-1.2 .2l-1.2 -.2l-1.2 -.9l-1.2 -1.6l-0.6 -1.6l-0.7 -2.8l-0.4 -5.6l-0.1 -28.4l.4 -6.4l.7 -3.2l1.1 -2.4l1.6 -1.6l1.6 -.5l1.2 .2l.8 .5l.9 1l1 1.6l1.1 4l.3 5.2l.1 28l-0.3 6l-0.5 3.2l-0.8 2.4l-1 1.6l-1.6 1.3z" fill="none" stroke="#222" stroke-width="0.5"/>
<path d="M609.6 463.8l-0.4 .1l-0.4 -.3l-0.3 -.8l.1 -1.2l.6 -1l.4 0l.2 .2l.4 1.2l-0.1 1.2l-0.5 .6zM609.6 464.5l-0.6 -.1l-0.5 -.4l-0.3 -1.6l.1 -1.2l.5 -1.1l.4 -.5l.4 -.1l.4 .4l.3 .9l.2 1.6l-0.2 1.2l-0.7 .9zM609.6 464.9l-0.8 -.1l-0.4 -.3l-0.4 -.9l-0.1 -1.2l.5 -2.4l.8 -1.5l.4 -.1l.4 .4l.4 1l.4 2.6l-0.3 1.6l-0.5 .7l-0.4 .2zM609.6 465.3l-0.8 -.1l-0.5 -.4l-0.6 -1.2l-0.1 -1.2l.4 -2l.8 -2.4l.4 -.9l.4 -.1l.4 .5l.7 2.1l.4 2.8l-0.5 2l-0.6 .7l-0.4 .2zM609.2 465.6l-0.8 -.4l-0.4 -.4l-0.4 -1.2l-0.1 -1.2l.2 -1.6l1.1 -4l.4 -1.2l.4 0l.4 .8l.8 2.8l.4 3.2l-0.1 1.2l-0.5 1.2l-0.6 .6l-0.8 .2zM609.2 451.5l-0.4 -3.1l.4 -1.7l.4 .6l.1 1.5l-0.1 1.8l-0.4 .9zM609.6 465.7l-0.8 -.1l-0.8 -.7l-0.4 -.9l-0.2 -1.2l.2 -1.9l1.6 -6.5l.4 .2l.8 2.5l.9 4.9l-0.1 1.2l-0.3 1.2l-0.5 .8l-0.8 .5zM610 465.6l-0.8 .2l-1.1 -.6l-0.5 -1l-0.2 -1.4l.1 -1.6l1 -4l.5 -3.2l-0.3 -5.6l.1 -1.6l.4 -.7l.4 .3l.2 1.6l-0.1 6l1.1 4.5l.5 3.5l0 1.2l-0.3 1.2l-0.5 .8l-0.5 .4zM610 465.7l-0.4 .2l-0.8 -.1l-0.8 -.6l-0.5 -1.2l-0.2 -1.2l.1 -1.6l.8 -3.2l.4 -2.8l.1 -2.4l-0.3 -4.8l.4 -2l.4 -.7l.4 .2l.4 1.6l0 6.9l1.2 6l.2 2l0 1.2l-0.3 1.2l-0.5 .8l-0.6 .5zM609.6 466l-0.8 0l-0.8 -.6l-0.5 -1l-0.3 -1.6l.1 -1.6l.9 -4l.2 -2.4l-0.1 -7.6l.5 -2l.4 -.5l.4 .1l.5 1.6l.1 7.6l1.3 8l-0.1 1.6l-0.4 1.2l-0.6 .8l-0.8 .4zM610 466l-1.2 .1l-0.8 -.6l-0.6 -1.1l-0.3 -1.6l.1 -1.6l.7 -3.2l.3 -2.4l0 -8.8l.3 -1.6l.3 -.7l.4 -.4l.4 .1l.4 .6l.3 1.2l.1 8.4l1.2 7.6l-0.1 1.2l-0.3 1.4l-0.4 .7l-0.8 .7zM610 466.2l-1.2 0l-0.8 -.5l-0.7 -1.3l-0.3 -1.6l1.1 -7.2l-0.1 -8.8l.4 -2l.4 -.8l.4 -.4l.4 0l.4 .6l.4 1.4l.2 8.4l1.1 8l-0.1 1.6l-0.4 1.2l-0.5 .8l-0.7 .6zM609.2 434.6l-0.3 -1l.3 -.5l.4 .9l-0.4 .6zM609.6 466.4l-1.2 -.2l-0.7 -.6l-0.6 -1.2l-0.2 -1.6l1 -6.8l-0.1 -7.6l.1 -2l.5 -2.3l.8 -1.1l.4 0l.4 .5l.6 2.1l.2 8.4l1 8l-0.1 1.6l-0.5 1.5l-0.8 1l-0.8 .3zM609.6 435.4l-0.4 .1l-0.4 -.7l-0.2 -.8l.2 -1.2l.4 -.2l.4 .2l.3 .8l-0.3 1.8zM610 466.4l-1.2 .1l-0.8 -.5l-0.8 -1.2l-0.4 -2l1 -6.8l-0.1 -7.6l.1 -2l.6 -2.7l.8 -1.2l.4 .1l.4 .4l.6 2.2l.3 9.2l1 7.6l-0.1 1.6l-0.4 1.2l-0.6 1l-0.8 .6zM609.6 436.4l-0.4 .1l-0.4 -.8l-0.4 -1.7l0 -1.2l.4 -.5l.4 -.1l.4 .2l.3 .4l.2 .8l-0.1 1.6l-0.4 1.2zM610 466.6l-1.2 0l-1 -.6l-0.7 -1.2l-0.3 -2l.9 -6.4l0 -10l.7 -3.1l.8 -1.3l.4 0l.4 .5l.8 2.7l.2 8.8l.9 8l-0.1 1.6l-0.3 1.2l-0.7 1.2l-0.8 .6zM609.2 437.6l-0.8 -2.4l-0.2 -1.6l.2 -1.2l.4 -.4l.4 -.1l.4 .2l.4 .4l.3 1.5l-0.3 2.5l-0.4 1l-0.4 .1zM610.4 466.5l-1.2 .3l-1.2 -.5l-0.8 -1.1l-0.5 -2l.1 -1.6l.8 -5.2l-0.1 -10l.5 -2.4l.8 -2.1l.4 -.6l.4 0l.4 .7l.8 2.8l.3 9.2l.9 7.6l-0.3 2.8l-0.5 1.2l-0.8 .9zM609.2 439.4l-1.2 -5.8l.1 -.8l.3 -.7l.8 -.4l.4 .1l.5 .6l.3 .8l.1 1.2l-0.9 4.6l-0.4 .4zM609.6 466.9l-1.2 -.2l-0.8 -.7l-0.6 -1.2l-0.4 -2l.9 -6.4l0 -10l.5 -2.8l1.2 -3.6l.4 .2l.8 2.3l.5 2.3l.3 9.2l.9 8l-0.1 1.6l-0.5 1.6l-0.7 1l-1.2 .7zM610 466.8l-1.2 .1l-1.2 -.8l-0.7 -1.3l-0.3 -2l.8 -6.4l0 -10l.3 -2l1.1 -4.4l-0.9 -6.8l.4 -1.2l.5 -.4l.4 -.1l.8 .5l.4 .8l.2 .8l-0.1 1.6l-0.6 4.8l1.2 5.2l.2 8.8l.8 8l-0.1 1.6l-0.4 1.6l-0.8 1.1l-0.8 .5zM610 467l-1.2 .1l-1.2 -.8l-0.8 -1.5l-0.3 -2l.8 -6.4l-0.1 -9.6l1.3 -6.8l-0.8 -6.8l.3 -1.2l.4 -.5l.8 -.2l.7 .3l.3 .4l.5 1.6l0 1.6l-0.5 4.8l1 5.2l.2 8.8l.8 8l-0.1 1.6l-0.4 1.6l-0.8 1.2l-0.9 .6zM609.6 467.2l-1.2 -.2l-1.2 -1l-0.6 -1.6l-0.2 -1.6l.8 -6.4l-0.1 -9.6l1.1 -6.8l-0.6 -7.2l.5 -1.2l.5 -.4l.6 -.1l.8 .4l.4 .4l.5 1.7l-0.4 6.4l.8 5.2l.2 8.8l.8 8l-0.1 2l-0.6 1.6l-0.8 1l-1.2 .6zM610 467.3l-1.2 0l-0.8 -.3l-0.6 -.6l-0.8 -1.6l-0.3 -2l.7 -6l0 -10l1 -6.4l-0.6 -7.6l.2 -.8l.4 -.6l.4 -.4l.8 -.1l.8 .3l.4 .4l.4 .8l.3 1.2l-0.4 6.4l.8 5.2l.1 8.8l.8 8l-0.1 2l-0.5 1.6l-1 1.2l-0.8 .5zM610.4 467.3l-0.8 .2l-0.8 0l-1.2 -.7l-1 -1.6l-0.4 -2l0 -1.6l.7 -4.8l-0.1 -10l1 -6.4l-0.6 -7.6l.2 -.8l.5 -.8l.5 -.4l.8 -.2l.8 .3l.6 .7l.4 .8l.2 1.2l-0.3 6.4l.7 5.2l.2 8.8l.7 8l-0.1 1.6l-0.3 1.6l-0.7 1.2l-1 .9zM610 467.6l-1.2 .1l-0.8 -.4l-0.6 -.5l-1 -1.6l-0.3 -2l.7 -6.4l-0.1 -10l.9 -6.4l-0.5 -7.6l.5 -1.6l.8 -.6l.8 -.2l.8 .3l.8 .8l.4 .9l.2 1.2l-0.3 6.4l.7 5.2l.1 8.8l.7 8l-0.1 2l-0.5 1.6l-0.8 1.3l-1.2 .7zM610.4 467.7l-0.8 .2l-0.8 0l-0.8 -.3l-0.8 -.7l-1 -1.7l-0.3 -2l.7 -6.4l-0.1 -10l.8 -6.4l-0.5 -7.6l.5 -1.6l.7 -.7l.8 -.3l1.2 .2l.8 .7l.6 1.3l.2 1.6l-0.2 6l.6 5.2l.1 8.8l.7 8.8l-0.2 1.6l-0.6 1.6l-0.8 1.1l-0.8 .6zM610 468l-0.8 .1l-0.8 -.1l-1.2 -.8l-1 -1.6l-0.4 -2.4l.6 -6.4l-0.1 -10l.8 -6.4l-0.4 -8l.4 -1.2l.5 -.7l.8 -.5l.8 -.1l.8 .2l.8 .7l.7 1.2l.3 1.2l0 2l-0.2 5.2l.5 4.8l.2 8.8l.6 8l-0.2 2.4l-0.5 1.6l-1 1.4l-1.2 .6zM609.2 468.4l-0.8 -.1l-0.8 -.4l-1 -1.1l-0.7 -1.6l-0.3 -2.4l.6 -6l-0.1 -10l.7 -6.4l-0.4 -8l.4 -1.2l.5 -.8l.7 -.5l1.2 -.3l1.2 .4l.8 .8l.6 1.2l.2 1.2l-0.1 7.2l.5 4.8l.1 8.8l.6 8.4l-0.2 2.4l-0.9 2l-1.2 1.2l-0.8 .3l-0.8 .1zM610.4 468.5l-0.8 .2l-1.2 -.1l-1.5 -1l-0.6 -.8l-0.5 -1.2l-0.4 -2.4l.6 -6l-0.1 -9.6l.6 -7.2l-0.3 -8l.3 -1.2l.4 -.8l.7 -.6l1.2 -.5l1.2 .2l1.2 .9l.8 1.6l.3 2l-0.1 6.4l.4 4.8l.1 8.8l.6 6.8l0 2.4l-0.2 1.6l-0.6 1.6l-0.9 1.3l-1.2 .8zM610.4 468.9l-0.8 .2l-1.2 -.2l-0.8 -.3l-0.8 -.6l-0.8 -1.2l-0.5 -1.2l-0.4 -2.4l.6 -6l-0.1 -9.6l.6 -7.2l-0.4 -8l.3 -1.2l.7 -1.2l.8 -.7l1.2 -.4l1.6 .4l1.3 1.1l.7 1.6l.3 2.4l-0.2 5.6l.4 5.2l.1 8.4l.5 7.2l0 2.8l-0.2 1.6l-0.6 1.6l-1.1 1.4l-1.2 .7zM610.8 469.2l-0.8 .3l-1.2 0l-1.2 -.4l-0.8 -.5l-0.8 -1l-0.7 -1.2l-0.3 -1.2l-0.2 -1.6l.5 -6.4l-0.1 -9.6l.6 -6.8l-0.3 -8.8l.3 -1.2l.7 -1.2l1.1 -.8l1.2 -.3l1.6 .3l.8 .5l.7 .7l.8 1.6l.4 2.4l-0.1 6l.3 5.2l.1 8.8l.5 6.8l0 2.8l-0.4 2l-0.6 1.6l-0.9 1.2l-1.2 .8zM610.4 470.1l-0.8 .1l-1.2 -.1l-1.2 -.5l-1 -.8l-1.3 -2l-0.4 -1.2l-0.2 -2l.5 -6l-0.1 -10l.5 -6.8l-0.3 -8.8l.4 -1.6l.8 -1.2l1.1 -.9l1.6 -.4l.8 0l1.2 .4l1.5 1.3l1 2l.3 2.8l-0.1 6l.3 4.8l.1 8.8l.5 7.6l0 2.4l-0.6 2.4l-0.7 1.6l-1.1 1.2l-1.6 .9zM610 471.3l-1.2 0l-1.2 -.3l-1.2 -.7l-1.1 -1.1l-0.8 -1.2l-0.7 -1.6l-0.4 -2.8l.6 -6.6l-0.2 -9.4l.5 -7.2l-0.3 -8.8l.7 -2l.9 -1.3l1.2 -.9l2 -.5l1.2 .1l1.2 .4l1.7 1.4l.5 .8l.7 1.6l.4 3.6l-0.1 5.2l.3 4.8l0 9.2l.5 8l-0.1 2.8l-0.6 2.4l-1.2 2l-1.7 1.5l-1.6 .6z" fill="none" stroke="#111" stroke-width="0.42"/>
<path d="M610.4 432.5l-1.6 .3l-1.6 -.9l-1.1 -1.5l-0.7 -2.4l-0.1 -2.8l.7 -2.4l1.2 -1.7l1.6 -.9l1.6 .3l1.2 1l1 1.7l.5 2l0 2.4l-0.5 2l-1 1.9l-1.2 1.0zM610 430.4l-1.2 .2l-0.8 -.4l-0.8 -1.1l-0.5 -1.5l-0.1 -1.6l.4 -1.6l.7 -1.2l1.1 -.8l1.2 .2l.7 .6l.7 1.2l.3 1.2l.1 1.6l-0.3 1.2l-0.7 1.3l-0.8 .7zM609.2 428.8l-0.8 -.3l-0.3 -.5l-0.4 -1.6l.5 -1.6l.6 -.5l.4 -.1l.4 .1l.6 .5l.5 1.6l-0.4 1.6l-0.3 .5l-0.8 .3z" fill="none" stroke="#222" stroke-width="0.5"/>
<path d="M609.6 468.8l-1.6 -.1l-1.6 -.6l-1.2 -1l-1.1 -1.5l-0.7 -1.6l-0.3 -1.6l-0.3 -5.2l0 -27.6l.2 -4.8l.8 -2.8l1.3 -2l2.1 -1.5l2 -.4l1.2 .2l1.6 .6l1.2 1l1 1.3l.7 1.6l.4 1.6l.3 5.2l0 27.6l-0.2 4.8l-0.7 2.8l-1.2 2l-1.9 1.5l-2 .5z" fill="none" stroke="#222" stroke-width="0.5"/>
<ellipse cx="384.3" cy="437" rx="3.6" ry="14" fill="#777" fill-opacity="0.35"/>
<ellipse cx="496.1" cy="447" rx="3.0" ry="9" fill="#777" fill-opacity="0.3"/>
<ellipse cx="384.4" cy="465.6" rx="3.0" ry="3.3" fill="#111" fill-opacity="0.85"/>
<ellipse cx="496.1" cy="465.6" rx="3.0" ry="3.3" fill="#111" fill-opacity="0.85"/>
<ellipse cx="158.4" cy="465.0" rx="3.0" ry="3.5" fill="#111" fill-opacity="0.85"/>
<circle cx="43.8" cy="401.2" r="0.35" fill="#555"/>
<circle cx="44.7" cy="401.4" r="0.35" fill="#555"/>
<circle cx="46.5" cy="399.3" r="0.35" fill="#555"/>
<circle cx="155.1" cy="410.4" r="0.35" fill="#555"/>
<circle cx="156.8" cy="404.3" r="0.35" fill="#555"/>
<circle cx="162.0" cy="406.7" r="0.35" fill="#555"/>
<circle cx="160.9" cy="406.8" r="0.35" fill="#555"/>
<circle cx="159.5" cy="403.5" r="0.35" fill="#555"/>
<circle cx="159.4" cy="410.7" r="0.35" fill="#555"/>
<circle cx="270.6" cy="414.6" r="0.35" fill="#555"/>
<circle cx="271.6" cy="403.1" r="0.35" fill="#555"/>
<circle cx="272.2" cy="412.0" r="0.35" fill="#555"/>
<circle cx="269.0" cy="402.5" r="0.35" fill="#555"/>
<circle cx="273.0" cy="410.0" r="0.35" fill="#555"/>
<circle cx="271.9" cy="416.9" r="0.35" fill="#555"/>
<circle cx="271.9" cy="417.7" r="0.35" fill="#555"/>
<circle cx="383.6" cy="404.2" r="0.35" fill="#555"/>
<circle cx="383.9" cy="404.7" r="0.35" fill="#555"/>
<circle cx="498.7" cy="404.6" r="0.35" fill="#555"/>
<circle cx="493.5" cy="405.3" r="0.35" fill="#555"/>
<circle cx="499.3" cy="406.6" r="0.35" fill="#555"/>
<circle cx="496.9" cy="405.8" r="0.35" fill="#555"/>
<circle cx="609.3" cy="406.2" r="0.35" fill="#555"/>
<circle cx="608.2" cy="409.4" r="0.35" fill="#555"/>
<circle cx="609.8" cy="414.5" r="0.35" fill="#555"/>
<circle cx="610.5" cy="414.9" r="0.35" fill="#555"/>
<circle cx="611.7" cy="415.9" r="0.35" fill="#555"/>
<circle cx="610.4" cy="402.6" r="0.35" fill="#555"/>
<circle cx="611.7" cy="415.4" r="0.35" fill="#555"/>
<circle cx="612.0" cy="409.1" r="0.35" fill="#555"/>
<circle cx="610.7" cy="403.4" r="0.35" fill="#555"/>
<circle cx="611.5" cy="409.2" r="0.35" fill="#555"/>
<circle cx="607.7" cy="401.0" r="0.35" fill="#555"/>
<circle cx="611.7" cy="415.8" r="0.35" fill="#555"/>
<circle cx="606.3" cy="412.8" r="0.35" fill="#555"/>
<circle cx="608.6" cy="402.4" r="0.35" fill="#555"/>
<text x="8.1" y="445" font-size="10.0" text-anchor="middle" transform="rotate(-90 8.1 445)">APC-BrdU</text>
<text x="23" y="506.8" font-size="10.0">APC-Cy7-L/D</text>
<line x1="95.3" y1="503.4" x2="678" y2="503.4" stroke="#222" stroke-width="1.1"/>
<polygon points="684.5,503.4 676.5,500.6 676.5,506.2" fill="#222"/>
</svg>
</body></html>
